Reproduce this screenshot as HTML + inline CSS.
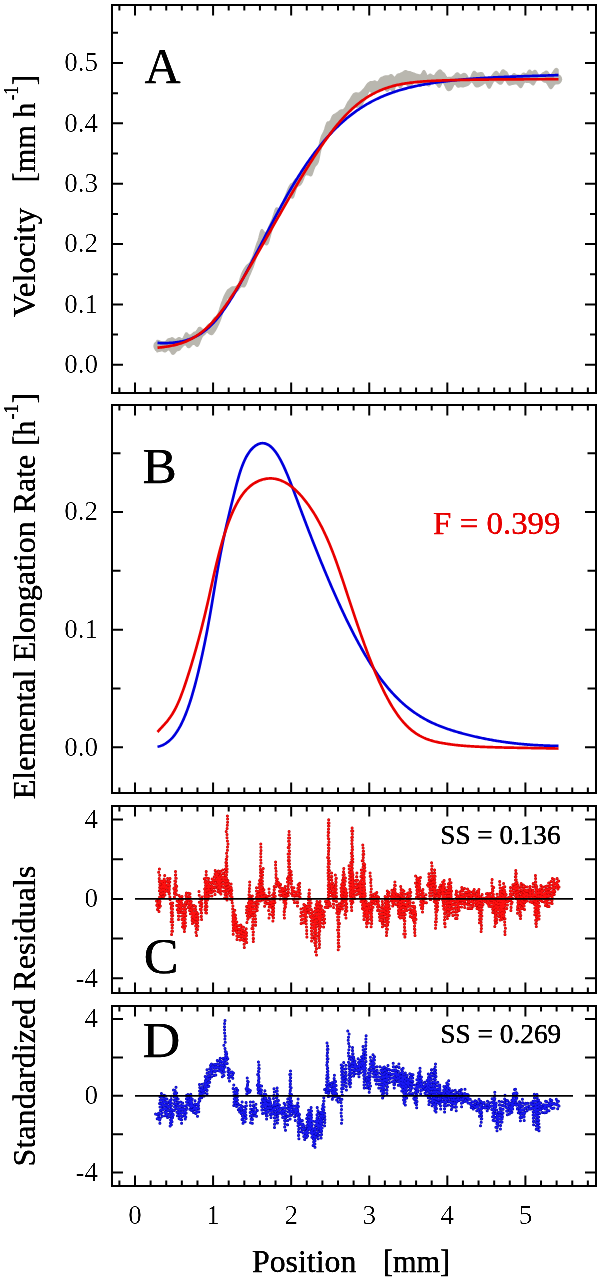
<!DOCTYPE html>
<html><head><meta charset="utf-8"><style>
html,body{margin:0;padding:0;background:#fff;width:600px;height:1280px;overflow:hidden}
svg{display:block}
text{font-family:"Liberation Serif",serif;white-space:pre}
</style></head><body>
<svg width="600" height="1280" viewBox="0 0 600 1280">
<path d="M157.0 340.4 157.5 340.4 158.0 340.5 158.5 340.7 159.0 340.9 159.5 341.2 160.0 341.6 160.5 341.9 161.0 342.1 161.5 342.2 162.0 342.2 162.5 342.1 163.0 342.1 163.5 342.0 164.0 342.1 164.5 342.1 165.0 342.0 165.5 341.8 166.0 341.4 166.5 340.8 167.0 340.2 167.5 339.6 168.0 339.2 168.5 338.9 169.0 338.8 169.5 338.7 170.0 338.6 170.5 338.4 171.0 338.2 171.5 337.9 172.0 337.8 172.5 337.9 173.0 338.2 173.5 338.6 174.0 339.0 174.5 339.3 175.0 339.5 175.5 339.5 176.0 339.4 176.5 339.2 177.0 338.8 177.5 338.5 178.0 338.1 178.5 337.8 179.0 337.7 179.5 337.7 180.0 337.9 180.5 338.3 181.0 338.6 181.5 338.9 182.0 339.0 182.5 338.8 183.0 338.3 183.5 337.6 184.0 336.7 184.5 335.6 185.0 334.5 185.5 333.6 186.0 333.0 186.5 332.9 187.0 333.1 187.5 333.6 188.0 334.2 188.5 334.7 189.0 335.1 189.5 335.3 190.0 335.3 190.5 335.2 191.0 334.9 191.5 334.6 192.0 334.2 192.5 333.7 193.0 333.3 193.5 332.8 194.0 332.5 194.5 332.3 195.0 332.1 195.5 331.9 196.0 331.6 196.5 331.1 197.0 330.5 197.5 329.6 198.0 328.8 198.5 328.1 199.0 327.6 199.5 327.4 200.0 327.4 200.5 327.6 201.0 328.0 201.5 328.5 202.0 328.9 202.5 329.3 203.0 329.6 203.5 329.7 204.0 329.7 204.5 329.5 205.0 329.0 205.5 328.4 206.0 327.6 206.5 326.9 207.0 326.1 207.5 325.5 208.0 324.9 208.5 324.5 209.0 324.2 209.5 324.0 210.0 323.8 210.5 323.5 211.0 323.1 211.5 322.4 212.0 321.6 212.5 320.7 213.0 319.8 213.5 319.0 214.0 318.3 214.5 317.7 215.0 317.2 215.5 316.9 216.0 316.5 216.5 316.1 217.0 315.5 217.5 314.8 218.0 314.0 218.5 312.9 219.0 311.4 219.5 309.9 220.0 308.2 220.5 306.6 221.0 305.1 221.5 303.6 222.0 302.2 222.5 300.9 223.0 299.5 223.5 298.2 224.0 296.9 224.5 295.8 225.0 294.8 225.5 293.8 226.0 292.9 226.5 292.0 227.0 291.1 227.5 290.4 228.0 289.9 228.5 289.5 229.0 289.2 229.5 288.9 230.0 288.5 230.5 288.2 231.0 287.7 231.5 287.4 232.0 287.1 232.5 287.0 233.0 287.0 233.5 287.0 234.0 287.0 234.5 287.0 235.0 286.9 235.5 286.6 236.0 286.4 236.5 286.1 237.0 285.7 237.5 285.3 238.0 284.7 238.5 283.8 239.0 282.7 239.5 281.2 240.0 279.5 240.5 277.8 241.0 276.2 241.5 274.7 242.0 273.3 242.5 272.2 243.0 271.1 243.5 270.3 244.0 269.5 244.5 268.7 245.0 267.9 245.5 267.1 246.0 266.4 246.5 265.7 247.0 265.2 247.5 264.7 248.0 264.4 248.5 264.1 249.0 263.7 249.5 263.1 250.0 262.4 250.5 261.5 251.0 260.4 251.5 259.3 252.0 258.3 252.5 257.2 253.0 256.0 253.5 254.6 254.0 253.1 254.5 251.4 255.0 249.8 255.5 248.1 256.0 246.4 256.5 244.9 257.0 243.5 257.5 242.2 258.0 240.9 258.5 239.4 259.0 237.7 259.5 235.8 260.0 233.8 260.5 232.0 261.0 230.6 261.5 229.8 262.0 229.6 262.5 229.9 263.0 230.6 263.5 231.3 264.0 232.0 264.5 232.5 265.0 232.8 265.5 232.8 266.0 232.4 266.5 231.8 267.0 231.0 267.5 230.1 268.0 229.1 268.5 227.9 269.0 226.7 269.5 225.5 270.0 224.4 270.5 223.3 271.0 222.1 271.5 220.9 272.0 219.7 272.5 218.5 273.0 217.1 273.5 215.6 274.0 213.9 274.5 212.2 275.0 210.6 275.5 209.3 276.0 208.4 276.5 208.0 277.0 208.0 277.5 208.2 278.0 208.6 278.5 208.9 279.0 209.1 279.5 208.9 280.0 208.3 280.5 207.4 281.0 206.4 281.5 205.3 282.0 204.3 282.5 203.4 283.0 202.4 283.5 201.3 284.0 200.0 284.5 198.6 285.0 197.3 285.5 195.9 286.0 194.5 286.5 193.2 287.0 191.9 287.5 190.6 288.0 189.3 288.5 188.1 289.0 187.0 289.5 186.1 290.0 185.3 290.5 184.7 291.0 184.1 291.5 183.7 292.0 183.4 292.5 183.0 293.0 182.5 293.5 181.9 294.0 181.2 294.5 180.4 295.0 179.8 295.5 179.3 296.0 179.0 296.5 178.8 297.0 178.6 297.5 178.3 298.0 177.7 298.5 177.1 299.0 176.4 299.5 175.6 300.0 174.9 300.5 174.2 301.0 173.4 301.5 172.5 302.0 171.4 302.5 170.3 303.0 169.3 303.5 168.5 304.0 167.9 304.5 167.7 305.0 167.8 305.5 168.1 306.0 168.2 306.5 168.2 307.0 167.9 307.5 167.4 308.0 166.6 308.5 165.6 309.0 164.7 309.5 163.8 310.0 163.0 310.5 162.2 311.0 161.4 311.5 160.6 312.0 159.7 312.5 158.8 313.0 158.1 313.5 157.4 314.0 156.9 314.5 156.4 315.0 155.9 315.5 155.4 316.0 154.9 316.5 154.3 317.0 153.4 317.5 152.1 318.0 150.6 318.5 148.7 319.0 146.4 319.5 144.0 320.0 141.7 320.5 139.7 321.0 137.9 321.5 136.4 322.0 135.3 322.5 134.3 323.0 133.4 323.5 132.4 324.0 131.3 324.5 130.0 325.0 128.5 325.5 126.8 326.0 125.2 326.5 123.9 327.0 122.8 327.5 122.2 328.0 122.0 328.5 122.0 329.0 122.0 329.5 121.8 330.0 121.3 330.5 120.5 331.0 119.5 331.5 118.3 332.0 117.2 332.5 116.2 333.0 115.5 333.5 115.0 334.0 114.7 334.5 114.5 335.0 114.2 335.5 113.9 336.0 113.6 336.5 113.2 337.0 112.9 337.5 112.6 338.0 112.2 338.5 111.8 339.0 111.3 339.5 110.9 340.0 110.5 340.5 110.3 341.0 110.1 341.5 110.1 342.0 110.1 342.5 109.9 343.0 109.7 343.5 109.4 344.0 109.0 344.5 108.5 345.0 107.9 345.5 107.1 346.0 106.2 346.5 105.1 347.0 104.0 347.5 103.1 348.0 102.2 348.5 101.5 349.0 100.9 349.5 100.3 350.0 99.5 350.5 98.7 351.0 97.8 351.5 97.0 352.0 96.1 352.5 95.4 353.0 94.7 353.5 94.1 354.0 93.7 354.5 93.4 355.0 93.2 355.5 93.1 356.0 93.1 356.5 93.0 357.0 93.1 357.5 93.2 358.0 93.3 358.5 93.3 359.0 93.2 359.5 92.9 360.0 92.6 360.5 92.2 361.0 91.8 361.5 91.3 362.0 90.9 362.5 90.4 363.0 89.9 363.5 89.4 364.0 88.9 364.5 88.2 365.0 87.5 365.5 86.8 366.0 86.0 366.5 85.2 367.0 84.5 367.5 83.9 368.0 83.4 368.5 83.0 369.0 82.6 369.5 82.3 370.0 82.0 370.5 81.8 371.0 81.7 371.5 81.7 372.0 81.7 372.5 81.7 373.0 81.6 373.5 81.4 374.0 81.2 374.5 81.0 375.0 81.1 375.5 81.3 376.0 81.6 376.5 81.9 377.0 82.1 377.5 82.1 378.0 81.8 378.5 81.2 379.0 80.4 379.5 79.6 380.0 78.8 380.5 78.2 381.0 77.8 381.5 77.5 382.0 77.4 382.5 77.2 383.0 77.0 383.5 76.7 384.0 76.5 384.5 76.3 385.0 76.2 385.5 76.1 386.0 76.0 386.5 75.9 387.0 75.9 387.5 76.0 388.0 76.0 388.5 75.9 389.0 75.7 389.5 75.4 390.0 75.1 390.5 74.8 391.0 74.7 391.5 74.8 392.0 75.1 392.5 75.6 393.0 76.2 393.5 76.8 394.0 77.3 394.5 77.5 395.0 77.3 395.5 76.9 396.0 76.2 396.5 75.5 397.0 74.9 397.5 74.4 398.0 74.2 398.5 74.1 399.0 74.1 399.5 74.0 400.0 73.8 400.5 73.5 401.0 73.2 401.5 72.9 402.0 72.7 402.5 72.4 403.0 72.1 403.5 71.8 404.0 71.4 404.5 71.1 405.0 70.8 405.5 70.7 406.0 70.8 406.5 70.9 407.0 71.2 407.5 71.4 408.0 71.6 408.5 71.7 409.0 71.7 409.5 71.8 410.0 71.8 410.5 71.9 411.0 72.1 411.5 72.4 412.0 72.6 412.5 72.8 413.0 73.0 413.5 73.2 414.0 73.3 414.5 73.5 415.0 73.8 415.5 74.0 416.0 74.2 416.5 74.3 417.0 74.4 417.5 74.5 418.0 74.6 418.5 74.8 419.0 74.9 419.5 75.0 420.0 75.0 420.5 74.9 421.0 74.5 421.5 73.9 422.0 73.1 422.5 72.2 423.0 71.4 423.5 70.8 424.0 70.6 424.5 70.9 425.0 71.6 425.5 72.6 426.0 73.7 426.5 74.7 427.0 75.5 427.5 75.8 428.0 75.8 428.5 75.4 429.0 74.9 429.5 74.5 430.0 74.3 430.5 74.3 431.0 74.5 431.5 74.9 432.0 75.2 432.5 75.5 433.0 75.8 433.5 75.9 434.0 75.8 434.5 75.5 435.0 75.0 435.5 74.3 436.0 73.5 436.5 72.8 437.0 72.2 437.5 71.7 438.0 71.2 438.5 70.8 439.0 70.4 439.5 70.2 440.0 70.1 440.5 70.2 441.0 70.6 441.5 71.1 442.0 71.7 442.5 72.2 443.0 72.6 443.5 72.9 444.0 73.3 444.5 73.9 445.0 74.7 445.5 75.6 446.0 76.5 446.5 77.2 447.0 77.6 447.5 77.8 448.0 77.7 448.5 77.6 449.0 77.5 449.5 77.5 450.0 77.5 450.5 77.5 451.0 77.5 451.5 77.4 452.0 77.2 452.5 77.0 453.0 76.6 453.5 76.2 454.0 75.7 454.5 75.2 455.0 74.7 455.5 74.1 456.0 73.7 456.5 73.3 457.0 73.0 457.5 73.0 458.0 73.2 458.5 73.6 459.0 74.1 459.5 74.6 460.0 75.0 460.5 75.1 461.0 75.1 461.5 74.8 462.0 74.5 462.5 74.1 463.0 73.8 463.5 73.6 464.0 73.6 464.5 73.6 465.0 73.8 465.5 74.0 466.0 74.4 466.5 75.0 467.0 75.7 467.5 76.6 468.0 77.6 468.5 78.3 469.0 78.9 469.5 79.0 470.0 78.6 470.5 77.9 471.0 76.8 471.5 75.6 472.0 74.4 472.5 73.3 473.0 72.4 473.5 71.7 474.0 71.4 474.5 71.4 475.0 71.7 475.5 72.2 476.0 72.7 476.5 73.1 477.0 73.3 477.5 73.4 478.0 73.3 478.5 73.2 479.0 73.1 479.5 73.0 480.0 72.9 480.5 72.8 481.0 72.7 481.5 72.7 482.0 72.8 482.5 73.1 483.0 73.7 483.5 74.5 484.0 75.4 484.5 76.4 485.0 77.2 485.5 77.8 486.0 78.1 486.5 78.2 487.0 78.2 487.5 78.2 488.0 78.2 488.5 78.2 489.0 78.3 489.5 78.3 490.0 78.1 490.5 77.7 491.0 77.1 491.5 76.4 492.0 75.6 492.5 74.9 493.0 74.3 493.5 73.7 494.0 73.1 494.5 72.6 495.0 72.1 495.5 71.7 496.0 71.5 496.5 71.5 497.0 71.8 497.5 72.3 498.0 73.0 498.5 73.7 499.0 74.2 499.5 74.3 500.0 73.9 500.5 73.2 501.0 72.2 501.5 71.3 502.0 70.5 502.5 70.1 503.0 69.9 503.5 70.0 504.0 70.3 504.5 70.7 505.0 71.0 505.5 71.4 506.0 71.7 506.5 72.1 507.0 72.7 507.5 73.5 508.0 74.5 508.5 75.7 509.0 76.7 509.5 77.5 510.0 77.9 510.5 77.8 511.0 77.3 511.5 76.6 512.0 75.8 512.5 75.0 513.0 74.4 513.5 73.9 514.0 73.8 514.5 73.8 515.0 74.1 515.5 74.5 516.0 74.8 516.5 75.1 517.0 75.2 517.5 75.2 518.0 75.2 518.5 75.2 519.0 75.3 519.5 75.4 520.0 75.4 520.5 75.4 521.0 75.1 521.5 74.8 522.0 74.3 522.5 73.8 523.0 73.5 523.5 73.3 524.0 73.3 524.5 73.5 525.0 73.8 525.5 74.0 526.0 73.9 526.5 73.7 527.0 73.2 527.5 72.5 528.0 71.7 528.5 71.0 529.0 70.5 529.5 70.2 530.0 70.3 530.5 70.7 531.0 71.3 531.5 71.8 532.0 72.1 532.5 72.1 533.0 71.9 533.5 71.4 534.0 70.9 534.5 70.5 535.0 70.4 535.5 70.6 536.0 71.1 536.5 71.8 537.0 72.6 537.5 73.5 538.0 74.4 538.5 75.1 539.0 75.6 539.5 75.8 540.0 75.8 540.5 75.5 541.0 74.9 541.5 74.3 542.0 73.8 542.5 73.3 543.0 72.9 543.5 72.6 544.0 72.4 544.5 72.1 545.0 71.8 545.5 71.5 546.0 71.3 546.5 71.2 547.0 71.4 547.5 71.8 548.0 72.4 548.5 73.1 549.0 73.8 549.5 74.4 550.0 74.8 550.5 75.0 551.0 74.8 551.5 74.4 552.0 73.7 552.5 73.0 553.0 72.1 553.5 71.4 554.0 70.6 554.5 69.9 555.0 69.3 555.5 68.9 556.0 68.6 556.5 68.6 557.0 68.8 557.5 69.2 558.0 69.8 L558.0 82.2 557.5 82.4 557.0 82.7 556.5 83.1 556.0 83.3 555.5 83.6 555.0 84.0 554.5 84.4 554.0 84.9 553.5 85.6 553.0 86.4 552.5 87.2 552.0 87.8 551.5 88.3 551.0 88.5 550.5 88.4 550.0 88.0 549.5 87.4 549.0 86.6 548.5 85.7 548.0 84.8 547.5 83.9 547.0 83.2 546.5 82.6 546.0 82.2 545.5 82.0 545.0 81.9 544.5 81.9 544.0 81.8 543.5 81.6 543.0 81.2 542.5 80.7 542.0 80.2 541.5 79.8 541.0 79.6 540.5 79.5 540.0 79.5 539.5 79.6 539.0 79.7 538.5 79.8 538.0 79.8 537.5 79.8 537.0 79.9 536.5 80.2 536.0 80.7 535.5 81.5 535.0 82.5 534.5 83.4 534.0 84.2 533.5 84.7 533.0 84.8 532.5 84.6 532.0 84.2 531.5 83.7 531.0 83.2 530.5 82.9 530.0 82.6 529.5 82.4 529.0 82.3 528.5 82.2 528.0 82.2 527.5 82.2 527.0 82.2 526.5 82.2 526.0 82.1 525.5 82.0 525.0 82.1 524.5 82.3 524.0 82.7 523.5 83.4 523.0 84.3 522.5 85.3 522.0 86.3 521.5 87.1 521.0 87.5 520.5 87.5 520.0 87.2 519.5 86.7 519.0 86.0 518.5 85.4 518.0 84.9 517.5 84.4 517.0 84.1 516.5 83.9 516.0 83.7 515.5 83.6 515.0 83.7 514.5 83.8 514.0 84.0 513.5 84.1 513.0 84.2 512.5 84.2 512.0 84.3 511.5 84.4 511.0 84.6 510.5 84.8 510.0 84.9 509.5 85.0 509.0 84.8 508.5 84.5 508.0 83.9 507.5 83.2 507.0 82.4 506.5 81.5 506.0 80.8 505.5 80.2 505.0 79.9 504.5 79.9 504.0 80.3 503.5 80.9 503.0 81.7 502.5 82.5 502.0 83.2 501.5 83.7 501.0 84.0 500.5 84.1 500.0 84.0 499.5 83.8 499.0 83.5 498.5 83.2 498.0 82.8 497.5 82.3 497.0 81.9 496.5 81.5 496.0 81.2 495.5 80.9 495.0 80.7 494.5 80.7 494.0 80.9 493.5 81.3 493.0 82.0 492.5 82.8 492.0 83.8 491.5 84.9 491.0 86.0 490.5 86.9 490.0 87.7 489.5 88.1 489.0 88.1 488.5 87.7 488.0 87.0 487.5 86.1 487.0 85.0 486.5 84.0 486.0 83.2 485.5 82.8 485.0 82.7 484.5 82.9 484.0 83.3 483.5 83.7 483.0 84.1 482.5 84.5 482.0 84.8 481.5 85.1 481.0 85.4 480.5 85.7 480.0 85.9 479.5 86.2 479.0 86.4 478.5 86.6 478.0 86.8 477.5 86.8 477.0 86.8 476.5 86.8 476.0 86.6 475.5 86.2 475.0 85.7 474.5 85.0 474.0 84.2 473.5 83.4 473.0 82.6 472.5 82.1 472.0 81.7 471.5 81.7 471.0 82.0 470.5 82.5 470.0 83.1 469.5 83.7 469.0 84.3 468.5 84.8 468.0 85.1 467.5 85.3 467.0 85.5 466.5 85.7 466.0 85.9 465.5 86.1 465.0 86.2 464.5 86.4 464.0 86.6 463.5 86.7 463.0 86.8 462.5 86.8 462.0 86.7 461.5 86.6 461.0 86.5 460.5 86.4 460.0 86.5 459.5 86.7 459.0 86.9 458.5 87.0 458.0 87.0 457.5 86.7 457.0 86.2 456.5 85.5 456.0 84.8 455.5 84.3 455.0 84.0 454.5 84.0 454.0 84.4 453.5 85.1 453.0 86.1 452.5 87.1 452.0 88.1 451.5 88.9 451.0 89.5 450.5 89.9 450.0 90.2 449.5 90.3 449.0 90.4 448.5 90.4 448.0 90.3 447.5 89.9 447.0 89.4 446.5 88.6 446.0 87.6 445.5 86.5 445.0 85.4 444.5 84.4 444.0 83.6 443.5 83.0 443.0 82.6 442.5 82.6 442.0 82.9 441.5 83.7 441.0 84.7 440.5 85.8 440.0 86.6 439.5 87.1 439.0 87.2 438.5 86.9 438.0 86.3 437.5 85.6 437.0 84.9 436.5 84.4 436.0 83.9 435.5 83.5 435.0 83.2 434.5 83.0 434.0 82.8 433.5 82.7 433.0 82.7 432.5 82.7 432.0 82.8 431.5 83.1 431.0 83.6 430.5 84.2 430.0 84.9 429.5 85.5 429.0 85.9 428.5 85.8 428.0 85.5 427.5 84.9 427.0 84.4 426.5 84.0 426.0 83.9 425.5 84.0 425.0 84.3 424.5 84.6 424.0 84.9 423.5 85.0 423.0 85.1 422.5 85.2 422.0 85.4 421.5 85.7 421.0 86.0 420.5 86.2 420.0 86.1 419.5 85.8 419.0 85.1 418.5 84.3 418.0 83.5 417.5 82.7 417.0 82.0 416.5 81.5 416.0 81.0 415.5 80.8 415.0 80.7 414.5 80.8 414.0 81.3 413.5 82.0 413.0 82.9 412.5 83.9 412.0 84.8 411.5 85.6 411.0 86.2 410.5 86.7 410.0 87.0 409.5 87.2 409.0 87.1 408.5 86.8 408.0 86.2 407.5 85.6 407.0 85.0 406.5 84.5 406.0 84.3 405.5 84.1 405.0 84.1 404.5 84.1 404.0 84.1 403.5 84.3 403.0 84.6 402.5 85.1 402.0 85.8 401.5 86.6 401.0 87.3 400.5 87.8 400.0 87.8 399.5 87.4 399.0 86.6 398.5 85.5 398.0 84.4 397.5 83.6 397.0 83.2 396.5 83.4 396.0 84.3 395.5 85.7 395.0 87.3 394.5 88.9 394.0 90.2 393.5 91.1 393.0 91.4 392.5 91.3 392.0 90.8 391.5 90.2 391.0 89.5 390.5 89.1 390.0 89.0 389.5 89.2 389.0 89.7 388.5 90.3 388.0 90.8 387.5 91.1 387.0 91.2 386.5 90.9 386.0 90.5 385.5 89.9 385.0 89.2 384.5 88.6 384.0 88.2 383.5 87.9 383.0 88.0 382.5 88.3 382.0 88.8 381.5 89.3 381.0 89.7 380.5 90.0 380.0 90.2 379.5 90.2 379.0 90.1 378.5 90.0 378.0 90.1 377.5 90.3 377.0 90.8 376.5 91.4 376.0 92.1 375.5 92.8 375.0 93.4 374.5 93.9 374.0 94.2 373.5 94.3 373.0 94.2 372.5 93.9 372.0 93.3 371.5 92.6 371.0 91.8 370.5 91.2 370.0 90.8 369.5 90.8 369.0 91.1 368.5 91.8 368.0 92.8 367.5 94.0 367.0 95.3 366.5 96.6 366.0 97.8 365.5 98.8 365.0 99.7 364.5 100.4 364.0 101.1 363.5 101.8 363.0 102.6 362.5 103.6 362.0 104.6 361.5 105.5 361.0 106.1 360.5 106.5 360.0 106.6 359.5 106.6 359.0 106.6 358.5 106.7 358.0 106.9 357.5 107.1 357.0 107.2 356.5 107.1 356.0 107.0 355.5 106.8 355.0 106.5 354.5 106.4 354.0 106.4 353.5 106.8 353.0 107.3 352.5 108.1 352.0 108.9 351.5 109.7 351.0 110.4 350.5 110.9 350.0 111.4 349.5 111.8 349.0 112.2 348.5 112.6 348.0 113.1 347.5 113.7 347.0 114.5 346.5 115.3 346.0 116.2 345.5 117.3 345.0 118.4 344.5 119.4 344.0 120.3 343.5 121.0 343.0 121.2 342.5 121.1 342.0 120.8 341.5 120.5 341.0 120.5 340.5 120.8 340.0 121.6 339.5 122.7 339.0 124.0 338.5 125.2 338.0 126.2 337.5 126.9 337.0 127.3 336.5 127.5 336.0 127.8 335.5 128.2 335.0 128.8 334.5 129.4 334.0 130.1 333.5 130.7 333.0 131.3 332.5 131.8 332.0 132.3 331.5 132.6 331.0 132.8 330.5 132.9 330.0 132.9 329.5 132.8 329.0 132.7 328.5 132.8 328.0 133.0 327.5 133.4 327.0 134.2 326.5 135.1 326.0 136.2 325.5 137.4 325.0 138.8 324.5 140.2 324.0 141.6 323.5 142.9 323.0 144.1 322.5 145.1 322.0 146.1 321.5 147.3 321.0 148.8 320.5 150.8 320.0 153.2 319.5 155.8 319.0 158.4 318.5 160.6 318.0 162.2 317.5 163.3 317.0 164.1 316.5 164.7 316.0 165.2 315.5 165.7 315.0 166.4 314.5 167.4 314.0 168.6 313.5 170.0 313.0 171.6 312.5 173.1 312.0 174.4 311.5 175.3 311.0 175.7 310.5 175.7 310.0 175.5 309.5 175.2 309.0 174.9 308.5 174.8 308.0 174.7 307.5 174.7 307.0 174.6 306.5 174.6 306.0 174.6 305.5 174.9 305.0 175.4 304.5 176.2 304.0 177.3 303.5 178.7 303.0 180.0 302.5 181.3 302.0 182.3 301.5 183.1 301.0 183.9 300.5 184.5 300.0 185.0 299.5 185.3 299.0 185.6 298.5 185.7 298.0 185.9 297.5 186.2 297.0 186.8 296.5 187.7 296.0 189.0 295.5 190.5 295.0 192.2 294.5 193.9 294.0 195.6 293.5 196.9 293.0 197.7 292.5 198.0 292.0 197.9 291.5 197.4 291.0 196.7 290.5 195.9 290.0 195.2 289.5 194.6 289.0 194.5 288.5 194.8 288.0 195.5 287.5 196.5 287.0 197.7 286.5 199.1 286.0 200.4 285.5 201.6 285.0 202.7 284.5 203.7 284.0 204.8 283.5 206.0 283.0 207.3 282.5 208.7 282.0 210.1 281.5 211.6 281.0 213.0 280.5 214.3 280.0 215.2 279.5 215.9 279.0 216.3 278.5 216.5 278.0 216.7 277.5 217.0 277.0 217.6 276.5 218.4 276.0 219.3 275.5 220.5 275.0 221.7 274.5 223.1 274.0 224.5 273.5 225.8 273.0 227.1 272.5 228.3 272.0 229.6 271.5 231.1 271.0 232.8 270.5 234.7 270.0 236.7 269.5 238.6 269.0 240.5 268.5 242.1 268.0 243.4 267.5 244.2 267.0 244.6 266.5 244.7 266.0 244.7 265.5 244.4 265.0 244.0 264.5 243.4 264.0 242.8 263.5 242.2 263.0 241.7 262.5 241.6 262.0 241.8 261.5 242.3 261.0 243.2 260.5 244.3 260.0 245.5 259.5 246.9 259.0 248.4 258.5 249.9 258.0 251.5 257.5 253.1 257.0 254.7 256.5 256.3 256.0 257.8 255.5 259.4 255.0 260.9 254.5 262.5 254.0 264.0 253.5 265.5 253.0 266.9 252.5 268.2 252.0 269.4 251.5 270.5 251.0 271.7 250.5 272.9 250.0 274.1 249.5 275.2 249.0 276.3 248.5 277.6 248.0 278.9 247.5 280.3 247.0 281.7 246.5 283.0 246.0 284.2 245.5 285.2 245.0 286.0 244.5 286.5 244.0 286.8 243.5 286.8 243.0 286.7 242.5 286.6 242.0 286.4 241.5 286.4 241.0 286.6 240.5 286.9 240.0 287.4 239.5 288.1 239.0 288.9 238.5 289.6 238.0 290.3 237.5 290.8 237.0 290.9 236.5 290.9 236.0 290.7 235.5 290.6 235.0 290.6 234.5 290.9 234.0 291.5 233.5 292.5 233.0 293.7 232.5 295.0 232.0 296.3 231.5 297.5 231.0 298.4 230.5 298.9 230.0 299.0 229.5 298.8 229.0 298.3 228.5 297.8 228.0 297.6 227.5 297.8 227.0 298.6 226.5 299.9 226.0 301.5 225.5 303.3 225.0 305.1 224.5 306.8 224.0 308.4 223.5 309.9 223.0 311.5 222.5 313.1 222.0 314.6 221.5 316.2 221.0 317.7 220.5 319.2 220.0 320.6 219.5 321.8 219.0 323.0 218.5 324.1 218.0 325.1 217.5 326.1 217.0 327.1 216.5 328.2 216.0 329.1 215.5 330.0 215.0 330.8 214.5 331.6 214.0 332.3 213.5 333.0 213.0 333.6 212.5 334.1 212.0 334.4 211.5 334.5 211.0 334.4 210.5 334.2 210.0 334.0 209.5 333.7 209.0 333.3 208.5 332.9 208.0 332.5 207.5 332.1 207.0 332.1 206.5 332.3 206.0 332.7 205.5 333.3 205.0 333.9 204.5 334.4 204.0 334.8 203.5 335.2 203.0 335.6 202.5 336.2 202.0 336.9 201.5 337.9 201.0 339.1 200.5 340.3 200.0 341.6 199.5 342.9 199.0 344.1 198.5 345.1 198.0 345.8 197.5 346.2 197.0 346.2 196.5 346.0 196.0 345.6 195.5 345.1 195.0 344.7 194.5 344.4 194.0 344.2 193.5 344.2 193.0 344.3 192.5 344.5 192.0 344.8 191.5 345.3 191.0 345.9 190.5 346.4 190.0 346.9 189.5 347.3 189.0 347.6 188.5 347.6 188.0 347.4 187.5 346.9 187.0 346.3 186.5 345.6 186.0 345.0 185.5 344.7 185.0 344.6 184.5 344.7 184.0 345.1 183.5 345.5 183.0 345.9 182.5 346.4 182.0 346.9 181.5 347.5 181.0 348.1 180.5 348.8 180.0 349.4 179.5 349.9 179.0 350.2 178.5 350.3 178.0 350.4 177.5 350.5 177.0 350.6 176.5 350.9 176.0 351.4 175.5 352.0 175.0 352.7 174.5 353.3 174.0 353.8 173.5 354.1 173.0 354.2 172.5 354.1 172.0 353.7 171.5 353.0 171.0 352.2 170.5 351.4 170.0 350.7 169.5 350.2 169.0 349.8 168.5 349.7 168.0 349.8 167.5 350.1 167.0 350.5 166.5 351.0 166.0 351.4 165.5 351.7 165.0 351.8 164.5 351.8 164.0 351.6 163.5 351.3 163.0 350.9 162.5 350.7 162.0 350.5 161.5 350.5 161.0 350.5 160.5 350.6 160.0 350.8 159.5 351.0 159.0 351.2 158.5 351.4 158.0 351.6 157.5 351.8 157.0 351.8Z" fill="#b9b7af" stroke="#b9b7af" stroke-width="1.5" stroke-linejoin="round"/><circle cx="159.0" cy="346.1" r="5.7" fill="#b9b7af"/><circle cx="557.0" cy="79.2" r="5.2" fill="#b9b7af"/><path d="M157.5 342.91 158.5 342.96 159.5 343.01 160.5 343.04 161.5 343.07 162.5 343.09 163.5 343.10 164.5 343.10 165.5 343.10 166.5 343.08 167.5 343.05 168.5 343.01 169.5 342.97 170.5 342.91 171.5 342.84 172.5 342.76 173.5 342.67 174.5 342.56 175.5 342.44 176.5 342.31 177.5 342.17 178.5 342.01 179.5 341.84 180.5 341.65 181.5 341.45 182.5 341.23 183.5 340.99 184.5 340.74 185.5 340.47 186.5 340.18 187.5 339.87 188.5 339.54 189.5 339.19 190.5 338.81 191.5 338.42 192.5 338.00 193.5 337.56 194.5 337.10 195.5 336.61 196.5 336.09 197.5 335.55 198.5 334.98 199.5 334.39 200.5 333.76 201.5 333.11 202.5 332.43 203.5 331.72 204.5 330.97 205.5 330.20 206.5 329.39 207.5 328.55 208.5 327.68 209.5 326.77 210.5 325.83 211.5 324.85 212.5 323.84 213.5 322.79 214.5 321.70 215.5 320.57 216.5 319.41 217.5 318.21 218.5 316.97 219.5 315.71 220.5 314.41 221.5 313.08 222.5 311.72 223.5 310.33 224.5 308.91 225.5 307.47 226.5 306.00 227.5 304.51 228.5 302.99 229.5 301.45 230.5 299.89 231.5 298.30 232.5 296.69 233.5 295.05 234.5 293.40 235.5 291.72 236.5 290.02 237.5 288.29 238.5 286.55 239.5 284.79 240.5 283.00 241.5 281.21 242.5 279.39 243.5 277.56 244.5 275.72 245.5 273.87 246.5 272.01 247.5 270.13 248.5 268.25 249.5 266.36 250.5 264.47 251.5 262.57 252.5 260.66 253.5 258.75 254.5 256.83 255.5 254.91 256.5 252.99 257.5 251.07 258.5 249.14 259.5 247.21 260.5 245.28 261.5 243.35 262.5 241.43 263.5 239.50 264.5 237.57 265.5 235.65 266.5 233.73 267.5 231.81 268.5 229.90 269.5 227.99 270.5 226.08 271.5 224.18 272.5 222.28 273.5 220.39 274.5 218.50 275.5 216.62 276.5 214.74 277.5 212.87 278.5 211.00 279.5 209.15 280.5 207.30 281.5 205.47 282.5 203.64 283.5 201.83 284.5 200.02 285.5 198.23 286.5 196.45 287.5 194.69 288.5 192.94 289.5 191.20 290.5 189.48 291.5 187.77 292.5 186.08 293.5 184.40 294.5 182.74 295.5 181.09 296.5 179.46 297.5 177.85 298.5 176.25 299.5 174.67 300.5 173.11 301.5 171.56 302.5 170.03 303.5 168.51 304.5 167.01 305.5 165.53 306.5 164.07 307.5 162.62 308.5 161.18 309.5 159.77 310.5 158.36 311.5 156.98 312.5 155.61 313.5 154.26 314.5 152.93 315.5 151.61 316.5 150.31 317.5 149.02 318.5 147.75 319.5 146.50 320.5 145.26 321.5 144.04 322.5 142.84 323.5 141.65 324.5 140.48 325.5 139.32 326.5 138.19 327.5 137.06 328.5 135.95 329.5 134.86 330.5 133.78 331.5 132.72 332.5 131.68 333.5 130.65 334.5 129.63 335.5 128.63 336.5 127.64 337.5 126.67 338.5 125.72 339.5 124.78 340.5 123.85 341.5 122.94 342.5 122.04 343.5 121.16 344.5 120.29 345.5 119.43 346.5 118.59 347.5 117.76 348.5 116.94 349.5 116.14 350.5 115.36 351.5 114.58 352.5 113.82 353.5 113.07 354.5 112.33 355.5 111.61 356.5 110.90 357.5 110.20 358.5 109.52 359.5 108.85 360.5 108.18 361.5 107.53 362.5 106.90 363.5 106.27 364.5 105.66 365.5 105.06 366.5 104.46 367.5 103.88 368.5 103.31 369.5 102.76 370.5 102.21 371.5 101.67 372.5 101.14 373.5 100.63 374.5 100.12 375.5 99.62 376.5 99.14 377.5 98.66 378.5 98.19 379.5 97.73 380.5 97.28 381.5 96.84 382.5 96.41 383.5 95.99 384.5 95.57 385.5 95.17 386.5 94.77 387.5 94.38 388.5 94.00 389.5 93.62 390.5 93.26 391.5 92.90 392.5 92.55 393.5 92.20 394.5 91.87 395.5 91.53 396.5 91.21 397.5 90.89 398.5 90.58 399.5 90.28 400.5 89.98 401.5 89.69 402.5 89.40 403.5 89.12 404.5 88.85 405.5 88.58 406.5 88.32 407.5 88.06 408.5 87.81 409.5 87.56 410.5 87.32 411.5 87.08 412.5 86.85 413.5 86.62 414.5 86.40 415.5 86.18 416.5 85.97 417.5 85.76 418.5 85.55 419.5 85.35 420.5 85.15 421.5 84.96 422.5 84.77 423.5 84.58 424.5 84.40 425.5 84.22 426.5 84.05 427.5 83.88 428.5 83.71 429.5 83.55 430.5 83.38 431.5 83.23 432.5 83.07 433.5 82.92 434.5 82.77 435.5 82.62 436.5 82.48 437.5 82.34 438.5 82.20 439.5 82.06 440.5 81.93 441.5 81.80 442.5 81.67 443.5 81.55 444.5 81.42 445.5 81.30 446.5 81.18 447.5 81.06 448.5 80.95 449.5 80.84 450.5 80.73 451.5 80.62 452.5 80.51 453.5 80.40 454.5 80.30 455.5 80.20 456.5 80.10 457.5 80.00 458.5 79.91 459.5 79.81 460.5 79.72 461.5 79.63 462.5 79.54 463.5 79.45 464.5 79.37 465.5 79.28 466.5 79.20 467.5 79.12 468.5 79.04 469.5 78.96 470.5 78.88 471.5 78.81 472.5 78.73 473.5 78.66 474.5 78.59 475.5 78.52 476.5 78.45 477.5 78.38 478.5 78.31 479.5 78.25 480.5 78.18 481.5 78.12 482.5 78.06 483.5 78.00 484.5 77.94 485.5 77.88 486.5 77.83 487.5 77.77 488.5 77.71 489.5 77.66 490.5 77.61 491.5 77.55 492.5 77.50 493.5 77.45 494.5 77.40 495.5 77.35 496.5 77.31 497.5 77.26 498.5 77.21 499.5 77.17 500.5 77.12 501.5 77.08 502.5 77.04 503.5 76.99 504.5 76.95 505.5 76.91 506.5 76.87 507.5 76.83 508.5 76.79 509.5 76.75 510.5 76.71 511.5 76.67 512.5 76.64 513.5 76.60 514.5 76.56 515.5 76.53 516.5 76.49 517.5 76.46 518.5 76.42 519.5 76.39 520.5 76.35 521.5 76.32 522.5 76.28 523.5 76.25 524.5 76.22 525.5 76.18 526.5 76.15 527.5 76.12 528.5 76.09 529.5 76.05 530.5 76.02 531.5 75.99 532.5 75.96 533.5 75.93 534.5 75.90 535.5 75.86 536.5 75.83 537.5 75.80 538.5 75.77 539.5 75.74 540.5 75.71 541.5 75.67 542.5 75.64 543.5 75.61 544.5 75.58 545.5 75.55 546.5 75.51 547.5 75.48 548.5 75.45 549.5 75.41 550.5 75.38 551.5 75.35 552.5 75.31 553.5 75.28 554.5 75.25 555.5 75.21 556.5 75.18 557.5 75.14 558.5 75.10" fill="none" stroke="#0000dc" stroke-width="2.7"/><path d="M157.5 347.71 158.5 347.62 159.5 347.52 160.5 347.42 161.5 347.30 162.5 347.18 163.5 347.06 164.5 346.92 165.5 346.78 166.5 346.63 167.5 346.47 168.5 346.31 169.5 346.13 170.5 345.95 171.5 345.75 172.5 345.55 173.5 345.33 174.5 345.11 175.5 344.87 176.5 344.62 177.5 344.35 178.5 344.07 179.5 343.78 180.5 343.47 181.5 343.14 182.5 342.79 183.5 342.43 184.5 342.05 185.5 341.64 186.5 341.22 187.5 340.78 188.5 340.32 189.5 339.84 190.5 339.33 191.5 338.81 192.5 338.26 193.5 337.69 194.5 337.09 195.5 336.48 196.5 335.84 197.5 335.18 198.5 334.49 199.5 333.78 200.5 333.04 201.5 332.28 202.5 331.49 203.5 330.68 204.5 329.84 205.5 328.97 206.5 328.08 207.5 327.15 208.5 326.20 209.5 325.22 210.5 324.21 211.5 323.16 212.5 322.09 213.5 320.99 214.5 319.86 215.5 318.70 216.5 317.51 217.5 316.30 218.5 315.06 219.5 313.79 220.5 312.49 221.5 311.18 222.5 309.84 223.5 308.47 224.5 307.09 225.5 305.68 226.5 304.25 227.5 302.80 228.5 301.34 229.5 299.86 230.5 298.36 231.5 296.84 232.5 295.31 233.5 293.76 234.5 292.20 235.5 290.62 236.5 289.03 237.5 287.43 238.5 285.82 239.5 284.19 240.5 282.56 241.5 280.91 242.5 279.26 243.5 277.60 244.5 275.92 245.5 274.24 246.5 272.56 247.5 270.86 248.5 269.16 249.5 267.45 250.5 265.74 251.5 264.02 252.5 262.30 253.5 260.57 254.5 258.83 255.5 257.10 256.5 255.36 257.5 253.61 258.5 251.86 259.5 250.11 260.5 248.36 261.5 246.60 262.5 244.85 263.5 243.09 264.5 241.32 265.5 239.56 266.5 237.79 267.5 236.03 268.5 234.26 269.5 232.50 270.5 230.73 271.5 228.96 272.5 227.19 273.5 225.43 274.5 223.66 275.5 221.89 276.5 220.13 277.5 218.37 278.5 216.61 279.5 214.85 280.5 213.09 281.5 211.34 282.5 209.58 283.5 207.83 284.5 206.09 285.5 204.34 286.5 202.61 287.5 200.87 288.5 199.14 289.5 197.41 290.5 195.69 291.5 193.97 292.5 192.26 293.5 190.55 294.5 188.85 295.5 187.15 296.5 185.46 297.5 183.78 298.5 182.10 299.5 180.43 300.5 178.76 301.5 177.10 302.5 175.45 303.5 173.81 304.5 172.18 305.5 170.55 306.5 168.93 307.5 167.33 308.5 165.73 309.5 164.13 310.5 162.55 311.5 160.98 312.5 159.42 313.5 157.87 314.5 156.32 315.5 154.79 316.5 153.27 317.5 151.76 318.5 150.27 319.5 148.78 320.5 147.31 321.5 145.85 322.5 144.40 323.5 142.96 324.5 141.54 325.5 140.13 326.5 138.74 327.5 137.36 328.5 136.00 329.5 134.65 330.5 133.32 331.5 132.00 332.5 130.70 333.5 129.42 334.5 128.15 335.5 126.90 336.5 125.67 337.5 124.46 338.5 123.26 339.5 122.09 340.5 120.93 341.5 119.79 342.5 118.68 343.5 117.58 344.5 116.50 345.5 115.44 346.5 114.40 347.5 113.38 348.5 112.39 349.5 111.41 350.5 110.45 351.5 109.51 352.5 108.59 353.5 107.69 354.5 106.81 355.5 105.95 356.5 105.11 357.5 104.29 358.5 103.48 359.5 102.70 360.5 101.93 361.5 101.19 362.5 100.46 363.5 99.75 364.5 99.06 365.5 98.38 366.5 97.73 367.5 97.09 368.5 96.47 369.5 95.87 370.5 95.28 371.5 94.71 372.5 94.16 373.5 93.62 374.5 93.10 375.5 92.60 376.5 92.11 377.5 91.63 378.5 91.18 379.5 90.73 380.5 90.30 381.5 89.89 382.5 89.49 383.5 89.10 384.5 88.72 385.5 88.36 386.5 88.01 387.5 87.68 388.5 87.35 389.5 87.04 390.5 86.74 391.5 86.45 392.5 86.17 393.5 85.91 394.5 85.65 395.5 85.40 396.5 85.17 397.5 84.94 398.5 84.72 399.5 84.51 400.5 84.31 401.5 84.12 402.5 83.93 403.5 83.76 404.5 83.59 405.5 83.43 406.5 83.27 407.5 83.12 408.5 82.98 409.5 82.84 410.5 82.71 411.5 82.59 412.5 82.47 413.5 82.35 414.5 82.25 415.5 82.14 416.5 82.04 417.5 81.94 418.5 81.85 419.5 81.76 420.5 81.68 421.5 81.60 422.5 81.52 423.5 81.45 424.5 81.38 425.5 81.31 426.5 81.24 427.5 81.18 428.5 81.12 429.5 81.06 430.5 81.00 431.5 80.95 432.5 80.89 433.5 80.84 434.5 80.80 435.5 80.75 436.5 80.70 437.5 80.66 438.5 80.62 439.5 80.57 440.5 80.53 441.5 80.50 442.5 80.46 443.5 80.42 444.5 80.39 445.5 80.35 446.5 80.32 447.5 80.29 448.5 80.26 449.5 80.23 450.5 80.20 451.5 80.17 452.5 80.14 453.5 80.11 454.5 80.09 455.5 80.06 456.5 80.04 457.5 80.01 458.5 79.99 459.5 79.97 460.5 79.95 461.5 79.93 462.5 79.91 463.5 79.89 464.5 79.87 465.5 79.85 466.5 79.83 467.5 79.81 468.5 79.79 469.5 79.78 470.5 79.76 471.5 79.74 472.5 79.73 473.5 79.71 474.5 79.70 475.5 79.69 476.5 79.67 477.5 79.66 478.5 79.64 479.5 79.63 480.5 79.62 481.5 79.61 482.5 79.59 483.5 79.58 484.5 79.57 485.5 79.56 486.5 79.55 487.5 79.54 488.5 79.53 489.5 79.52 490.5 79.51 491.5 79.50 492.5 79.49 493.5 79.48 494.5 79.47 495.5 79.46 496.5 79.45 497.5 79.44 498.5 79.43 499.5 79.42 500.5 79.42 501.5 79.41 502.5 79.40 503.5 79.39 504.5 79.39 505.5 79.38 506.5 79.37 507.5 79.36 508.5 79.36 509.5 79.35 510.5 79.35 511.5 79.34 512.5 79.33 513.5 79.33 514.5 79.32 515.5 79.32 516.5 79.31 517.5 79.31 518.5 79.30 519.5 79.30 520.5 79.29 521.5 79.29 522.5 79.28 523.5 79.28 524.5 79.27 525.5 79.27 526.5 79.27 527.5 79.26 528.5 79.26 529.5 79.26 530.5 79.25 531.5 79.25 532.5 79.25 533.5 79.24 534.5 79.24 535.5 79.24 536.5 79.24 537.5 79.24 538.5 79.23 539.5 79.23 540.5 79.23 541.5 79.23 542.5 79.23 543.5 79.23 544.5 79.23 545.5 79.22 546.5 79.22 547.5 79.22 548.5 79.22 549.5 79.22 550.5 79.22 551.5 79.22 552.5 79.22 553.5 79.22 554.5 79.23 555.5 79.23 556.5 79.23 557.5 79.23 558.5 79.23" fill="none" stroke="#e80000" stroke-width="2.7"/><path d="M157.5 746.74 158.5 746.51 159.5 746.24 160.5 745.92 161.5 745.55 162.5 745.14 163.5 744.67 164.5 744.15 165.5 743.56 166.5 742.92 167.5 742.21 168.5 741.43 169.5 740.57 170.5 739.65 171.5 738.64 172.5 737.55 173.5 736.38 174.5 735.12 175.5 733.77 176.5 732.33 177.5 730.79 178.5 729.15 179.5 727.41 180.5 725.56 181.5 723.60 182.5 721.53 183.5 719.34 184.5 717.03 185.5 714.61 186.5 712.05 187.5 709.37 188.5 706.56 189.5 703.62 190.5 700.54 191.5 697.32 192.5 693.96 193.5 690.47 194.5 686.85 195.5 683.10 196.5 679.23 197.5 675.23 198.5 671.10 199.5 666.86 200.5 662.50 201.5 658.03 202.5 653.44 203.5 648.74 204.5 643.93 205.5 638.99 206.5 633.93 207.5 628.72 208.5 623.35 209.5 617.82 210.5 612.11 211.5 606.25 212.5 600.27 213.5 594.24 214.5 588.20 215.5 582.19 216.5 576.28 217.5 570.50 218.5 564.87 219.5 559.40 220.5 554.08 221.5 548.92 222.5 543.92 223.5 539.07 224.5 534.37 225.5 529.79 226.5 525.32 227.5 520.96 228.5 516.69 229.5 512.50 230.5 508.37 231.5 504.30 232.5 500.26 233.5 496.26 234.5 492.28 235.5 488.36 236.5 484.53 237.5 480.82 238.5 477.27 239.5 473.91 240.5 470.77 241.5 467.87 242.5 465.18 243.5 462.71 244.5 460.44 245.5 458.36 246.5 456.46 247.5 454.73 248.5 453.16 249.5 451.73 250.5 450.44 251.5 449.28 252.5 448.23 253.5 447.29 254.5 446.44 255.5 445.69 256.5 445.04 257.5 444.48 258.5 444.03 259.5 443.67 260.5 443.41 261.5 443.25 262.5 443.19 263.5 443.23 264.5 443.38 265.5 443.62 266.5 443.97 267.5 444.42 268.5 444.98 269.5 445.63 270.5 446.40 271.5 447.27 272.5 448.24 273.5 449.32 274.5 450.51 275.5 451.80 276.5 453.21 277.5 454.72 278.5 456.34 279.5 458.07 280.5 459.90 281.5 461.82 282.5 463.84 283.5 465.94 284.5 468.13 285.5 470.38 286.5 472.71 287.5 475.09 288.5 477.54 289.5 480.03 290.5 482.57 291.5 485.14 292.5 487.75 293.5 490.39 294.5 493.04 295.5 495.72 296.5 498.40 297.5 501.09 298.5 503.77 299.5 506.45 300.5 509.12 301.5 511.78 302.5 514.43 303.5 517.08 304.5 519.71 305.5 522.34 306.5 524.95 307.5 527.56 308.5 530.16 309.5 532.74 310.5 535.32 311.5 537.88 312.5 540.44 313.5 542.98 314.5 545.51 315.5 548.04 316.5 550.55 317.5 553.04 318.5 555.53 319.5 558.01 320.5 560.47 321.5 562.92 322.5 565.36 323.5 567.78 324.5 570.19 325.5 572.59 326.5 574.98 327.5 577.35 328.5 579.71 329.5 582.05 330.5 584.38 331.5 586.69 332.5 588.99 333.5 591.28 334.5 593.55 335.5 595.81 336.5 598.05 337.5 600.27 338.5 602.48 339.5 604.67 340.5 606.85 341.5 609.01 342.5 611.15 343.5 613.28 344.5 615.39 345.5 617.49 346.5 619.56 347.5 621.62 348.5 623.66 349.5 625.68 350.5 627.69 351.5 629.68 352.5 631.64 353.5 633.59 354.5 635.52 355.5 637.44 356.5 639.33 357.5 641.20 358.5 643.05 359.5 644.89 360.5 646.70 361.5 648.49 362.5 650.27 363.5 652.02 364.5 653.75 365.5 655.46 366.5 657.15 367.5 658.82 368.5 660.46 369.5 662.09 370.5 663.69 371.5 665.27 372.5 666.82 373.5 668.36 374.5 669.87 375.5 671.36 376.5 672.83 377.5 674.27 378.5 675.69 379.5 677.08 380.5 678.46 381.5 679.80 382.5 681.13 383.5 682.43 384.5 683.70 385.5 684.96 386.5 686.19 387.5 687.40 388.5 688.59 389.5 689.75 390.5 690.90 391.5 692.02 392.5 693.12 393.5 694.20 394.5 695.26 395.5 696.30 396.5 697.32 397.5 698.32 398.5 699.30 399.5 700.27 400.5 701.21 401.5 702.13 402.5 703.04 403.5 703.92 404.5 704.79 405.5 705.65 406.5 706.48 407.5 707.30 408.5 708.10 409.5 708.88 410.5 709.65 411.5 710.40 412.5 711.13 413.5 711.85 414.5 712.56 415.5 713.25 416.5 713.92 417.5 714.58 418.5 715.23 419.5 715.86 420.5 716.48 421.5 717.08 422.5 717.67 423.5 718.25 424.5 718.81 425.5 719.37 426.5 719.91 427.5 720.44 428.5 720.95 429.5 721.46 430.5 721.95 431.5 722.44 432.5 722.91 433.5 723.37 434.5 723.83 435.5 724.27 436.5 724.70 437.5 725.13 438.5 725.54 439.5 725.95 440.5 726.34 441.5 726.73 442.5 727.11 443.5 727.49 444.5 727.85 445.5 728.21 446.5 728.56 447.5 728.91 448.5 729.24 449.5 729.58 450.5 729.90 451.5 730.22 452.5 730.54 453.5 730.85 454.5 731.15 455.5 731.45 456.5 731.75 457.5 732.04 458.5 732.33 459.5 732.61 460.5 732.89 461.5 733.17 462.5 733.44 463.5 733.71 464.5 733.98 465.5 734.24 466.5 734.50 467.5 734.76 468.5 735.01 469.5 735.26 470.5 735.51 471.5 735.75 472.5 735.99 473.5 736.23 474.5 736.47 475.5 736.70 476.5 736.92 477.5 737.15 478.5 737.37 479.5 737.59 480.5 737.80 481.5 738.01 482.5 738.22 483.5 738.42 484.5 738.63 485.5 738.83 486.5 739.02 487.5 739.21 488.5 739.40 489.5 739.59 490.5 739.77 491.5 739.95 492.5 740.13 493.5 740.31 494.5 740.48 495.5 740.65 496.5 740.81 497.5 740.97 498.5 741.13 499.5 741.29 500.5 741.44 501.5 741.60 502.5 741.74 503.5 741.89 504.5 742.03 505.5 742.17 506.5 742.31 507.5 742.44 508.5 742.57 509.5 742.70 510.5 742.83 511.5 742.95 512.5 743.07 513.5 743.19 514.5 743.30 515.5 743.41 516.5 743.52 517.5 743.63 518.5 743.73 519.5 743.83 520.5 743.93 521.5 744.03 522.5 744.12 523.5 744.21 524.5 744.30 525.5 744.39 526.5 744.47 527.5 744.55 528.5 744.63 529.5 744.70 530.5 744.78 531.5 744.85 532.5 744.92 533.5 744.98 534.5 745.04 535.5 745.11 536.5 745.16 537.5 745.22 538.5 745.27 539.5 745.32 540.5 745.37 541.5 745.42 542.5 745.46 543.5 745.51 544.5 745.55 545.5 745.58 546.5 745.62 547.5 745.65 548.5 745.68 549.5 745.71 550.5 745.74 551.5 745.76 552.5 745.78 553.5 745.80 554.5 745.82 555.5 745.83 556.5 745.85 557.5 745.86 558.5 745.87" fill="none" stroke="#0000dc" stroke-width="2.7"/><path d="M157.5 731.98 158.5 730.86 159.5 729.76 160.5 728.68 161.5 727.60 162.5 726.52 163.5 725.43 164.5 724.32 165.5 723.18 166.5 722.01 167.5 720.79 168.5 719.51 169.5 718.18 170.5 716.77 171.5 715.29 172.5 713.72 173.5 712.05 174.5 710.28 175.5 708.40 176.5 706.40 177.5 704.27 178.5 702.02 179.5 699.65 180.5 697.16 181.5 694.57 182.5 691.88 183.5 689.10 184.5 686.23 185.5 683.28 186.5 680.26 187.5 677.17 188.5 674.02 189.5 670.82 190.5 667.57 191.5 664.27 192.5 660.93 193.5 657.54 194.5 654.09 195.5 650.59 196.5 647.04 197.5 643.43 198.5 639.75 199.5 636.02 200.5 632.22 201.5 628.35 202.5 624.41 203.5 620.40 204.5 616.31 205.5 612.15 206.5 607.91 207.5 603.59 208.5 599.19 209.5 594.70 210.5 590.16 211.5 585.60 212.5 581.06 213.5 576.57 214.5 572.17 215.5 567.86 216.5 563.65 217.5 559.54 218.5 555.54 219.5 551.65 220.5 547.88 221.5 544.24 222.5 540.73 223.5 537.36 224.5 534.11 225.5 530.98 226.5 527.98 227.5 525.10 228.5 522.33 229.5 519.68 230.5 517.14 231.5 514.71 232.5 512.39 233.5 510.17 234.5 508.06 235.5 506.04 236.5 504.12 237.5 502.30 238.5 500.56 239.5 498.92 240.5 497.36 241.5 495.88 242.5 494.49 243.5 493.17 244.5 491.93 245.5 490.76 246.5 489.66 247.5 488.63 248.5 487.67 249.5 486.76 250.5 485.92 251.5 485.14 252.5 484.41 253.5 483.73 254.5 483.10 255.5 482.52 256.5 481.98 257.5 481.49 258.5 481.03 259.5 480.61 260.5 480.23 261.5 479.88 262.5 479.57 263.5 479.30 264.5 479.07 265.5 478.87 266.5 478.71 267.5 478.58 268.5 478.50 269.5 478.45 270.5 478.43 271.5 478.46 272.5 478.52 273.5 478.61 274.5 478.75 275.5 478.92 276.5 479.12 277.5 479.37 278.5 479.65 279.5 479.96 280.5 480.32 281.5 480.71 282.5 481.14 283.5 481.60 284.5 482.10 285.5 482.64 286.5 483.21 287.5 483.82 288.5 484.47 289.5 485.15 290.5 485.87 291.5 486.63 292.5 487.42 293.5 488.25 294.5 489.12 295.5 490.02 296.5 490.96 297.5 491.93 298.5 492.95 299.5 493.99 300.5 495.08 301.5 496.20 302.5 497.36 303.5 498.55 304.5 499.78 305.5 501.05 306.5 502.35 307.5 503.69 308.5 505.06 309.5 506.48 310.5 507.93 311.5 509.42 312.5 510.95 313.5 512.52 314.5 514.14 315.5 515.80 316.5 517.50 317.5 519.25 318.5 521.04 319.5 522.88 320.5 524.77 321.5 526.71 322.5 528.70 323.5 530.74 324.5 532.83 325.5 534.97 326.5 537.17 327.5 539.42 328.5 541.73 329.5 544.09 330.5 546.51 331.5 548.99 332.5 551.53 333.5 554.13 334.5 556.79 335.5 559.51 336.5 562.27 337.5 565.08 338.5 567.93 339.5 570.82 340.5 573.74 341.5 576.70 342.5 579.67 343.5 582.67 344.5 585.69 345.5 588.72 346.5 591.76 347.5 594.80 348.5 597.84 349.5 600.88 350.5 603.91 351.5 606.92 352.5 609.93 353.5 612.92 354.5 615.90 355.5 618.86 356.5 621.80 357.5 624.73 358.5 627.64 359.5 630.52 360.5 633.39 361.5 636.23 362.5 639.04 363.5 641.83 364.5 644.60 365.5 647.33 366.5 650.04 367.5 652.72 368.5 655.37 369.5 657.98 370.5 660.56 371.5 663.11 372.5 665.62 373.5 668.09 374.5 670.52 375.5 672.92 376.5 675.27 377.5 677.58 378.5 679.85 379.5 682.08 380.5 684.27 381.5 686.42 382.5 688.52 383.5 690.58 384.5 692.59 385.5 694.56 386.5 696.49 387.5 698.38 388.5 700.22 389.5 702.01 390.5 703.76 391.5 705.47 392.5 707.13 393.5 708.74 394.5 710.31 395.5 711.84 396.5 713.31 397.5 714.74 398.5 716.12 399.5 717.46 400.5 718.75 401.5 719.99 402.5 721.19 403.5 722.34 404.5 723.45 405.5 724.52 406.5 725.55 407.5 726.53 408.5 727.48 409.5 728.39 410.5 729.26 411.5 730.10 412.5 730.90 413.5 731.66 414.5 732.39 415.5 733.09 416.5 733.76 417.5 734.40 418.5 735.00 419.5 735.58 420.5 736.13 421.5 736.66 422.5 737.15 423.5 737.63 424.5 738.07 425.5 738.50 426.5 738.90 427.5 739.28 428.5 739.64 429.5 739.99 430.5 740.31 431.5 740.62 432.5 740.91 433.5 741.18 434.5 741.44 435.5 741.69 436.5 741.92 437.5 742.14 438.5 742.36 439.5 742.56 440.5 742.75 441.5 742.93 442.5 743.11 443.5 743.28 444.5 743.45 445.5 743.61 446.5 743.77 447.5 743.92 448.5 744.07 449.5 744.21 450.5 744.35 451.5 744.48 452.5 744.61 453.5 744.73 454.5 744.85 455.5 744.97 456.5 745.08 457.5 745.19 458.5 745.29 459.5 745.39 460.5 745.49 461.5 745.58 462.5 745.67 463.5 745.75 464.5 745.84 465.5 745.92 466.5 745.99 467.5 746.07 468.5 746.14 469.5 746.21 470.5 746.27 471.5 746.33 472.5 746.39 473.5 746.45 474.5 746.51 475.5 746.56 476.5 746.61 477.5 746.66 478.5 746.71 479.5 746.75 480.5 746.79 481.5 746.84 482.5 746.88 483.5 746.92 484.5 746.95 485.5 746.99 486.5 747.02 487.5 747.06 488.5 747.09 489.5 747.12 490.5 747.15 491.5 747.19 492.5 747.22 493.5 747.24 494.5 747.27 495.5 747.30 496.5 747.33 497.5 747.35 498.5 747.38 499.5 747.41 500.5 747.43 501.5 747.46 502.5 747.48 503.5 747.50 504.5 747.53 505.5 747.55 506.5 747.57 507.5 747.59 508.5 747.61 509.5 747.63 510.5 747.65 511.5 747.67 512.5 747.69 513.5 747.71 514.5 747.73 515.5 747.75 516.5 747.77 517.5 747.79 518.5 747.81 519.5 747.82 520.5 747.84 521.5 747.86 522.5 747.88 523.5 747.89 524.5 747.91 525.5 747.93 526.5 747.94 527.5 747.96 528.5 747.98 529.5 748.00 530.5 748.01 531.5 748.03 532.5 748.05 533.5 748.06 534.5 748.08 535.5 748.10 536.5 748.11 537.5 748.13 538.5 748.15 539.5 748.16 540.5 748.18 541.5 748.20 542.5 748.22 543.5 748.23 544.5 748.25 545.5 748.27 546.5 748.29 547.5 748.31 548.5 748.33 549.5 748.35 550.5 748.37 551.5 748.39 552.5 748.41 553.5 748.43 554.5 748.45 555.5 748.48 556.5 748.50 557.5 748.52 558.5 748.54" fill="none" stroke="#e80000" stroke-width="2.7"/><path d="M156.6 901.1h0M156.8 905.3h0M157.5 909.4h0M157.6 906.0h0M158.2 902.7h0M158.2 899.3h0M157.8 903.4h0M158.6 907.5h0M159.0 911.6h0M159.1 907.7h0M159.5 903.8h0M159.2 899.9h0M159.4 903.0h0M160.3 906.1h0M160.0 901.6h0M160.7 897.1h0M159.4 869.1h0M158.7 872.2h0M159.7 875.2h0M159.2 878.4h0M159.3 881.5h0M159.9 884.5h0M159.7 887.6h0M159.4 890.8h0M160.5 893.8h0M159.7 896.9h0M160.2 893.8h0M160.3 890.6h0M160.8 887.5h0M160.4 884.3h0M161.0 881.1h0M160.6 884.5h0M161.3 887.8h0M160.9 891.2h0M161.2 894.5h0M162.1 890.5h0M161.9 886.5h0M162.0 882.4h0M162.8 886.0h0M162.4 889.5h0M162.3 893.1h0M162.9 896.6h0M162.5 893.5h0M163.3 890.3h0M163.4 887.2h0M163.0 884.0h0M163.2 880.9h0M163.5 884.0h0M163.6 887.2h0M163.5 890.3h0M164.1 893.5h0M163.4 896.7h0M164.0 893.1h0M164.1 889.6h0M164.3 886.1h0M164.6 882.5h0M164.2 879.0h0M164.7 875.5h0M165.0 880.9h0M165.2 884.4h0M165.5 887.9h0M165.1 891.4h0M165.0 895.0h0M166.0 890.7h0M166.1 886.5h0M167.0 891.0h0M166.9 887.8h0M167.4 884.7h0M167.4 881.5h0M167.6 878.4h0M167.7 881.6h0M167.8 884.9h0M167.9 888.2h0M168.1 891.5h0M168.5 888.1h0M168.3 884.8h0M169.2 881.5h0M168.8 884.6h0M169.2 887.7h0M169.0 890.8h0M169.1 893.9h0M169.9 896.9h0M169.4 893.2h0M169.2 889.5h0M169.5 885.8h0M169.8 882.1h0M170.0 878.4h0M170.1 899.6h0M170.5 903.8h0M171.2 908.0h0M171.1 903.1h0M171.6 906.2h0M171.6 909.3h0M171.2 912.5h0M171.6 915.6h0M171.6 918.7h0M171.1 921.8h0M172.0 925.0h0M172.1 928.1h0M171.8 931.2h0M171.6 934.4h0M172.5 931.2h0M172.2 928.1h0M172.5 924.9h0M172.7 921.8h0M172.2 918.7h0M172.7 915.5h0M172.4 912.4h0M172.5 909.3h0M172.6 906.1h0M172.7 903.0h0M173.9 888.6h0M174.4 892.8h0M174.4 896.9h0M174.6 893.8h0M174.8 890.6h0M174.8 887.5h0M175.0 884.3h0M174.9 881.1h0M175.8 878.0h0M175.7 874.8h0M175.5 871.6h0M175.4 874.9h0M176.2 878.2h0M175.7 881.5h0M175.7 884.7h0M175.9 888.0h0M176.0 891.3h0M176.4 894.5h0M176.4 890.4h0M176.7 886.2h0M177.1 901.0h0M176.7 905.4h0M177.3 909.8h0M177.3 905.7h0M178.1 901.6h0M178.1 905.2h0M178.2 908.8h0M178.2 912.4h0M178.4 916.0h0M178.5 919.6h0M178.9 916.2h0M179.3 912.8h0M178.4 909.4h0M179.0 905.9h0M179.0 902.5h0M179.4 899.1h0M179.1 895.6h0M179.5 899.3h0M179.4 903.0h0M180.1 906.7h0M180.0 910.4h0M180.1 907.2h0M180.5 904.0h0M180.4 900.8h0M180.2 897.6h0M181.0 901.2h0M181.1 904.9h0M181.1 908.6h0M181.6 912.2h0M181.8 909.1h0M181.3 905.9h0M181.5 902.7h0M182.3 899.6h0M182.0 896.4h0M182.0 912.5h0M181.8 916.0h0M182.0 919.6h0M182.8 923.2h0M182.5 926.7h0M182.8 923.2h0M183.1 919.7h0M183.2 916.2h0M183.0 912.6h0M183.2 909.1h0M183.1 905.6h0M183.9 908.8h0M183.7 912.1h0M183.3 915.4h0M183.7 918.6h0M184.0 921.9h0M184.0 925.1h0M184.5 928.4h0M184.4 931.6h0M183.9 928.3h0M184.1 924.9h0M183.9 921.6h0M184.4 918.2h0M184.5 914.9h0M185.3 911.5h0M184.6 908.2h0M184.0 904.8h0M184.6 908.4h0M184.9 911.9h0M184.6 915.4h0M184.9 919.0h0M185.1 922.5h0M185.4 926.1h0M185.4 922.7h0M185.2 919.3h0M185.8 915.8h0M185.5 912.4h0M185.6 909.0h0M185.4 905.6h0M185.6 902.2h0M186.1 898.8h0M186.0 895.4h0M186.4 893.1h0M186.7 897.4h0M186.7 901.7h0M186.8 899.8h0M187.4 903.7h0M188.3 907.5h0M188.7 903.9h0M188.4 900.3h0M188.9 896.8h0M188.5 893.2h0M188.7 896.6h0M188.9 900.1h0M189.2 903.5h0M188.7 906.9h0M189.6 910.4h0M189.9 907.0h0M189.3 903.7h0M189.3 900.3h0M190.0 897.0h0M190.0 893.7h0M190.0 902.6h0M190.0 906.3h0M190.5 910.0h0M190.4 913.7h0M190.7 909.6h0M191.2 905.5h0M191.2 901.4h0M191.3 904.5h0M192.0 907.7h0M191.9 910.9h0M192.0 914.1h0M192.0 917.3h0M192.1 920.5h0M192.4 923.6h0M192.2 919.9h0M192.9 916.1h0M192.2 912.4h0M192.6 908.6h0M192.5 912.7h0M193.0 916.7h0M193.5 920.8h0M193.9 917.0h0M193.5 913.1h0M193.8 909.3h0M194.0 905.5h0M194.0 914.4h0M194.1 918.1h0M194.4 921.9h0M194.4 918.8h0M195.5 915.7h0M194.7 912.6h0M195.7 909.5h0M195.5 906.4h0M195.3 909.6h0M195.1 912.9h0M195.9 916.1h0M196.1 919.4h0M195.4 922.6h0M195.7 925.9h0M196.2 929.1h0M196.0 932.4h0M196.6 935.6h0M195.9 932.3h0M196.4 929.0h0M195.9 925.6h0M197.0 922.3h0M196.3 918.9h0M195.9 915.6h0M196.6 912.2h0M196.8 915.7h0M197.5 919.1h0M197.0 922.5h0M197.2 925.9h0M197.5 929.4h0M197.9 926.2h0M197.6 923.1h0M198.0 920.0h0M198.0 916.9h0M198.0 913.8h0M199.0 891.6h0M199.2 895.2h0M199.9 898.7h0M199.3 902.2h0M200.2 905.8h0M200.3 909.3h0M200.3 905.7h0M200.4 902.2h0M200.7 905.7h0M201.1 909.2h0M201.3 912.7h0M201.3 916.2h0M201.6 919.6h0M201.3 916.4h0M201.6 913.1h0M201.1 909.9h0M201.9 906.6h0M201.9 903.4h0M201.8 900.1h0M202.0 896.9h0M204.3 878.8h0M205.1 882.2h0M205.6 885.6h0M204.7 889.0h0M205.0 892.4h0M204.9 895.8h0M205.2 899.2h0M205.3 902.6h0M205.6 906.0h0M205.0 909.4h0M205.8 912.8h0M205.1 909.7h0M205.5 906.5h0M205.8 903.3h0M205.8 900.2h0M205.3 897.0h0M205.4 893.8h0M205.6 890.7h0M205.7 887.5h0M206.1 884.3h0M205.5 881.2h0M206.0 878.0h0M206.1 874.8h0M206.2 871.6h0M206.2 874.8h0M206.6 878.0h0M206.3 881.2h0M206.5 884.4h0M206.4 887.5h0M206.8 890.7h0M205.8 893.9h0M206.8 897.1h0M206.4 900.2h0M206.4 903.4h0M206.3 906.6h0M206.0 909.8h0M206.5 912.9h0M206.5 909.7h0M207.0 906.5h0M206.5 903.3h0M207.4 900.1h0M207.1 896.9h0M207.1 893.6h0M207.0 890.4h0M207.3 887.2h0M207.3 882.8h0M208.0 886.4h0M207.8 889.9h0M207.7 893.4h0M207.5 896.9h0M207.7 893.8h0M207.7 890.8h0M208.5 887.6h0M208.2 884.5h0M208.6 881.5h0M208.5 878.4h0M208.8 881.9h0M209.3 885.5h0M208.8 889.1h0M209.1 892.7h0M209.1 896.2h0M209.8 893.0h0M209.5 889.7h0M209.7 886.5h0M210.3 891.3h0M210.5 887.2h0M211.3 883.1h0M212.1 878.9h0M211.2 882.4h0M211.9 885.8h0M211.8 889.2h0M211.6 892.6h0M211.9 896.0h0M212.3 891.8h0M212.7 887.5h0M213.1 882.1h0M214.1 883.6h0M214.0 880.2h0M214.3 876.7h0M213.7 880.2h0M214.3 883.8h0M214.2 887.3h0M214.4 890.8h0M215.0 894.4h0M214.6 890.9h0M214.9 887.5h0M214.4 884.1h0M215.0 880.6h0M215.2 877.2h0M215.1 873.8h0M215.2 870.4h0M216.1 873.7h0M215.3 877.0h0M215.6 880.3h0M215.8 883.7h0M216.6 880.0h0M217.1 876.3h0M216.8 872.6h0M216.6 875.8h0M216.8 878.9h0M217.4 882.1h0M216.9 885.2h0M217.7 888.4h0M217.8 891.5h0M217.5 888.1h0M217.8 884.7h0M217.9 881.3h0M218.3 877.9h0M217.6 874.5h0M218.4 871.1h0M218.1 874.3h0M218.1 877.5h0M218.5 880.6h0M218.5 883.8h0M218.4 886.9h0M218.4 883.4h0M218.8 879.8h0M219.6 876.2h0M220.0 872.6h0M219.7 876.0h0M219.9 879.3h0M219.5 882.6h0M219.8 885.9h0M220.0 889.2h0M219.7 892.6h0M219.8 889.0h0M220.3 885.5h0M220.3 881.9h0M220.2 878.4h0M220.7 874.9h0M220.7 871.3h0M219.9 881.2h0M220.0 884.4h0M220.2 887.7h0M220.8 890.9h0M220.9 894.1h0M221.3 890.9h0M220.5 887.6h0M221.1 884.3h0M221.2 881.0h0M221.5 877.7h0M221.6 880.8h0M221.8 884.0h0M222.5 887.1h0M222.4 883.7h0M222.2 880.3h0M223.1 876.9h0M223.1 873.5h0M222.8 870.1h0M223.4 873.6h0M223.1 877.0h0M223.9 880.4h0M223.7 883.8h0M224.6 877.7h0M224.7 881.1h0M224.8 884.4h0M224.7 887.8h0M223.9 891.2h0M225.1 894.5h0M224.7 897.9h0M225.4 894.7h0M225.7 891.5h0M225.5 888.2h0M225.3 885.0h0M225.5 881.8h0M225.5 878.6h0M225.5 875.4h0M225.5 872.1h0M225.5 868.9h0M226.2 865.7h0M225.9 862.5h0M226.2 859.3h0M225.9 862.4h0M226.1 865.5h0M226.1 868.7h0M226.3 871.8h0M226.5 874.9h0M226.4 878.1h0M226.1 881.2h0M226.2 884.4h0M226.9 887.5h0M226.4 890.6h0M226.5 893.8h0M227.1 896.9h0M227.0 900.0h0M226.9 896.9h0M226.6 893.8h0M227.5 890.7h0M226.9 887.6h0M227.0 884.5h0M226.8 881.4h0M226.4 878.2h0M226.5 875.1h0M227.0 872.0h0M227.1 868.9h0M226.9 865.8h0M226.6 862.7h0M226.6 859.6h0M227.0 856.4h0M226.6 853.3h0M227.4 850.2h0M227.5 847.1h0M228.0 844.0h0M227.4 840.9h0M227.0 837.8h0M227.0 834.6h0M226.2 831.5h0M227.1 828.4h0M227.3 825.3h0M227.6 822.2h0M227.6 819.1h0M227.4 816.0h0M227.9 880.6h0M227.9 883.9h0M227.9 887.3h0M227.5 890.7h0M228.1 894.1h0M228.2 890.5h0M228.5 886.9h0M228.6 883.3h0M229.1 886.4h0M229.0 889.5h0M229.6 892.6h0M230.0 889.0h0M230.1 892.4h0M230.4 895.9h0M230.5 899.3h0M231.0 895.5h0M230.9 891.7h0M231.2 887.9h0M231.1 884.1h0M230.9 887.3h0M231.8 890.5h0M231.3 893.7h0M232.0 896.9h0M231.9 900.0h0M232.2 902.8h0M232.9 905.9h0M232.7 909.0h0M232.9 912.2h0M232.8 915.4h0M233.1 918.5h0M232.8 921.6h0M233.1 924.8h0M233.4 928.0h0M233.3 931.1h0M233.2 934.2h0M233.1 930.8h0M233.6 927.4h0M233.8 923.9h0M233.7 920.5h0M233.6 917.1h0M234.1 913.6h0M234.8 910.2h0M234.1 913.4h0M234.4 916.6h0M234.6 919.9h0M233.8 923.1h0M234.7 926.3h0M234.6 929.5h0M235.4 926.0h0M235.1 922.4h0M235.1 918.9h0M235.5 915.3h0M235.8 918.5h0M235.7 921.7h0M236.0 924.8h0M235.7 928.0h0M236.3 931.2h0M236.8 922.1h0M236.8 925.5h0M236.5 929.0h0M236.8 932.5h0M236.9 936.0h0M237.0 939.4h0M237.2 935.8h0M237.1 932.1h0M237.0 928.4h0M237.7 932.5h0M237.6 936.6h0M238.5 933.0h0M238.7 929.4h0M238.4 925.8h0M239.2 929.4h0M239.5 933.0h0M239.4 936.6h0M240.0 940.1h0M240.2 936.4h0M239.5 932.7h0M240.3 929.0h0M240.3 925.3h0M240.5 928.7h0M240.9 932.1h0M240.8 935.5h0M240.8 925.1h0M240.9 928.7h0M241.2 932.3h0M240.7 936.0h0M241.2 939.6h0M241.5 936.5h0M241.8 933.3h0M241.8 930.1h0M242.4 926.9h0M242.3 930.2h0M242.4 933.5h0M242.6 936.7h0M243.0 940.0h0M242.8 936.8h0M243.4 933.7h0M243.4 930.5h0M243.5 927.3h0M243.5 930.7h0M243.8 934.1h0M244.1 937.4h0M244.1 940.8h0M244.1 944.2h0M244.3 947.5h0M244.2 944.3h0M244.7 941.0h0M244.5 937.8h0M244.0 934.5h0M245.1 931.2h0M245.0 934.4h0M244.8 937.6h0M245.3 940.8h0M245.3 936.8h0M246.5 932.8h0M246.2 928.8h0M245.7 932.2h0M246.5 935.6h0M246.4 939.0h0M246.7 942.4h0M246.6 906.5h0M246.7 909.7h0M246.4 912.8h0M247.3 916.0h0M247.8 919.2h0M246.9 922.4h0M247.9 919.1h0M247.5 915.9h0M248.5 912.7h0M248.1 909.5h0M248.0 906.3h0M248.5 903.1h0M248.5 906.6h0M248.4 910.2h0M249.0 913.7h0M248.8 917.2h0M248.5 914.0h0M249.7 910.8h0M249.0 907.6h0M249.0 904.4h0M249.4 901.2h0M248.9 898.0h0M249.0 894.8h0M249.3 891.6h0M249.4 888.4h0M249.7 885.2h0M249.7 882.1h0M249.7 895.4h0M249.4 899.0h0M250.0 902.6h0M249.8 906.2h0M250.3 909.8h0M250.2 913.4h0M250.1 917.0h0M250.7 913.9h0M250.8 910.8h0M250.5 907.6h0M251.1 904.5h0M250.8 901.4h0M250.9 898.3h0M251.2 901.8h0M251.1 905.3h0M251.4 908.7h0M251.6 912.2h0M252.3 909.0h0M252.4 905.8h0M252.0 902.6h0M252.7 899.3h0M252.3 896.1h0M252.5 899.4h0M252.7 902.6h0M252.6 905.9h0M253.2 909.1h0M252.6 912.4h0M252.2 915.6h0M253.0 918.9h0M252.6 922.1h0M252.7 925.4h0M251.9 928.6h0M253.1 931.9h0M253.1 935.1h0M253.2 938.4h0M253.3 941.6h0M253.5 938.4h0M253.1 935.1h0M253.4 931.9h0M253.0 928.6h0M253.2 925.3h0M253.7 922.1h0M253.5 918.8h0M253.1 915.5h0M253.6 912.3h0M253.5 909.0h0M253.4 905.7h0M254.0 909.1h0M253.9 912.4h0M253.8 915.8h0M254.1 912.4h0M255.1 909.1h0M254.3 905.7h0M255.0 902.4h0M255.2 905.7h0M255.3 908.9h0M254.9 912.2h0M255.2 915.4h0M255.5 918.7h0M255.7 921.9h0M255.6 925.2h0M256.5 887.8h0M256.5 891.1h0M256.9 894.3h0M256.3 897.5h0M256.9 900.8h0M256.9 904.0h0M256.7 907.2h0M257.2 910.4h0M257.3 907.3h0M257.3 904.2h0M257.6 901.1h0M257.2 898.0h0M257.7 894.9h0M258.0 891.8h0M258.2 895.9h0M258.7 899.9h0M258.2 904.0h0M258.3 900.7h0M258.9 897.3h0M259.1 894.0h0M259.7 890.7h0M259.3 887.3h0M259.0 884.0h0M259.6 880.6h0M259.2 884.0h0M259.1 887.4h0M260.5 890.8h0M259.9 894.1h0M260.2 897.5h0M260.2 900.9h0M260.7 897.7h0M260.2 894.6h0M260.6 891.4h0M259.9 888.3h0M259.9 885.1h0M260.7 882.0h0M260.8 878.8h0M260.5 875.7h0M260.5 872.5h0M260.5 869.4h0M260.3 866.2h0M261.0 863.1h0M260.8 859.9h0M260.8 856.8h0M260.8 853.6h0M261.0 850.5h0M260.9 847.3h0M260.8 844.1h0M260.8 888.5h0M261.4 892.7h0M261.8 896.9h0M261.8 893.8h0M261.2 890.6h0M261.9 887.5h0M261.5 884.4h0M261.7 881.2h0M262.2 878.1h0M262.0 874.9h0M262.4 871.8h0M263.2 868.6h0M262.6 871.8h0M262.6 874.9h0M262.2 878.1h0M262.4 881.2h0M262.3 884.3h0M262.6 887.5h0M262.5 890.6h0M262.7 893.8h0M262.9 896.9h0M262.7 900.0h0M262.8 896.6h0M263.1 893.1h0M263.9 889.7h0M264.1 893.1h0M264.5 896.6h0M264.4 895.8h0M264.4 899.3h0M265.0 902.8h0M264.6 906.3h0M265.1 902.6h0M265.8 899.0h0M265.8 895.4h0M266.0 899.6h0M266.7 903.8h0M266.4 900.2h0M267.2 896.6h0M267.2 900.0h0M267.5 903.5h0M268.5 899.8h0M268.2 903.4h0M269.2 907.0h0M268.6 910.6h0M269.5 914.2h0M269.0 917.9h0M269.0 889.1h0M269.2 892.5h0M269.4 895.8h0M268.9 899.2h0M270.0 902.5h0M269.8 905.9h0M269.9 902.6h0M270.0 899.3h0M270.1 903.1h0M270.6 906.9h0M271.5 902.9h0M271.5 898.8h0M271.4 902.0h0M271.7 905.2h0M272.5 908.5h0M272.0 911.7h0M272.1 914.9h0M272.8 911.6h0M272.6 908.2h0M272.6 904.9h0M272.5 901.6h0M272.4 898.3h0M272.6 894.9h0M272.9 898.2h0M273.0 901.4h0M273.3 904.7h0M273.4 907.9h0M273.4 911.1h0M273.5 914.4h0M273.2 917.6h0M272.9 920.9h0M273.5 917.7h0M273.4 914.6h0M273.6 911.5h0M273.7 908.3h0M273.5 905.2h0M273.6 902.1h0M274.0 899.0h0M274.1 895.8h0M273.9 892.7h0M274.3 889.6h0M274.2 886.5h0M274.1 889.7h0M274.5 892.9h0M275.2 896.2h0M274.6 899.4h0M274.9 902.6h0M275.6 862.0h0M275.6 865.1h0M275.7 868.2h0M276.1 871.2h0M276.0 874.4h0M276.0 877.5h0M276.5 880.5h0M276.0 883.6h0M276.0 886.8h0M276.9 882.9h0M277.3 879.1h0M278.1 885.1h0M278.2 882.3h0M279.3 886.7h0M279.1 883.6h0M279.8 887.4h0M279.5 891.2h0M279.6 895.1h0M280.2 898.9h0M280.4 895.3h0M280.6 891.7h0M280.2 888.0h0M280.6 884.4h0M281.1 888.1h0M280.8 891.8h0M281.0 895.5h0M282.1 890.0h0M283.0 894.2h0M282.8 888.6h0M282.6 892.4h0M283.2 896.2h0M283.8 900.0h0M283.6 889.9h0M283.9 893.0h0M283.7 896.1h0M284.0 899.2h0M283.9 902.3h0M285.0 905.4h0M284.5 908.5h0M284.1 911.6h0M284.2 914.7h0M284.4 917.9h0M284.1 914.7h0M284.5 911.6h0M284.6 908.4h0M285.1 905.2h0M284.8 902.1h0M284.8 899.0h0M284.7 895.8h0M284.8 892.6h0M285.2 889.5h0M285.2 886.4h0M285.8 889.8h0M285.4 893.2h0M286.0 896.7h0M285.9 900.1h0M285.9 903.6h0M285.4 907.0h0M285.9 902.9h0M286.8 898.8h0M286.8 894.7h0M287.4 878.5h0M287.5 881.9h0M288.1 885.4h0M288.1 888.8h0M288.0 892.2h0M288.2 895.6h0M288.5 892.4h0M288.4 889.2h0M288.1 886.0h0M288.9 882.8h0M288.5 879.6h0M288.5 876.4h0M289.0 873.2h0M288.9 870.0h0M288.6 866.8h0M288.8 863.6h0M288.3 860.4h0M288.5 857.2h0M288.1 854.0h0M289.1 850.8h0M288.2 847.6h0M289.1 844.4h0M288.6 841.2h0M288.6 838.0h0M288.9 834.8h0M289.1 831.6h0M289.2 834.8h0M289.6 838.0h0M289.2 841.2h0M289.5 844.4h0M289.1 847.6h0M289.5 850.9h0M289.4 854.1h0M289.2 857.3h0M289.4 860.5h0M289.5 863.7h0M289.6 867.0h0M289.7 870.2h0M289.5 873.4h0M289.4 876.6h0M289.9 879.8h0M289.2 883.1h0M290.5 879.2h0M291.1 871.6h0M291.4 874.8h0M291.1 877.9h0M291.7 881.0h0M291.3 884.1h0M291.6 887.2h0M292.1 890.3h0M291.5 893.5h0M292.4 888.4h0M292.8 892.1h0M292.6 895.8h0M293.6 899.5h0M293.6 895.6h0M293.2 891.6h0M293.9 887.7h0M293.8 891.4h0M294.0 895.0h0M294.4 898.7h0M294.4 902.4h0M295.1 898.9h0M294.8 895.4h0M295.6 892.0h0M295.9 893.7h0M296.9 892.0h0M296.6 895.5h0M296.8 899.0h0M296.8 902.5h0M297.5 906.0h0M297.7 902.5h0M298.2 899.0h0M298.0 895.4h0M297.8 891.9h0M297.8 888.3h0M298.1 884.8h0M298.2 888.1h0M298.9 891.5h0M298.9 894.9h0M298.6 891.0h0M298.9 887.2h0M299.7 883.3h0M299.6 886.8h0M299.6 890.2h0M300.2 893.7h0M300.0 897.2h0M300.9 909.0h0M301.1 912.6h0M300.7 916.3h0M301.4 920.0h0M301.1 923.6h0M302.0 919.5h0M302.3 915.3h0M302.6 919.0h0M303.5 922.7h0M303.2 919.0h0M303.3 915.3h0M303.3 911.7h0M303.4 908.0h0M303.9 904.4h0M304.0 908.0h0M303.4 911.6h0M304.3 915.2h0M304.3 918.9h0M304.5 922.5h0M304.5 919.0h0M304.1 915.6h0M304.3 912.1h0M305.3 908.6h0M305.0 905.2h0M304.6 908.7h0M305.3 912.2h0M305.2 915.7h0M304.9 919.2h0M304.9 922.7h0M305.2 919.6h0M305.9 916.4h0M306.0 913.3h0M306.0 910.2h0M306.3 907.1h0M306.5 910.5h0M305.8 913.8h0M306.4 917.1h0M306.3 920.5h0M306.2 923.8h0M306.5 927.1h0M306.7 930.5h0M306.7 933.8h0M306.9 937.1h0M307.7 906.1h0M308.1 909.3h0M308.5 912.6h0M308.1 909.4h0M308.9 906.2h0M308.4 903.0h0M308.4 899.8h0M308.7 896.6h0M308.9 893.4h0M309.3 890.1h0M309.4 893.4h0M309.3 896.7h0M309.6 900.0h0M309.5 903.3h0M309.8 906.6h0M309.2 909.9h0M309.3 913.2h0M310.1 916.4h0M309.6 913.1h0M310.0 909.7h0M310.2 906.3h0M310.3 902.9h0M310.4 899.5h0M311.1 902.9h0M310.1 906.3h0M311.3 909.6h0M311.8 913.0h0M311.3 916.4h0M311.5 917.7h0M311.3 921.0h0M311.5 924.3h0M311.4 927.7h0M311.5 931.0h0M311.7 934.3h0M311.8 937.7h0M311.6 941.0h0M312.5 937.8h0M312.1 934.5h0M311.8 931.3h0M312.6 928.1h0M312.1 924.8h0M312.6 921.6h0M312.5 918.3h0M312.6 915.1h0M312.7 911.9h0M312.6 915.1h0M312.9 918.3h0M313.6 921.5h0M312.5 924.7h0M313.3 927.9h0M313.6 924.7h0M313.3 921.5h0M313.4 918.3h0M314.6 915.1h0M313.9 918.5h0M314.8 922.0h0M314.4 925.5h0M314.3 928.9h0M314.5 932.4h0M314.7 935.9h0M314.9 939.3h0M314.8 942.8h0M314.7 939.6h0M314.8 936.5h0M315.2 933.3h0M315.1 930.2h0M314.6 927.0h0M314.8 923.9h0M315.2 920.7h0M314.9 917.5h0M315.1 914.4h0M315.0 911.2h0M315.2 908.1h0M315.5 911.2h0M315.7 914.3h0M315.4 917.4h0M316.1 920.6h0M315.5 923.7h0M316.5 926.8h0M315.9 929.9h0M315.8 933.1h0M315.6 936.2h0M314.9 939.3h0M315.7 942.4h0M315.9 945.6h0M316.5 948.7h0M315.5 951.8h0M316.5 954.9h0M315.9 951.8h0M316.3 948.6h0M315.3 945.5h0M316.2 942.3h0M316.1 939.2h0M316.4 936.0h0M316.3 932.9h0M315.9 929.7h0M316.6 926.6h0M316.6 923.4h0M316.6 920.3h0M316.7 917.1h0M316.8 914.0h0M316.5 910.8h0M316.1 907.7h0M316.2 904.5h0M317.0 901.4h0M316.9 904.5h0M316.9 907.7h0M316.8 910.8h0M317.0 914.0h0M317.1 917.2h0M317.1 920.3h0M317.3 923.5h0M317.3 902.9h0M317.4 906.6h0M317.3 910.3h0M318.2 914.1h0M318.1 917.8h0M318.9 914.3h0M318.1 910.8h0M318.4 907.3h0M318.9 903.8h0M318.6 906.9h0M318.3 910.0h0M318.5 913.1h0M318.9 916.3h0M319.0 919.4h0M318.9 922.5h0M319.3 925.7h0M319.3 928.8h0M319.2 931.9h0M319.1 935.0h0M319.1 938.2h0M319.4 941.3h0M319.5 944.4h0M319.3 947.5h0M319.5 944.2h0M319.3 940.9h0M319.0 937.6h0M319.2 934.4h0M319.8 931.0h0M319.7 927.8h0M320.1 924.5h0M319.7 921.1h0M320.0 917.9h0M320.2 914.5h0M320.1 911.2h0M319.7 908.0h0M319.9 904.6h0M320.0 901.4h0M319.8 904.5h0M320.3 907.6h0M320.6 910.8h0M320.2 913.9h0M321.0 917.1h0M320.4 920.2h0M320.5 923.3h0M320.6 926.5h0M320.6 923.1h0M321.0 919.7h0M321.0 916.3h0M321.6 913.0h0M321.4 909.6h0M321.5 906.2h0M321.5 909.5h0M321.4 912.8h0M322.0 916.1h0M322.4 910.0h0M323.1 913.4h0M322.9 916.8h0M323.6 920.2h0M323.4 923.6h0M323.6 926.9h0M323.6 923.1h0M323.8 919.3h0M324.1 915.5h0M324.3 911.7h0M324.0 915.4h0M324.6 919.0h0M324.7 922.7h0M325.5 901.4h0M325.1 907.2h0M326.3 901.1h0M326.5 904.3h0M326.8 907.4h0M327.5 903.5h0M328.0 907.5h0M328.5 904.4h0M328.2 901.3h0M328.2 898.1h0M328.4 895.0h0M328.4 891.9h0M328.3 888.7h0M328.2 885.6h0M328.7 882.5h0M328.3 879.3h0M328.2 876.2h0M328.0 873.1h0M328.2 869.9h0M328.0 866.8h0M328.3 863.6h0M328.4 860.5h0M327.7 857.4h0M328.4 854.2h0M328.6 851.1h0M328.5 848.0h0M328.2 844.8h0M328.9 841.7h0M328.3 838.6h0M328.1 835.4h0M328.2 832.3h0M328.6 829.2h0M328.9 826.0h0M329.0 822.9h0M328.7 819.8h0M328.3 822.9h0M328.5 826.1h0M328.4 829.3h0M328.7 832.4h0M328.2 835.6h0M328.8 838.8h0M329.0 841.9h0M328.8 845.1h0M329.0 848.3h0M328.6 851.5h0M328.5 854.6h0M328.7 857.8h0M329.3 861.0h0M329.3 864.1h0M328.9 867.3h0M329.4 870.5h0M328.9 873.7h0M329.5 876.8h0M329.2 880.0h0M329.0 883.2h0M329.4 886.3h0M328.9 889.5h0M328.9 892.7h0M328.8 895.8h0M329.3 899.0h0M329.2 902.2h0M329.3 905.4h0M329.8 903.2h0M330.6 906.1h0M330.6 884.2h0M331.3 888.1h0M330.6 892.0h0M331.5 895.9h0M331.2 892.6h0M331.8 889.4h0M331.5 886.1h0M331.9 882.9h0M331.5 879.6h0M331.4 876.4h0M331.6 873.1h0M331.8 876.5h0M331.8 879.9h0M332.6 883.3h0M332.7 886.6h0M332.5 890.0h0M332.3 893.4h0M332.9 889.7h0M333.0 886.0h0M333.8 889.6h0M333.5 893.2h0M333.7 896.8h0M333.5 900.4h0M333.2 904.0h0M333.6 907.5h0M333.7 904.2h0M334.2 900.8h0M334.2 897.4h0M334.1 894.0h0M334.3 890.6h0M335.0 887.3h0M334.6 890.6h0M334.9 893.9h0M335.2 890.8h0M335.2 887.6h0M335.4 884.5h0M335.8 881.4h0M336.3 878.2h0M335.3 875.1h0M335.9 878.7h0M336.1 882.2h0M336.1 885.8h0M336.2 889.3h0M336.3 892.9h0M336.5 896.4h0M336.5 901.4h0M336.8 905.2h0M336.9 909.1h0M336.8 913.0h0M337.5 907.1h0M337.5 910.4h0M337.9 913.7h0M337.7 917.0h0M337.7 920.2h0M338.1 923.5h0M338.2 926.8h0M337.6 930.1h0M338.7 933.4h0M338.2 936.6h0M338.2 939.9h0M338.6 943.2h0M338.4 946.5h0M338.2 949.8h0M339.1 946.5h0M338.2 943.2h0M338.5 939.9h0M338.9 936.6h0M338.3 933.3h0M338.7 930.1h0M338.9 926.8h0M339.5 923.5h0M338.6 920.2h0M338.9 916.9h0M339.1 913.6h0M339.0 910.4h0M338.7 907.1h0M339.2 903.8h0M339.4 907.5h0M339.8 911.2h0M340.4 907.9h0M340.7 904.7h0M341.0 908.5h0M341.6 884.5h0M341.0 888.0h0M341.3 891.6h0M341.3 895.1h0M341.8 898.7h0M341.7 902.2h0M341.7 905.7h0M341.7 902.6h0M341.9 899.4h0M341.6 896.2h0M342.2 893.0h0M341.9 889.8h0M342.3 886.6h0M342.3 883.5h0M342.6 880.3h0M342.4 883.5h0M342.8 886.7h0M342.3 889.9h0M342.8 893.1h0M342.6 896.2h0M342.8 899.4h0M342.8 902.6h0M343.2 905.8h0M342.4 909.0h0M343.1 905.9h0M342.6 902.8h0M343.5 899.7h0M342.6 896.6h0M342.9 893.5h0M342.8 890.4h0M343.8 887.3h0M343.0 884.2h0M343.5 881.1h0M343.3 878.0h0M343.0 874.9h0M343.5 871.8h0M343.8 868.6h0M343.6 871.8h0M344.0 875.0h0M343.7 878.2h0M343.9 881.4h0M343.8 884.6h0M344.1 887.8h0M344.7 891.0h0M344.3 894.2h0M344.3 897.4h0M344.1 900.5h0M344.1 897.3h0M344.9 894.1h0M344.2 890.8h0M344.3 887.6h0M344.7 884.4h0M344.6 881.1h0M345.4 877.9h0M344.2 874.6h0M345.1 878.0h0M345.2 881.3h0M344.7 884.6h0M344.9 887.9h0M345.3 891.3h0M345.7 894.6h0M345.0 897.9h0M344.9 901.2h0M345.7 904.6h0M345.9 907.9h0M345.4 911.2h0M344.9 914.5h0M346.0 917.9h0M345.6 914.7h0M346.1 911.5h0M345.8 908.4h0M345.8 905.2h0M345.8 902.1h0M346.5 898.9h0M346.5 895.7h0M345.5 892.6h0M346.0 889.4h0M346.9 893.0h0M346.4 896.6h0M346.2 900.1h0M346.7 903.7h0M346.8 907.3h0M346.9 910.8h0M349.0 865.8h0M349.2 869.1h0M349.3 872.4h0M349.8 875.7h0M349.6 879.1h0M349.6 882.4h0M349.9 885.7h0M349.9 889.0h0M350.2 892.3h0M350.1 895.7h0M350.6 892.4h0M350.5 889.0h0M350.1 885.7h0M350.1 882.4h0M350.6 879.1h0M350.5 875.8h0M350.4 872.5h0M350.1 869.2h0M350.1 865.8h0M350.8 862.5h0M351.0 865.7h0M351.0 868.9h0M350.4 872.1h0M351.2 875.3h0M350.8 878.5h0M351.1 881.7h0M351.2 884.9h0M350.8 888.1h0M350.9 891.3h0M350.6 894.5h0M350.9 897.7h0M350.7 900.9h0M351.5 904.1h0M351.4 907.3h0M351.7 910.4h0M351.6 907.3h0M351.3 904.1h0M351.6 900.9h0M351.4 897.7h0M351.7 894.6h0M351.7 891.4h0M351.3 888.2h0M351.6 885.0h0M351.7 881.9h0M351.6 878.7h0M352.0 875.5h0M352.3 872.3h0M351.7 869.1h0M351.7 866.0h0M351.2 862.8h0M351.8 859.6h0M351.8 856.4h0M351.3 853.3h0M352.0 850.1h0M352.2 846.9h0M351.8 843.7h0M351.9 840.6h0M351.8 837.4h0M352.3 834.2h0M351.7 831.0h0M352.1 827.9h0M352.8 831.0h0M352.2 834.1h0M352.4 837.2h0M352.2 840.3h0M352.0 843.4h0M352.3 846.5h0M352.5 849.6h0M352.1 852.7h0M352.5 855.8h0M352.8 858.9h0M352.8 862.0h0M352.1 865.1h0M352.3 868.2h0M352.1 871.3h0M352.9 874.4h0M352.8 877.5h0M352.9 880.6h0M352.5 883.7h0M352.4 886.8h0M352.8 889.9h0M352.8 893.0h0M352.6 896.1h0M352.9 899.2h0M352.9 902.3h0M352.9 874.9h0M352.7 878.5h0M352.9 882.0h0M353.3 885.5h0M353.0 889.1h0M353.1 892.6h0M353.5 896.1h0M354.2 892.1h0M354.1 888.0h0M354.7 884.0h0M354.4 887.6h0M354.5 891.3h0M354.3 895.0h0M354.7 898.6h0M355.5 895.0h0M355.3 891.4h0M355.5 887.7h0M355.7 884.1h0M355.6 880.4h0M355.8 883.9h0M356.1 887.3h0M356.5 890.8h0M356.5 887.3h0M356.7 883.7h0M356.7 880.2h0M356.6 876.7h0M356.9 873.1h0M356.8 876.7h0M357.5 880.2h0M356.6 883.7h0M357.3 887.3h0M358.2 890.8h0M357.5 894.3h0M357.6 890.0h0M358.3 885.6h0M359.0 889.5h0M358.9 893.3h0M359.4 889.9h0M359.4 886.5h0M359.5 883.2h0M360.7 886.7h0M360.0 890.2h0M360.0 893.7h0M360.3 897.1h0M360.5 881.4h0M360.3 884.7h0M360.5 888.1h0M360.2 891.4h0M360.6 894.8h0M360.7 898.1h0M361.0 901.5h0M360.7 898.3h0M361.2 895.2h0M361.3 892.1h0M361.0 888.9h0M361.2 885.8h0M361.2 882.6h0M361.8 879.5h0M360.9 876.4h0M361.6 873.2h0M361.3 870.1h0M361.7 873.3h0M362.1 876.5h0M361.8 879.7h0M362.1 882.9h0M361.8 886.0h0M362.7 889.2h0M362.5 892.4h0M362.6 895.6h0M361.9 898.8h0M362.0 902.0h0M362.8 905.2h0M362.4 908.4h0M362.5 905.2h0M362.7 902.0h0M362.2 898.9h0M362.9 895.7h0M362.7 892.5h0M362.9 889.4h0M362.6 886.2h0M362.9 883.0h0M362.6 879.8h0M363.2 876.7h0M363.2 873.5h0M363.2 870.3h0M363.1 867.2h0M363.2 864.0h0M362.2 860.8h0M363.3 857.6h0M363.0 854.5h0M363.2 851.3h0M363.1 848.1h0M362.8 845.0h0M363.1 848.1h0M363.5 851.2h0M363.8 854.2h0M363.2 857.4h0M363.1 860.5h0M363.9 863.6h0M363.2 866.7h0M364.1 869.8h0M363.5 872.9h0M363.3 876.0h0M363.9 879.1h0M364.1 882.2h0M363.2 885.2h0M364.1 888.4h0M363.6 891.5h0M364.2 894.6h0M363.6 897.7h0M363.3 900.8h0M364.0 903.9h0M364.1 907.0h0M364.5 910.1h0M364.4 913.1h0M364.1 916.2h0M363.9 919.4h0M363.9 916.1h0M364.0 912.9h0M363.8 909.7h0M364.1 906.4h0M363.4 903.2h0M364.3 900.0h0M364.3 896.7h0M365.1 893.5h0M364.6 890.3h0M364.3 887.0h0M364.6 883.8h0M364.1 880.6h0M364.3 877.3h0M364.0 874.1h0M365.0 870.9h0M364.8 867.6h0M364.7 864.4h0M364.5 889.5h0M364.4 892.7h0M365.2 895.9h0M364.7 899.2h0M365.4 902.4h0M365.2 905.7h0M365.5 908.9h0M365.8 912.2h0M365.6 915.4h0M365.8 911.9h0M365.4 908.4h0M365.7 905.0h0M366.2 901.5h0M366.6 904.6h0M366.6 907.8h0M367.0 911.0h0M366.5 914.1h0M366.5 917.3h0M366.8 920.4h0M366.6 923.6h0M366.7 926.8h0M366.5 923.1h0M367.2 919.5h0M366.7 915.9h0M367.3 912.3h0M366.8 908.7h0M367.7 905.1h0M367.2 908.7h0M367.9 912.2h0M367.3 915.8h0M367.8 919.4h0M368.4 922.9h0M367.9 919.7h0M368.3 916.5h0M368.2 913.3h0M367.8 910.0h0M368.7 906.8h0M368.8 903.6h0M368.7 908.1h0M369.5 912.7h0M369.5 908.7h0M369.7 904.7h0M370.2 908.3h0M370.2 911.8h0M371.2 915.4h0M370.7 918.9h0M370.1 873.1h0M370.2 876.3h0M371.0 879.5h0M370.7 882.6h0M371.0 885.8h0M371.3 888.9h0M370.9 892.1h0M370.7 895.2h0M370.2 898.4h0M371.2 901.5h0M370.9 904.7h0M371.3 907.8h0M371.3 911.0h0M370.9 914.1h0M371.8 917.3h0M371.7 920.4h0M371.7 923.6h0M371.1 926.8h0M371.4 923.5h0M371.5 920.2h0M371.6 916.9h0M371.5 913.6h0M372.0 910.3h0M372.0 907.1h0M372.2 903.8h0M372.0 900.5h0M372.6 897.2h0M372.5 900.6h0M371.9 904.0h0M373.0 907.3h0M372.8 894.7h0M373.5 898.4h0M373.5 902.1h0M373.5 898.0h0M374.5 894.0h0M374.3 897.3h0M374.9 900.6h0M375.1 903.9h0M375.5 900.5h0M375.7 897.2h0M375.4 893.8h0M375.8 897.0h0M375.7 900.1h0M376.8 903.2h0M376.6 899.6h0M377.1 896.0h0M376.8 892.4h0M376.4 896.0h0M377.7 899.6h0M377.4 903.2h0M377.5 906.8h0M377.6 910.4h0M377.9 907.2h0M378.1 903.9h0M377.6 900.6h0M378.6 897.3h0M378.4 901.3h0M378.9 905.4h0M378.7 907.0h0M378.7 910.3h0M379.3 913.7h0M379.6 917.0h0M379.9 920.4h0M379.6 917.3h0M380.1 914.2h0M380.4 911.1h0M380.3 914.3h0M380.6 917.6h0M381.5 920.9h0M381.1 917.5h0M381.5 914.2h0M381.2 910.9h0M381.5 907.5h0M381.1 910.7h0M381.7 913.9h0M382.2 917.1h0M382.6 920.3h0M382.4 923.5h0M382.4 926.8h0M382.3 923.6h0M382.2 920.4h0M382.4 917.2h0M382.7 914.0h0M382.4 910.9h0M382.9 907.7h0M382.5 904.5h0M382.3 901.4h0M382.7 904.5h0M382.6 907.7h0M382.8 910.8h0M383.7 914.0h0M383.4 917.1h0M383.8 913.9h0M384.3 910.8h0M384.5 907.6h0M384.1 911.1h0M384.8 914.6h0M384.7 918.2h0M384.7 921.7h0M384.8 925.2h0M385.1 896.6h0M385.4 899.7h0M385.3 902.8h0M385.6 905.9h0M385.2 909.0h0M385.4 912.2h0M385.8 908.8h0M385.8 905.5h0M385.9 902.1h0M386.6 905.5h0M386.2 908.8h0M386.0 912.2h0M386.5 915.5h0M387.0 918.9h0M386.5 922.2h0M386.9 925.6h0M386.5 928.9h0M386.5 932.3h0M386.5 935.6h0M386.7 932.5h0M387.4 929.3h0M386.5 926.1h0M387.4 922.9h0M386.7 919.7h0M386.9 916.5h0M387.3 913.3h0M387.3 910.1h0M387.2 906.9h0M386.7 903.7h0M387.3 900.5h0M387.0 897.3h0M388.1 894.1h0M387.3 891.0h0M387.5 894.1h0M387.1 897.2h0M387.4 900.3h0M387.2 903.4h0M388.0 906.5h0M387.6 909.6h0M387.9 912.7h0M387.6 915.8h0M387.7 918.9h0M388.3 922.0h0M387.7 925.1h0M387.5 921.9h0M388.3 918.6h0M387.9 915.3h0M388.1 912.1h0M388.6 908.8h0M388.2 905.5h0M388.7 902.2h0M388.3 899.0h0M389.0 895.7h0M389.1 892.4h0M388.6 895.7h0M388.8 899.0h0M388.7 902.3h0M389.1 905.5h0M389.5 908.8h0M388.8 912.1h0M389.3 915.4h0M391.5 896.5h0M391.4 900.7h0M391.7 897.2h0M392.1 893.7h0M391.9 890.2h0M392.3 893.4h0M392.7 896.6h0M392.6 899.7h0M392.8 902.9h0M392.7 906.0h0M393.1 902.3h0M393.2 898.6h0M393.8 894.9h0M393.7 891.1h0M393.6 894.4h0M393.1 897.6h0M394.2 900.9h0M394.4 904.1h0M394.0 901.0h0M393.8 897.8h0M394.1 894.7h0M394.8 891.5h0M394.3 888.4h0M394.6 885.2h0M394.9 882.1h0M395.3 885.6h0M395.1 889.2h0M395.2 892.8h0M395.2 896.3h0M396.0 899.9h0M396.5 894.0h0M396.4 897.5h0M396.2 901.1h0M396.6 904.7h0M397.3 901.2h0M397.1 897.8h0M397.8 894.4h0M397.9 897.6h0M398.1 900.8h0M398.2 904.0h0M398.1 900.7h0M398.7 903.9h0M398.4 907.1h0M398.4 910.4h0M398.4 913.6h0M399.1 916.8h0M399.4 913.3h0M399.6 909.7h0M399.3 906.1h0M399.7 902.6h0M399.2 899.0h0M399.7 895.4h0M399.6 898.6h0M399.9 901.8h0M400.2 905.0h0M400.4 908.2h0M399.9 911.4h0M400.7 914.6h0M400.3 917.9h0M400.2 914.7h0M400.5 911.6h0M400.2 908.4h0M400.7 905.3h0M400.9 902.2h0M400.8 899.0h0M401.1 895.9h0M400.9 892.7h0M401.1 889.6h0M400.7 886.5h0M401.2 889.6h0M401.0 892.7h0M401.2 895.8h0M401.4 898.9h0M401.6 902.0h0M401.1 905.1h0M401.2 908.2h0M401.6 911.4h0M401.9 914.5h0M402.0 917.6h0M402.2 914.2h0M402.4 910.7h0M402.3 907.3h0M402.2 903.9h0M402.0 900.4h0M402.1 897.0h0M402.4 893.6h0M402.6 890.1h0M402.7 900.6h0M402.8 904.1h0M402.7 907.6h0M402.7 911.0h0M403.3 914.5h0M403.4 918.0h0M403.2 914.6h0M403.3 911.2h0M404.2 907.8h0M403.3 904.5h0M403.6 901.1h0M403.8 897.7h0M403.4 894.3h0M403.9 891.0h0M404.5 894.2h0M404.2 897.6h0M404.2 900.9h0M404.2 904.1h0M404.1 907.5h0M404.4 910.8h0M404.1 914.0h0M404.1 917.4h0M404.3 920.6h0M404.6 924.0h0M404.5 927.2h0M404.6 930.5h0M403.8 933.9h0M404.9 937.1h0M405.3 933.9h0M405.0 930.7h0M404.6 927.5h0M404.5 924.2h0M404.9 921.0h0M404.6 917.8h0M405.2 914.6h0M404.8 911.3h0M405.4 908.1h0M405.5 904.9h0M405.2 909.8h0M406.2 905.3h0M406.4 900.8h0M406.7 893.9h0M407.2 897.2h0M406.9 900.6h0M407.0 903.9h0M407.0 907.3h0M406.8 910.6h0M407.4 907.1h0M407.5 903.6h0M407.8 900.0h0M408.5 896.5h0M408.1 892.9h0M408.2 896.1h0M408.7 899.3h0M408.0 902.5h0M408.3 905.7h0M408.6 902.4h0M408.7 899.2h0M409.2 895.9h0M409.1 892.7h0M409.9 889.5h0M409.9 892.8h0M409.7 896.2h0M409.5 899.6h0M409.9 903.0h0M410.0 906.3h0M409.6 909.7h0M410.1 913.1h0M410.3 916.4h0M410.2 913.0h0M410.7 909.5h0M410.7 906.1h0M410.2 902.6h0M410.6 899.1h0M410.4 895.7h0M410.8 892.2h0M412.0 911.6h0M412.1 917.6h0M412.7 913.9h0M412.6 910.2h0M412.8 906.5h0M413.3 902.8h0M413.0 906.2h0M413.5 909.7h0M412.7 913.2h0M413.6 916.7h0M413.4 920.2h0M413.5 916.7h0M413.8 913.3h0M414.0 909.8h0M414.6 906.4h0M413.6 909.6h0M414.2 912.9h0M414.1 916.1h0M414.7 919.4h0M414.3 922.6h0M414.6 925.9h0M414.5 929.1h0M414.8 932.4h0M415.0 935.6h0M414.7 932.5h0M414.9 929.4h0M414.5 926.2h0M415.1 923.1h0M415.3 920.0h0M415.0 916.8h0M415.6 913.7h0M414.7 910.6h0M414.8 907.4h0M415.2 911.4h0M415.6 915.3h0M416.0 919.2h0M415.6 876.1h0M416.8 879.6h0M415.5 883.1h0M416.3 886.7h0M416.9 890.2h0M416.8 893.8h0M416.5 897.3h0M416.9 894.1h0M417.2 890.9h0M417.5 887.7h0M417.0 884.5h0M417.6 881.3h0M417.5 878.1h0M417.9 881.5h0M418.1 885.0h0M417.7 888.4h0M417.5 891.8h0M418.2 895.2h0M418.7 898.6h0M418.5 895.4h0M418.5 892.1h0M419.3 888.8h0M418.4 885.6h0M419.1 882.3h0M418.8 879.0h0M419.2 882.9h0M419.4 886.9h0M420.1 890.8h0M419.6 887.4h0M419.9 884.1h0M419.7 880.7h0M420.4 877.4h0M420.3 894.5h0M420.1 898.0h0M421.0 901.4h0M421.0 904.8h0M421.4 908.3h0M420.6 904.9h0M420.8 901.5h0M420.8 898.1h0M421.3 894.8h0M422.0 891.4h0M422.0 894.8h0M421.9 898.2h0M422.1 901.7h0M422.4 905.1h0M422.2 908.5h0M422.5 911.9h0M422.5 908.7h0M421.9 905.5h0M422.6 902.3h0M423.2 899.1h0M422.8 895.9h0M422.9 892.7h0M422.9 889.5h0M423.1 892.9h0M423.7 896.3h0M423.4 899.8h0M423.3 903.2h0M422.8 906.6h0M423.9 902.7h0M423.8 898.9h0M424.5 902.5h0M425.6 898.6h0M425.9 894.7h0M425.5 898.7h0M426.4 902.8h0M427.6 884.9h0M428.6 886.3h0M428.6 883.2h0M429.2 880.0h0M428.9 876.9h0M428.9 873.8h0M429.2 877.0h0M429.4 880.2h0M429.2 883.4h0M429.7 886.6h0M430.2 889.8h0M429.6 893.0h0M429.8 896.2h0M430.3 899.4h0M429.9 896.0h0M429.9 892.7h0M430.0 889.3h0M430.6 885.9h0M430.7 882.6h0M430.7 885.9h0M430.9 889.3h0M431.4 892.7h0M431.4 896.1h0M430.8 899.4h0M431.3 896.1h0M431.4 892.8h0M431.7 889.4h0M431.4 886.1h0M431.4 882.8h0M431.5 879.4h0M431.2 876.1h0M431.7 872.8h0M431.6 869.4h0M432.0 866.1h0M431.6 862.8h0M431.9 866.0h0M431.8 869.3h0M431.9 872.5h0M432.5 875.8h0M432.2 879.0h0M432.6 882.3h0M432.2 885.5h0M432.6 888.8h0M432.3 885.1h0M432.9 881.5h0M433.1 877.8h0M433.5 881.2h0M433.5 884.6h0M433.5 888.0h0M433.9 891.4h0M433.8 894.8h0M434.0 898.2h0M434.2 901.5h0M434.0 898.4h0M434.0 895.2h0M434.2 892.1h0M434.1 888.9h0M434.4 885.7h0M434.7 882.6h0M434.7 879.4h0M434.4 876.2h0M434.2 873.1h0M434.6 869.9h0M434.7 873.1h0M435.1 876.3h0M434.8 879.4h0M434.9 882.6h0M435.3 885.8h0M435.0 889.0h0M435.3 892.1h0M435.4 886.5h0M435.1 889.7h0M435.6 892.9h0M435.5 896.1h0M435.6 899.3h0M435.4 902.5h0M435.6 905.7h0M435.6 909.0h0M435.8 912.2h0M436.2 915.4h0M436.0 918.6h0M435.4 921.8h0M435.7 925.0h0M435.5 928.2h0M435.8 925.0h0M436.3 921.7h0M436.3 918.5h0M436.1 915.2h0M436.5 911.9h0M436.2 908.7h0M436.1 905.4h0M436.2 902.2h0M436.4 898.9h0M437.2 895.6h0M436.5 899.3h0M437.5 902.9h0M437.7 906.5h0M437.4 910.1h0M437.6 906.7h0M437.6 903.2h0M437.9 899.8h0M438.2 896.3h0M438.2 892.9h0M437.9 890.2h0M438.5 893.4h0M438.7 896.5h0M438.6 899.7h0M439.6 896.6h0M438.9 893.5h0M439.0 890.4h0M439.6 887.3h0M439.2 890.9h0M439.9 894.6h0M439.9 891.4h0M440.3 888.2h0M440.7 885.0h0M441.2 889.2h0M441.7 893.5h0M442.0 890.4h0M442.4 887.3h0M442.4 890.5h0M442.2 893.7h0M442.9 896.9h0M442.7 900.0h0M442.7 882.1h0M443.0 885.5h0M443.1 888.9h0M442.6 892.2h0M443.0 895.6h0M442.8 898.9h0M443.3 902.3h0M443.1 905.7h0M443.8 909.0h0M443.7 905.9h0M443.4 902.7h0M443.7 899.5h0M443.4 896.4h0M443.9 893.2h0M444.1 890.0h0M444.1 886.9h0M443.5 883.7h0M444.1 880.6h0M444.4 883.9h0M444.4 887.2h0M444.7 890.5h0M444.0 893.8h0M444.6 897.1h0M444.3 900.4h0M444.6 903.7h0M444.7 907.0h0M444.9 910.2h0M444.5 913.6h0M444.8 916.9h0M444.5 920.1h0M444.5 923.5h0M445.1 926.8h0M445.0 923.4h0M444.6 920.1h0M444.9 916.8h0M445.2 913.5h0M445.8 910.2h0M445.7 906.9h0M445.7 903.5h0M445.0 900.2h0M445.6 896.9h0M445.7 893.6h0M445.4 889.8h0M446.4 893.2h0M445.8 896.7h0M446.4 900.2h0M446.8 903.6h0M446.1 907.1h0M446.6 903.5h0M446.6 899.9h0M447.0 896.2h0M447.1 892.6h0M447.7 895.9h0M447.4 899.1h0M447.3 902.4h0M447.7 905.6h0M447.3 908.9h0M447.4 912.1h0M448.3 915.4h0M447.4 918.6h0M447.6 915.5h0M447.8 912.3h0M447.5 909.2h0M447.3 906.0h0M448.3 902.8h0M447.8 899.7h0M447.9 896.5h0M448.0 893.3h0M447.9 890.2h0M447.9 887.0h0M448.4 883.8h0M449.1 887.0h0M448.7 890.2h0M448.8 893.3h0M448.1 896.5h0M448.7 899.7h0M448.4 902.8h0M449.0 906.0h0M448.8 909.2h0M448.9 912.3h0M449.0 915.5h0M448.9 912.2h0M448.7 908.9h0M449.3 905.6h0M448.8 902.3h0M448.9 899.1h0M449.3 895.8h0M449.2 892.5h0M449.6 889.2h0M449.8 885.9h0M449.7 882.6h0M449.7 879.4h0M449.7 882.7h0M450.0 886.1h0M449.3 889.4h0M450.0 892.8h0M449.7 896.2h0M449.7 899.5h0M450.1 902.9h0M450.1 906.3h0M450.4 909.6h0M450.7 913.0h0M449.7 909.7h0M450.4 906.3h0M451.1 902.9h0M450.9 899.6h0M451.1 896.2h0M450.8 892.9h0M450.4 889.5h0M450.6 886.1h0M451.0 882.8h0M450.9 887.4h0M451.6 890.9h0M451.0 894.5h0M451.1 898.0h0M450.8 901.6h0M451.8 905.1h0M451.5 908.7h0M452.7 904.6h0M452.4 900.6h0M452.5 904.3h0M452.1 908.1h0M453.3 911.8h0M452.9 915.5h0M453.1 911.9h0M452.7 908.4h0M453.8 904.8h0M453.9 901.2h0M454.1 904.3h0M455.0 901.8h0M455.2 905.1h0M455.5 908.4h0M455.4 911.7h0M456.0 915.0h0M455.6 918.4h0M455.6 914.9h0M455.7 911.5h0M455.1 908.1h0M455.7 904.7h0M456.4 901.3h0M456.2 897.9h0M456.0 894.5h0M456.4 891.1h0M455.8 894.6h0M456.4 898.0h0M456.7 901.4h0M456.9 904.9h0M456.5 908.3h0M457.1 911.8h0M457.5 915.2h0M457.0 918.6h0M456.5 892.5h0M457.5 895.7h0M457.4 899.0h0M457.6 902.3h0M457.6 905.6h0M458.3 908.9h0M457.9 905.1h0M458.2 901.3h0M457.8 897.5h0M458.3 900.8h0M458.4 904.1h0M458.8 907.4h0M459.1 910.6h0M458.9 906.9h0M459.8 903.2h0M459.1 899.5h0M459.4 895.8h0M459.7 892.1h0M459.6 896.3h0M460.5 900.5h0M460.7 897.1h0M460.7 893.8h0M461.6 890.5h0M461.1 893.8h0M461.3 897.0h0M461.1 900.3h0M461.0 903.6h0M461.5 906.9h0M461.7 903.6h0M461.7 900.4h0M462.2 897.1h0M461.4 893.9h0M461.9 890.6h0M461.8 887.4h0M462.9 890.6h0M462.4 893.9h0M462.6 897.2h0M462.5 900.5h0M463.3 903.7h0M463.1 900.5h0M463.5 897.2h0M463.0 894.0h0M464.2 897.4h0M464.1 900.8h0M464.3 904.2h0M464.7 907.6h0M464.4 904.4h0M464.6 901.3h0M465.0 898.2h0M465.0 895.0h0M464.5 888.4h0M465.6 892.2h0M465.5 896.1h0M465.1 899.9h0M465.9 903.8h0M465.7 899.3h0M465.9 894.7h0M466.9 899.2h0M467.1 895.8h0M467.1 892.4h0M467.5 889.0h0M467.5 892.2h0M467.9 895.4h0M468.0 898.7h0M468.3 901.9h0M468.1 905.1h0M467.9 908.4h0M468.1 904.9h0M468.5 901.4h0M469.2 897.9h0M469.1 894.4h0M468.8 890.9h0M469.4 894.5h0M468.9 898.0h0M469.7 901.6h0M469.4 905.1h0M469.9 908.6h0M470.0 905.3h0M469.8 902.0h0M470.2 898.6h0M469.9 895.3h0M470.3 892.0h0M471.0 896.5h0M472.2 900.9h0M471.9 894.9h0M471.8 898.3h0M471.7 901.7h0M472.5 905.1h0M471.8 908.5h0M472.2 905.3h0M472.7 902.1h0M472.4 898.9h0M473.3 895.6h0M473.0 892.4h0M473.1 891.6h0M473.2 895.2h0M473.2 898.9h0M473.6 902.6h0M473.2 906.2h0M473.8 902.8h0M474.4 899.5h0M474.5 896.1h0M474.0 892.7h0M474.2 889.4h0M474.9 892.8h0M475.2 896.2h0M474.4 899.6h0M474.9 903.0h0M475.4 899.6h0M476.0 896.2h0M475.6 899.3h0M476.2 902.4h0M476.1 905.5h0M477.0 908.6h0M476.6 905.2h0M476.5 901.8h0M476.6 898.4h0M477.2 894.9h0M477.2 891.5h0M476.8 894.8h0M477.3 898.1h0M477.0 901.4h0M477.3 904.8h0M477.3 908.1h0M477.4 904.6h0M477.7 901.2h0M477.8 897.8h0M478.3 894.4h0M478.6 890.9h0M478.4 894.1h0M478.2 897.2h0M479.0 900.4h0M478.2 903.5h0M479.0 906.6h0M478.9 889.4h0M478.7 892.7h0M479.0 896.0h0M479.4 899.4h0M479.1 902.7h0M479.2 906.1h0M479.0 909.4h0M479.2 912.7h0M479.8 916.1h0M479.8 919.4h0M479.4 922.8h0M479.5 919.5h0M479.8 916.3h0M480.2 913.0h0M479.8 909.8h0M480.2 906.6h0M479.7 903.3h0M480.0 900.1h0M480.6 896.9h0M480.8 900.0h0M480.3 903.2h0M480.5 906.3h0M481.0 909.5h0M480.7 912.7h0M480.7 915.8h0M481.1 919.0h0M481.1 922.2h0M481.4 925.3h0M481.4 928.5h0M481.1 931.6h0M481.3 928.5h0M481.4 925.4h0M481.1 922.3h0M481.3 919.2h0M481.9 916.1h0M481.3 913.0h0M482.1 909.9h0M482.0 906.7h0M482.0 903.6h0M482.1 894.5h0M482.9 897.9h0M481.9 901.2h0M483.0 904.6h0M483.5 899.6h0M483.9 901.0h0M484.7 898.5h0M485.3 901.8h0M485.8 897.8h0M486.4 893.7h0M486.0 898.3h0M487.2 902.9h0M487.0 899.7h0M487.7 896.5h0M487.7 893.4h0M488.1 897.1h0M488.2 900.9h0M488.5 904.6h0M488.5 901.5h0M488.4 898.4h0M489.1 895.2h0M489.4 898.9h0M490.0 902.6h0M489.0 906.3h0M489.7 903.1h0M490.3 899.8h0M489.7 896.6h0M490.2 893.4h0M491.1 896.7h0M491.1 900.0h0M490.6 903.3h0M491.0 906.6h0M492.1 879.4h0M491.8 882.7h0M492.0 886.0h0M492.4 889.3h0M492.3 892.6h0M492.9 896.0h0M492.3 899.3h0M491.7 902.6h0M492.4 905.9h0M492.7 909.3h0M492.8 912.6h0M492.8 909.5h0M492.6 906.3h0M493.4 903.2h0M492.8 900.1h0M493.3 897.0h0M493.1 893.9h0M492.9 890.7h0M493.7 887.6h0M492.7 891.0h0M493.3 894.4h0M493.8 897.8h0M493.7 901.2h0M494.1 904.6h0M494.0 908.0h0M494.1 904.8h0M495.1 901.5h0M494.6 898.3h0M494.7 901.5h0M494.5 904.6h0M494.7 907.8h0M495.2 910.9h0M495.2 914.1h0M495.1 917.2h0M495.0 920.4h0M495.5 923.5h0M494.8 926.6h0M495.3 923.3h0M495.4 919.9h0M495.4 916.5h0M495.8 913.2h0M495.6 909.8h0M495.7 906.4h0M496.0 903.1h0M496.4 899.5h0M496.8 902.8h0M496.1 906.1h0M496.4 909.4h0M496.4 912.7h0M495.4 916.0h0M496.1 919.3h0M496.7 922.6h0M496.9 919.5h0M496.6 916.3h0M497.2 913.2h0M497.3 910.0h0M496.9 906.9h0M497.5 903.7h0M497.7 900.5h0M497.4 897.4h0M497.0 894.2h0M497.9 897.7h0M497.6 901.1h0M497.7 904.6h0M498.0 908.0h0M498.1 904.3h0M498.8 900.6h0M498.9 896.9h0M499.1 900.2h0M499.0 903.5h0M498.7 906.7h0M499.0 910.0h0M499.4 913.3h0M499.1 916.6h0M500.2 919.9h0M499.3 916.5h0M499.3 913.2h0M499.9 909.9h0M499.9 906.6h0M499.7 903.3h0M499.8 900.0h0M500.0 896.7h0M500.0 893.4h0M499.7 881.4h0M499.8 884.7h0M500.1 888.0h0M500.2 891.3h0M500.5 894.6h0M500.5 897.9h0M500.4 901.3h0M500.5 904.6h0M501.0 907.9h0M500.4 911.2h0M500.7 914.5h0M501.2 917.9h0M500.9 914.6h0M500.3 911.3h0M501.1 908.0h0M500.9 904.7h0M501.1 901.4h0M501.5 898.2h0M501.4 894.9h0M501.3 891.6h0M501.7 888.3h0M501.6 891.4h0M501.6 894.5h0M501.7 897.6h0M501.8 900.7h0M501.7 903.8h0M501.7 906.9h0M501.9 910.0h0M501.7 913.1h0M501.7 916.2h0M502.5 919.3h0M502.2 915.9h0M502.3 912.5h0M502.3 909.2h0M502.5 905.8h0M502.5 902.4h0M502.6 899.0h0M502.5 895.6h0M503.1 892.2h0M502.6 888.9h0M503.2 892.0h0M502.4 895.1h0M502.8 898.2h0M503.5 901.3h0M503.2 904.4h0M503.1 907.5h0M503.5 910.6h0M503.2 913.7h0M503.6 916.8h0M503.0 913.5h0M503.6 910.2h0M503.6 906.9h0M504.0 903.5h0M504.2 900.2h0M503.7 896.9h0M504.6 893.6h0M504.0 890.3h0M503.6 886.9h0M503.6 883.6h0M504.8 886.8h0M504.3 890.0h0M504.2 893.2h0M504.2 896.4h0M504.2 899.6h0M505.0 902.7h0M504.6 905.9h0M505.2 909.1h0M504.6 912.3h0M504.0 915.5h0M505.0 918.7h0M504.7 921.9h0M504.8 925.1h0M505.4 928.3h0M504.9 931.5h0M505.0 934.6h0M504.9 891.7h0M505.4 895.1h0M505.3 898.5h0M505.7 901.9h0M505.4 905.3h0M505.9 901.7h0M506.2 898.2h0M506.1 894.6h0M506.4 898.1h0M506.5 901.6h0M507.1 905.1h0M506.8 908.6h0M507.4 905.1h0M507.9 901.6h0M507.8 898.1h0M507.9 900.9h0M509.0 897.4h0M510.0 900.4h0M509.7 897.1h0M510.3 893.9h0M510.4 890.7h0M510.5 887.5h0M510.4 890.8h0M510.4 894.1h0M510.5 897.4h0M510.7 900.7h0M511.0 904.0h0M511.0 907.3h0M510.9 910.6h0M511.1 907.4h0M511.3 904.1h0M510.8 900.8h0M511.2 897.5h0M511.3 894.2h0M511.6 890.9h0M511.8 894.7h0M512.0 898.5h0M512.1 902.3h0M512.7 898.6h0M512.8 894.8h0M512.3 891.1h0M513.0 887.4h0M512.9 884.8h0M513.3 888.6h0M514.1 892.4h0M514.1 888.3h0M514.6 884.3h0M514.9 888.3h0M514.5 892.2h0M515.5 896.2h0M515.3 892.9h0M515.5 889.7h0M515.0 886.5h0M515.6 883.3h0M515.5 880.0h0M515.3 876.8h0M516.3 873.6h0M515.8 870.4h0M515.7 873.5h0M515.9 876.6h0M516.2 879.8h0M516.3 882.9h0M516.2 886.1h0M516.5 889.2h0M516.6 892.4h0M515.9 895.5h0M516.2 898.6h0M516.2 895.4h0M516.6 892.2h0M517.2 889.0h0M517.1 885.7h0M517.0 882.5h0M516.8 888.4h0M517.2 892.0h0M517.2 895.5h0M517.3 899.0h0M517.9 902.6h0M517.9 906.1h0M517.4 909.6h0M517.5 913.2h0M518.3 910.0h0M517.7 906.9h0M518.3 903.7h0M518.4 900.6h0M517.9 897.4h0M518.0 894.3h0M518.2 891.2h0M518.0 888.0h0M518.0 884.9h0M518.4 888.1h0M518.9 891.4h0M518.6 894.6h0M518.8 897.8h0M518.9 901.1h0M519.3 899.8h0M520.2 902.9h0M519.2 906.1h0M519.8 909.2h0M520.3 912.4h0M519.8 915.5h0M520.5 918.6h0M520.8 915.4h0M520.2 912.2h0M520.6 909.0h0M520.2 905.8h0M520.8 902.6h0M520.7 899.4h0M520.8 896.2h0M521.2 893.0h0M521.0 889.8h0M521.3 886.6h0M521.2 883.4h0M520.7 886.8h0M521.3 890.2h0M521.4 893.6h0M521.0 897.0h0M521.9 900.4h0M521.6 903.8h0M521.8 907.2h0M521.6 904.0h0M522.1 900.7h0M522.4 897.4h0M522.5 901.1h0M522.8 904.8h0M522.4 908.5h0M523.5 905.2h0M522.9 901.8h0M522.6 898.4h0M523.1 895.1h0M523.2 891.7h0M523.7 888.3h0M523.4 885.0h0M523.9 888.5h0M523.6 892.0h0M524.6 895.4h0M524.2 898.9h0M524.7 902.4h0M523.9 905.9h0M524.5 909.4h0M524.1 906.1h0M524.7 902.8h0M524.8 899.5h0M524.2 896.2h0M524.5 892.9h0M524.6 889.7h0M525.0 886.4h0M525.3 890.3h0M525.4 894.0h0M525.4 897.6h0M526.3 901.3h0M526.4 897.9h0M526.0 894.6h0M526.3 891.2h0M526.9 894.4h0M526.5 897.6h0M527.1 900.7h0M527.2 897.3h0M527.1 893.8h0M527.4 890.4h0M527.2 886.9h0M527.8 891.1h0M527.7 895.2h0M529.7 889.3h0M529.6 892.4h0M529.7 895.5h0M529.6 898.6h0M530.0 901.7h0M530.2 897.8h0M530.3 894.0h0M530.4 890.2h0M530.1 886.4h0M530.6 889.5h0M530.4 892.6h0M530.4 895.7h0M530.5 898.8h0M531.1 901.9h0M531.5 898.7h0M531.0 895.4h0M532.2 892.1h0M532.3 895.6h0M532.0 899.1h0M532.2 902.6h0M532.5 898.8h0M533.1 895.0h0M533.0 891.2h0M533.2 883.4h0M533.2 886.8h0M533.0 890.3h0M533.3 893.7h0M533.4 897.2h0M533.9 900.6h0M534.2 904.0h0M534.1 899.5h0M534.1 894.9h0M534.2 898.2h0M534.5 901.5h0M535.1 904.8h0M534.9 908.1h0M534.9 911.4h0M534.8 914.7h0M535.3 911.4h0M535.2 908.1h0M535.2 904.8h0M535.3 901.6h0M535.8 898.3h0M535.3 895.0h0M535.9 891.7h0M535.8 888.5h0M535.5 885.2h0M535.8 881.9h0M535.6 878.6h0M535.4 875.4h0M535.6 878.6h0M535.5 881.8h0M535.9 885.0h0M535.8 888.2h0M536.0 891.4h0M536.2 894.6h0M535.0 897.8h0M536.1 901.0h0M535.5 904.2h0M536.1 907.4h0M535.9 910.6h0M536.2 913.8h0M536.6 917.0h0M535.7 920.2h0M536.3 923.4h0M536.3 926.6h0M535.8 923.6h0M536.6 920.5h0M536.5 917.4h0M536.4 914.3h0M536.4 911.2h0M537.6 908.1h0M536.6 905.0h0M536.2 901.9h0M536.5 898.8h0M536.7 895.7h0M536.8 892.6h0M536.9 889.5h0M536.7 886.4h0M537.2 889.6h0M537.0 892.9h0M536.8 896.2h0M537.0 899.5h0M537.2 902.8h0M537.7 906.0h0M537.6 909.3h0M537.4 912.6h0M537.6 915.9h0M537.7 919.2h0M538.4 916.0h0M537.6 912.8h0M538.0 909.6h0M538.2 906.4h0M537.8 903.2h0M538.2 900.0h0M538.2 896.8h0M538.1 893.6h0M538.5 890.4h0M538.7 893.6h0M538.8 896.7h0M538.5 899.9h0M538.7 903.1h0M539.4 906.2h0M538.4 909.4h0M538.9 912.6h0M539.2 915.8h0M539.0 918.9h0M538.7 892.5h0M540.1 896.1h0M539.7 892.5h0M540.1 888.9h0M540.9 885.4h0M540.2 889.2h0M540.9 893.0h0M540.9 896.8h0M541.0 900.6h0M540.9 897.4h0M541.5 894.3h0M541.4 891.1h0M542.0 887.9h0M542.2 891.3h0M541.6 894.7h0M542.0 898.1h0M542.2 901.5h0M542.1 897.9h0M542.3 894.2h0M542.9 890.6h0M542.9 887.0h0M542.7 890.5h0M543.3 893.9h0M543.8 897.4h0M544.0 895.5h0M544.3 898.8h0M545.3 902.1h0M545.4 905.4h0M544.6 902.2h0M544.8 899.0h0M545.4 895.9h0M545.1 892.7h0M545.5 889.6h0M545.5 886.4h0M546.0 890.1h0M545.2 893.8h0M545.4 897.4h0M545.8 901.1h0M546.6 904.8h0M546.4 901.7h0M546.0 898.6h0M546.8 895.4h0M547.0 892.3h0M546.8 889.2h0M546.9 886.1h0M547.2 889.5h0M547.6 892.9h0M547.4 896.4h0M547.6 899.8h0M547.5 903.2h0M547.6 906.6h0M547.5 903.1h0M548.0 899.6h0M548.0 896.0h0M548.1 892.5h0M548.6 889.0h0M548.6 892.5h0M548.9 896.0h0M548.3 899.5h0M549.0 903.1h0M549.0 906.6h0M548.7 883.1h0M549.1 886.3h0M549.1 889.5h0M549.9 892.7h0M549.1 895.9h0M549.1 899.1h0M549.7 895.6h0M549.9 892.0h0M550.1 888.5h0M550.4 884.9h0M551.0 881.4h0M550.3 885.0h0M550.4 888.6h0M550.1 892.2h0M550.9 895.8h0M551.1 899.4h0M550.9 903.0h0M551.6 899.3h0M551.5 895.6h0M552.1 891.8h0M552.0 895.8h0M551.8 899.7h0M552.1 903.6h0M552.0 900.4h0M552.1 897.2h0M552.8 894.0h0M553.1 890.8h0M553.0 887.5h0M552.4 878.4h0M553.4 881.6h0M553.3 884.9h0M553.3 888.1h0M553.4 891.4h0M554.2 894.6h0M554.3 890.8h0M554.5 887.0h0M553.8 883.2h0M554.1 879.4h0M554.8 883.5h0M554.4 887.6h0M554.8 891.8h0M554.8 888.0h0M556.2 884.3h0M556.7 887.1h0M556.8 882.9h0M557.1 878.6h0M557.1 882.1h0M557.3 885.6h0M557.9 889.1h0M557.8 885.1h0M558.7 881.1h0M559.0 886.9h0" stroke="#b80000" stroke-width="3.0" stroke-linecap="round" fill="none"/><path d="M156.6 901.1h0M156.8 905.3h0M157.5 909.4h0M157.6 906.0h0M158.2 902.7h0M158.2 899.3h0M157.8 903.4h0M158.6 907.5h0M159.0 911.6h0M159.1 907.7h0M159.5 903.8h0M159.2 899.9h0M159.4 903.0h0M160.3 906.1h0M160.0 901.6h0M160.7 897.1h0M159.4 869.1h0M158.7 872.2h0M159.7 875.2h0M159.2 878.4h0M159.3 881.5h0M159.9 884.5h0M159.7 887.6h0M159.4 890.8h0M160.5 893.8h0M159.7 896.9h0M160.2 893.8h0M160.3 890.6h0M160.8 887.5h0M160.4 884.3h0M161.0 881.1h0M160.6 884.5h0M161.3 887.8h0M160.9 891.2h0M161.2 894.5h0M162.1 890.5h0M161.9 886.5h0M162.0 882.4h0M162.8 886.0h0M162.4 889.5h0M162.3 893.1h0M162.9 896.6h0M162.5 893.5h0M163.3 890.3h0M163.4 887.2h0M163.0 884.0h0M163.2 880.9h0M163.5 884.0h0M163.6 887.2h0M163.5 890.3h0M164.1 893.5h0M163.4 896.7h0M164.0 893.1h0M164.1 889.6h0M164.3 886.1h0M164.6 882.5h0M164.2 879.0h0M164.7 875.5h0M165.0 880.9h0M165.2 884.4h0M165.5 887.9h0M165.1 891.4h0M165.0 895.0h0M166.0 890.7h0M166.1 886.5h0M167.0 891.0h0M166.9 887.8h0M167.4 884.7h0M167.4 881.5h0M167.6 878.4h0M167.7 881.6h0M167.8 884.9h0M167.9 888.2h0M168.1 891.5h0M168.5 888.1h0M168.3 884.8h0M169.2 881.5h0M168.8 884.6h0M169.2 887.7h0M169.0 890.8h0M169.1 893.9h0M169.9 896.9h0M169.4 893.2h0M169.2 889.5h0M169.5 885.8h0M169.8 882.1h0M170.0 878.4h0M170.1 899.6h0M170.5 903.8h0M171.2 908.0h0M171.1 903.1h0M171.6 906.2h0M171.6 909.3h0M171.2 912.5h0M171.6 915.6h0M171.6 918.7h0M171.1 921.8h0M172.0 925.0h0M172.1 928.1h0M171.8 931.2h0M171.6 934.4h0M172.5 931.2h0M172.2 928.1h0M172.5 924.9h0M172.7 921.8h0M172.2 918.7h0M172.7 915.5h0M172.4 912.4h0M172.5 909.3h0M172.6 906.1h0M172.7 903.0h0M173.9 888.6h0M174.4 892.8h0M174.4 896.9h0M174.6 893.8h0M174.8 890.6h0M174.8 887.5h0M175.0 884.3h0M174.9 881.1h0M175.8 878.0h0M175.7 874.8h0M175.5 871.6h0M175.4 874.9h0M176.2 878.2h0M175.7 881.5h0M175.7 884.7h0M175.9 888.0h0M176.0 891.3h0M176.4 894.5h0M176.4 890.4h0M176.7 886.2h0M177.1 901.0h0M176.7 905.4h0M177.3 909.8h0M177.3 905.7h0M178.1 901.6h0M178.1 905.2h0M178.2 908.8h0M178.2 912.4h0M178.4 916.0h0M178.5 919.6h0M178.9 916.2h0M179.3 912.8h0M178.4 909.4h0M179.0 905.9h0M179.0 902.5h0M179.4 899.1h0M179.1 895.6h0M179.5 899.3h0M179.4 903.0h0M180.1 906.7h0M180.0 910.4h0M180.1 907.2h0M180.5 904.0h0M180.4 900.8h0M180.2 897.6h0M181.0 901.2h0M181.1 904.9h0M181.1 908.6h0M181.6 912.2h0M181.8 909.1h0M181.3 905.9h0M181.5 902.7h0M182.3 899.6h0M182.0 896.4h0M182.0 912.5h0M181.8 916.0h0M182.0 919.6h0M182.8 923.2h0M182.5 926.7h0M182.8 923.2h0M183.1 919.7h0M183.2 916.2h0M183.0 912.6h0M183.2 909.1h0M183.1 905.6h0M183.9 908.8h0M183.7 912.1h0M183.3 915.4h0M183.7 918.6h0M184.0 921.9h0M184.0 925.1h0M184.5 928.4h0M184.4 931.6h0M183.9 928.3h0M184.1 924.9h0M183.9 921.6h0M184.4 918.2h0M184.5 914.9h0M185.3 911.5h0M184.6 908.2h0M184.0 904.8h0M184.6 908.4h0M184.9 911.9h0M184.6 915.4h0M184.9 919.0h0M185.1 922.5h0M185.4 926.1h0M185.4 922.7h0M185.2 919.3h0M185.8 915.8h0M185.5 912.4h0M185.6 909.0h0M185.4 905.6h0M185.6 902.2h0M186.1 898.8h0M186.0 895.4h0M186.4 893.1h0M186.7 897.4h0M186.7 901.7h0M186.8 899.8h0M187.4 903.7h0M188.3 907.5h0M188.7 903.9h0M188.4 900.3h0M188.9 896.8h0M188.5 893.2h0M188.7 896.6h0M188.9 900.1h0M189.2 903.5h0M188.7 906.9h0M189.6 910.4h0M189.9 907.0h0M189.3 903.7h0M189.3 900.3h0M190.0 897.0h0M190.0 893.7h0M190.0 902.6h0M190.0 906.3h0M190.5 910.0h0M190.4 913.7h0M190.7 909.6h0M191.2 905.5h0M191.2 901.4h0M191.3 904.5h0M192.0 907.7h0M191.9 910.9h0M192.0 914.1h0M192.0 917.3h0M192.1 920.5h0M192.4 923.6h0M192.2 919.9h0M192.9 916.1h0M192.2 912.4h0M192.6 908.6h0M192.5 912.7h0M193.0 916.7h0M193.5 920.8h0M193.9 917.0h0M193.5 913.1h0M193.8 909.3h0M194.0 905.5h0M194.0 914.4h0M194.1 918.1h0M194.4 921.9h0M194.4 918.8h0M195.5 915.7h0M194.7 912.6h0M195.7 909.5h0M195.5 906.4h0M195.3 909.6h0M195.1 912.9h0M195.9 916.1h0M196.1 919.4h0M195.4 922.6h0M195.7 925.9h0M196.2 929.1h0M196.0 932.4h0M196.6 935.6h0M195.9 932.3h0M196.4 929.0h0M195.9 925.6h0M197.0 922.3h0M196.3 918.9h0M195.9 915.6h0M196.6 912.2h0M196.8 915.7h0M197.5 919.1h0M197.0 922.5h0M197.2 925.9h0M197.5 929.4h0M197.9 926.2h0M197.6 923.1h0M198.0 920.0h0M198.0 916.9h0M198.0 913.8h0M199.0 891.6h0M199.2 895.2h0M199.9 898.7h0M199.3 902.2h0M200.2 905.8h0M200.3 909.3h0M200.3 905.7h0M200.4 902.2h0M200.7 905.7h0M201.1 909.2h0M201.3 912.7h0M201.3 916.2h0M201.6 919.6h0M201.3 916.4h0M201.6 913.1h0M201.1 909.9h0M201.9 906.6h0M201.9 903.4h0M201.8 900.1h0M202.0 896.9h0M204.3 878.8h0M205.1 882.2h0M205.6 885.6h0M204.7 889.0h0M205.0 892.4h0M204.9 895.8h0M205.2 899.2h0M205.3 902.6h0M205.6 906.0h0M205.0 909.4h0M205.8 912.8h0M205.1 909.7h0M205.5 906.5h0M205.8 903.3h0M205.8 900.2h0M205.3 897.0h0M205.4 893.8h0M205.6 890.7h0M205.7 887.5h0M206.1 884.3h0M205.5 881.2h0M206.0 878.0h0M206.1 874.8h0M206.2 871.6h0M206.2 874.8h0M206.6 878.0h0M206.3 881.2h0M206.5 884.4h0M206.4 887.5h0M206.8 890.7h0M205.8 893.9h0M206.8 897.1h0M206.4 900.2h0M206.4 903.4h0M206.3 906.6h0M206.0 909.8h0M206.5 912.9h0M206.5 909.7h0M207.0 906.5h0M206.5 903.3h0M207.4 900.1h0M207.1 896.9h0M207.1 893.6h0M207.0 890.4h0M207.3 887.2h0M207.3 882.8h0M208.0 886.4h0M207.8 889.9h0M207.7 893.4h0M207.5 896.9h0M207.7 893.8h0M207.7 890.8h0M208.5 887.6h0M208.2 884.5h0M208.6 881.5h0M208.5 878.4h0M208.8 881.9h0M209.3 885.5h0M208.8 889.1h0M209.1 892.7h0M209.1 896.2h0M209.8 893.0h0M209.5 889.7h0M209.7 886.5h0M210.3 891.3h0M210.5 887.2h0M211.3 883.1h0M212.1 878.9h0M211.2 882.4h0M211.9 885.8h0M211.8 889.2h0M211.6 892.6h0M211.9 896.0h0M212.3 891.8h0M212.7 887.5h0M213.1 882.1h0M214.1 883.6h0M214.0 880.2h0M214.3 876.7h0M213.7 880.2h0M214.3 883.8h0M214.2 887.3h0M214.4 890.8h0M215.0 894.4h0M214.6 890.9h0M214.9 887.5h0M214.4 884.1h0M215.0 880.6h0M215.2 877.2h0M215.1 873.8h0M215.2 870.4h0M216.1 873.7h0M215.3 877.0h0M215.6 880.3h0M215.8 883.7h0M216.6 880.0h0M217.1 876.3h0M216.8 872.6h0M216.6 875.8h0M216.8 878.9h0M217.4 882.1h0M216.9 885.2h0M217.7 888.4h0M217.8 891.5h0M217.5 888.1h0M217.8 884.7h0M217.9 881.3h0M218.3 877.9h0M217.6 874.5h0M218.4 871.1h0M218.1 874.3h0M218.1 877.5h0M218.5 880.6h0M218.5 883.8h0M218.4 886.9h0M218.4 883.4h0M218.8 879.8h0M219.6 876.2h0M220.0 872.6h0M219.7 876.0h0M219.9 879.3h0M219.5 882.6h0M219.8 885.9h0M220.0 889.2h0M219.7 892.6h0M219.8 889.0h0M220.3 885.5h0M220.3 881.9h0M220.2 878.4h0M220.7 874.9h0M220.7 871.3h0M219.9 881.2h0M220.0 884.4h0M220.2 887.7h0M220.8 890.9h0M220.9 894.1h0M221.3 890.9h0M220.5 887.6h0M221.1 884.3h0M221.2 881.0h0M221.5 877.7h0M221.6 880.8h0M221.8 884.0h0M222.5 887.1h0M222.4 883.7h0M222.2 880.3h0M223.1 876.9h0M223.1 873.5h0M222.8 870.1h0M223.4 873.6h0M223.1 877.0h0M223.9 880.4h0M223.7 883.8h0M224.6 877.7h0M224.7 881.1h0M224.8 884.4h0M224.7 887.8h0M223.9 891.2h0M225.1 894.5h0M224.7 897.9h0M225.4 894.7h0M225.7 891.5h0M225.5 888.2h0M225.3 885.0h0M225.5 881.8h0M225.5 878.6h0M225.5 875.4h0M225.5 872.1h0M225.5 868.9h0M226.2 865.7h0M225.9 862.5h0M226.2 859.3h0M225.9 862.4h0M226.1 865.5h0M226.1 868.7h0M226.3 871.8h0M226.5 874.9h0M226.4 878.1h0M226.1 881.2h0M226.2 884.4h0M226.9 887.5h0M226.4 890.6h0M226.5 893.8h0M227.1 896.9h0M227.0 900.0h0M226.9 896.9h0M226.6 893.8h0M227.5 890.7h0M226.9 887.6h0M227.0 884.5h0M226.8 881.4h0M226.4 878.2h0M226.5 875.1h0M227.0 872.0h0M227.1 868.9h0M226.9 865.8h0M226.6 862.7h0M226.6 859.6h0M227.0 856.4h0M226.6 853.3h0M227.4 850.2h0M227.5 847.1h0M228.0 844.0h0M227.4 840.9h0M227.0 837.8h0M227.0 834.6h0M226.2 831.5h0M227.1 828.4h0M227.3 825.3h0M227.6 822.2h0M227.6 819.1h0M227.4 816.0h0M227.9 880.6h0M227.9 883.9h0M227.9 887.3h0M227.5 890.7h0M228.1 894.1h0M228.2 890.5h0M228.5 886.9h0M228.6 883.3h0M229.1 886.4h0M229.0 889.5h0M229.6 892.6h0M230.0 889.0h0M230.1 892.4h0M230.4 895.9h0M230.5 899.3h0M231.0 895.5h0M230.9 891.7h0M231.2 887.9h0M231.1 884.1h0M230.9 887.3h0M231.8 890.5h0M231.3 893.7h0M232.0 896.9h0M231.9 900.0h0M232.2 902.8h0M232.9 905.9h0M232.7 909.0h0M232.9 912.2h0M232.8 915.4h0M233.1 918.5h0M232.8 921.6h0M233.1 924.8h0M233.4 928.0h0M233.3 931.1h0M233.2 934.2h0M233.1 930.8h0M233.6 927.4h0M233.8 923.9h0M233.7 920.5h0M233.6 917.1h0M234.1 913.6h0M234.8 910.2h0M234.1 913.4h0M234.4 916.6h0M234.6 919.9h0M233.8 923.1h0M234.7 926.3h0M234.6 929.5h0M235.4 926.0h0M235.1 922.4h0M235.1 918.9h0M235.5 915.3h0M235.8 918.5h0M235.7 921.7h0M236.0 924.8h0M235.7 928.0h0M236.3 931.2h0M236.8 922.1h0M236.8 925.5h0M236.5 929.0h0M236.8 932.5h0M236.9 936.0h0M237.0 939.4h0M237.2 935.8h0M237.1 932.1h0M237.0 928.4h0M237.7 932.5h0M237.6 936.6h0M238.5 933.0h0M238.7 929.4h0M238.4 925.8h0M239.2 929.4h0M239.5 933.0h0M239.4 936.6h0M240.0 940.1h0M240.2 936.4h0M239.5 932.7h0M240.3 929.0h0M240.3 925.3h0M240.5 928.7h0M240.9 932.1h0M240.8 935.5h0M240.8 925.1h0M240.9 928.7h0M241.2 932.3h0M240.7 936.0h0M241.2 939.6h0M241.5 936.5h0M241.8 933.3h0M241.8 930.1h0M242.4 926.9h0M242.3 930.2h0M242.4 933.5h0M242.6 936.7h0M243.0 940.0h0M242.8 936.8h0M243.4 933.7h0M243.4 930.5h0M243.5 927.3h0M243.5 930.7h0M243.8 934.1h0M244.1 937.4h0M244.1 940.8h0M244.1 944.2h0M244.3 947.5h0M244.2 944.3h0M244.7 941.0h0M244.5 937.8h0M244.0 934.5h0M245.1 931.2h0M245.0 934.4h0M244.8 937.6h0M245.3 940.8h0M245.3 936.8h0M246.5 932.8h0M246.2 928.8h0M245.7 932.2h0M246.5 935.6h0M246.4 939.0h0M246.7 942.4h0M246.6 906.5h0M246.7 909.7h0M246.4 912.8h0M247.3 916.0h0M247.8 919.2h0M246.9 922.4h0M247.9 919.1h0M247.5 915.9h0M248.5 912.7h0M248.1 909.5h0M248.0 906.3h0M248.5 903.1h0M248.5 906.6h0M248.4 910.2h0M249.0 913.7h0M248.8 917.2h0M248.5 914.0h0M249.7 910.8h0M249.0 907.6h0M249.0 904.4h0M249.4 901.2h0M248.9 898.0h0M249.0 894.8h0M249.3 891.6h0M249.4 888.4h0M249.7 885.2h0M249.7 882.1h0M249.7 895.4h0M249.4 899.0h0M250.0 902.6h0M249.8 906.2h0M250.3 909.8h0M250.2 913.4h0M250.1 917.0h0M250.7 913.9h0M250.8 910.8h0M250.5 907.6h0M251.1 904.5h0M250.8 901.4h0M250.9 898.3h0M251.2 901.8h0M251.1 905.3h0M251.4 908.7h0M251.6 912.2h0M252.3 909.0h0M252.4 905.8h0M252.0 902.6h0M252.7 899.3h0M252.3 896.1h0M252.5 899.4h0M252.7 902.6h0M252.6 905.9h0M253.2 909.1h0M252.6 912.4h0M252.2 915.6h0M253.0 918.9h0M252.6 922.1h0M252.7 925.4h0M251.9 928.6h0M253.1 931.9h0M253.1 935.1h0M253.2 938.4h0M253.3 941.6h0M253.5 938.4h0M253.1 935.1h0M253.4 931.9h0M253.0 928.6h0M253.2 925.3h0M253.7 922.1h0M253.5 918.8h0M253.1 915.5h0M253.6 912.3h0M253.5 909.0h0M253.4 905.7h0M254.0 909.1h0M253.9 912.4h0M253.8 915.8h0M254.1 912.4h0M255.1 909.1h0M254.3 905.7h0M255.0 902.4h0M255.2 905.7h0M255.3 908.9h0M254.9 912.2h0M255.2 915.4h0M255.5 918.7h0M255.7 921.9h0M255.6 925.2h0M256.5 887.8h0M256.5 891.1h0M256.9 894.3h0M256.3 897.5h0M256.9 900.8h0M256.9 904.0h0M256.7 907.2h0M257.2 910.4h0M257.3 907.3h0M257.3 904.2h0M257.6 901.1h0M257.2 898.0h0M257.7 894.9h0M258.0 891.8h0M258.2 895.9h0M258.7 899.9h0M258.2 904.0h0M258.3 900.7h0M258.9 897.3h0M259.1 894.0h0M259.7 890.7h0M259.3 887.3h0M259.0 884.0h0M259.6 880.6h0M259.2 884.0h0M259.1 887.4h0M260.5 890.8h0M259.9 894.1h0M260.2 897.5h0M260.2 900.9h0M260.7 897.7h0M260.2 894.6h0M260.6 891.4h0M259.9 888.3h0M259.9 885.1h0M260.7 882.0h0M260.8 878.8h0M260.5 875.7h0M260.5 872.5h0M260.5 869.4h0M260.3 866.2h0M261.0 863.1h0M260.8 859.9h0M260.8 856.8h0M260.8 853.6h0M261.0 850.5h0M260.9 847.3h0M260.8 844.1h0M260.8 888.5h0M261.4 892.7h0M261.8 896.9h0M261.8 893.8h0M261.2 890.6h0M261.9 887.5h0M261.5 884.4h0M261.7 881.2h0M262.2 878.1h0M262.0 874.9h0M262.4 871.8h0M263.2 868.6h0M262.6 871.8h0M262.6 874.9h0M262.2 878.1h0M262.4 881.2h0M262.3 884.3h0M262.6 887.5h0M262.5 890.6h0M262.7 893.8h0M262.9 896.9h0M262.7 900.0h0M262.8 896.6h0M263.1 893.1h0M263.9 889.7h0M264.1 893.1h0M264.5 896.6h0M264.4 895.8h0M264.4 899.3h0M265.0 902.8h0M264.6 906.3h0M265.1 902.6h0M265.8 899.0h0M265.8 895.4h0M266.0 899.6h0M266.7 903.8h0M266.4 900.2h0M267.2 896.6h0M267.2 900.0h0M267.5 903.5h0M268.5 899.8h0M268.2 903.4h0M269.2 907.0h0M268.6 910.6h0M269.5 914.2h0M269.0 917.9h0M269.0 889.1h0M269.2 892.5h0M269.4 895.8h0M268.9 899.2h0M270.0 902.5h0M269.8 905.9h0M269.9 902.6h0M270.0 899.3h0M270.1 903.1h0M270.6 906.9h0M271.5 902.9h0M271.5 898.8h0M271.4 902.0h0M271.7 905.2h0M272.5 908.5h0M272.0 911.7h0M272.1 914.9h0M272.8 911.6h0M272.6 908.2h0M272.6 904.9h0M272.5 901.6h0M272.4 898.3h0M272.6 894.9h0M272.9 898.2h0M273.0 901.4h0M273.3 904.7h0M273.4 907.9h0M273.4 911.1h0M273.5 914.4h0M273.2 917.6h0M272.9 920.9h0M273.5 917.7h0M273.4 914.6h0M273.6 911.5h0M273.7 908.3h0M273.5 905.2h0M273.6 902.1h0M274.0 899.0h0M274.1 895.8h0M273.9 892.7h0M274.3 889.6h0M274.2 886.5h0M274.1 889.7h0M274.5 892.9h0M275.2 896.2h0M274.6 899.4h0M274.9 902.6h0M275.6 862.0h0M275.6 865.1h0M275.7 868.2h0M276.1 871.2h0M276.0 874.4h0M276.0 877.5h0M276.5 880.5h0M276.0 883.6h0M276.0 886.8h0M276.9 882.9h0M277.3 879.1h0M278.1 885.1h0M278.2 882.3h0M279.3 886.7h0M279.1 883.6h0M279.8 887.4h0M279.5 891.2h0M279.6 895.1h0M280.2 898.9h0M280.4 895.3h0M280.6 891.7h0M280.2 888.0h0M280.6 884.4h0M281.1 888.1h0M280.8 891.8h0M281.0 895.5h0M282.1 890.0h0M283.0 894.2h0M282.8 888.6h0M282.6 892.4h0M283.2 896.2h0M283.8 900.0h0M283.6 889.9h0M283.9 893.0h0M283.7 896.1h0M284.0 899.2h0M283.9 902.3h0M285.0 905.4h0M284.5 908.5h0M284.1 911.6h0M284.2 914.7h0M284.4 917.9h0M284.1 914.7h0M284.5 911.6h0M284.6 908.4h0M285.1 905.2h0M284.8 902.1h0M284.8 899.0h0M284.7 895.8h0M284.8 892.6h0M285.2 889.5h0M285.2 886.4h0M285.8 889.8h0M285.4 893.2h0M286.0 896.7h0M285.9 900.1h0M285.9 903.6h0M285.4 907.0h0M285.9 902.9h0M286.8 898.8h0M286.8 894.7h0M287.4 878.5h0M287.5 881.9h0M288.1 885.4h0M288.1 888.8h0M288.0 892.2h0M288.2 895.6h0M288.5 892.4h0M288.4 889.2h0M288.1 886.0h0M288.9 882.8h0M288.5 879.6h0M288.5 876.4h0M289.0 873.2h0M288.9 870.0h0M288.6 866.8h0M288.8 863.6h0M288.3 860.4h0M288.5 857.2h0M288.1 854.0h0M289.1 850.8h0M288.2 847.6h0M289.1 844.4h0M288.6 841.2h0M288.6 838.0h0M288.9 834.8h0M289.1 831.6h0M289.2 834.8h0M289.6 838.0h0M289.2 841.2h0M289.5 844.4h0M289.1 847.6h0M289.5 850.9h0M289.4 854.1h0M289.2 857.3h0M289.4 860.5h0M289.5 863.7h0M289.6 867.0h0M289.7 870.2h0M289.5 873.4h0M289.4 876.6h0M289.9 879.8h0M289.2 883.1h0M290.5 879.2h0M291.1 871.6h0M291.4 874.8h0M291.1 877.9h0M291.7 881.0h0M291.3 884.1h0M291.6 887.2h0M292.1 890.3h0M291.5 893.5h0M292.4 888.4h0M292.8 892.1h0M292.6 895.8h0M293.6 899.5h0M293.6 895.6h0M293.2 891.6h0M293.9 887.7h0M293.8 891.4h0M294.0 895.0h0M294.4 898.7h0M294.4 902.4h0M295.1 898.9h0M294.8 895.4h0M295.6 892.0h0M295.9 893.7h0M296.9 892.0h0M296.6 895.5h0M296.8 899.0h0M296.8 902.5h0M297.5 906.0h0M297.7 902.5h0M298.2 899.0h0M298.0 895.4h0M297.8 891.9h0M297.8 888.3h0M298.1 884.8h0M298.2 888.1h0M298.9 891.5h0M298.9 894.9h0M298.6 891.0h0M298.9 887.2h0M299.7 883.3h0M299.6 886.8h0M299.6 890.2h0M300.2 893.7h0M300.0 897.2h0M300.9 909.0h0M301.1 912.6h0M300.7 916.3h0M301.4 920.0h0M301.1 923.6h0M302.0 919.5h0M302.3 915.3h0M302.6 919.0h0M303.5 922.7h0M303.2 919.0h0M303.3 915.3h0M303.3 911.7h0M303.4 908.0h0M303.9 904.4h0M304.0 908.0h0M303.4 911.6h0M304.3 915.2h0M304.3 918.9h0M304.5 922.5h0M304.5 919.0h0M304.1 915.6h0M304.3 912.1h0M305.3 908.6h0M305.0 905.2h0M304.6 908.7h0M305.3 912.2h0M305.2 915.7h0M304.9 919.2h0M304.9 922.7h0M305.2 919.6h0M305.9 916.4h0M306.0 913.3h0M306.0 910.2h0M306.3 907.1h0M306.5 910.5h0M305.8 913.8h0M306.4 917.1h0M306.3 920.5h0M306.2 923.8h0M306.5 927.1h0M306.7 930.5h0M306.7 933.8h0M306.9 937.1h0M307.7 906.1h0M308.1 909.3h0M308.5 912.6h0M308.1 909.4h0M308.9 906.2h0M308.4 903.0h0M308.4 899.8h0M308.7 896.6h0M308.9 893.4h0M309.3 890.1h0M309.4 893.4h0M309.3 896.7h0M309.6 900.0h0M309.5 903.3h0M309.8 906.6h0M309.2 909.9h0M309.3 913.2h0M310.1 916.4h0M309.6 913.1h0M310.0 909.7h0M310.2 906.3h0M310.3 902.9h0M310.4 899.5h0M311.1 902.9h0M310.1 906.3h0M311.3 909.6h0M311.8 913.0h0M311.3 916.4h0M311.5 917.7h0M311.3 921.0h0M311.5 924.3h0M311.4 927.7h0M311.5 931.0h0M311.7 934.3h0M311.8 937.7h0M311.6 941.0h0M312.5 937.8h0M312.1 934.5h0M311.8 931.3h0M312.6 928.1h0M312.1 924.8h0M312.6 921.6h0M312.5 918.3h0M312.6 915.1h0M312.7 911.9h0M312.6 915.1h0M312.9 918.3h0M313.6 921.5h0M312.5 924.7h0M313.3 927.9h0M313.6 924.7h0M313.3 921.5h0M313.4 918.3h0M314.6 915.1h0M313.9 918.5h0M314.8 922.0h0M314.4 925.5h0M314.3 928.9h0M314.5 932.4h0M314.7 935.9h0M314.9 939.3h0M314.8 942.8h0M314.7 939.6h0M314.8 936.5h0M315.2 933.3h0M315.1 930.2h0M314.6 927.0h0M314.8 923.9h0M315.2 920.7h0M314.9 917.5h0M315.1 914.4h0M315.0 911.2h0M315.2 908.1h0M315.5 911.2h0M315.7 914.3h0M315.4 917.4h0M316.1 920.6h0M315.5 923.7h0M316.5 926.8h0M315.9 929.9h0M315.8 933.1h0M315.6 936.2h0M314.9 939.3h0M315.7 942.4h0M315.9 945.6h0M316.5 948.7h0M315.5 951.8h0M316.5 954.9h0M315.9 951.8h0M316.3 948.6h0M315.3 945.5h0M316.2 942.3h0M316.1 939.2h0M316.4 936.0h0M316.3 932.9h0M315.9 929.7h0M316.6 926.6h0M316.6 923.4h0M316.6 920.3h0M316.7 917.1h0M316.8 914.0h0M316.5 910.8h0M316.1 907.7h0M316.2 904.5h0M317.0 901.4h0M316.9 904.5h0M316.9 907.7h0M316.8 910.8h0M317.0 914.0h0M317.1 917.2h0M317.1 920.3h0M317.3 923.5h0M317.3 902.9h0M317.4 906.6h0M317.3 910.3h0M318.2 914.1h0M318.1 917.8h0M318.9 914.3h0M318.1 910.8h0M318.4 907.3h0M318.9 903.8h0M318.6 906.9h0M318.3 910.0h0M318.5 913.1h0M318.9 916.3h0M319.0 919.4h0M318.9 922.5h0M319.3 925.7h0M319.3 928.8h0M319.2 931.9h0M319.1 935.0h0M319.1 938.2h0M319.4 941.3h0M319.5 944.4h0M319.3 947.5h0M319.5 944.2h0M319.3 940.9h0M319.0 937.6h0M319.2 934.4h0M319.8 931.0h0M319.7 927.8h0M320.1 924.5h0M319.7 921.1h0M320.0 917.9h0M320.2 914.5h0M320.1 911.2h0M319.7 908.0h0M319.9 904.6h0M320.0 901.4h0M319.8 904.5h0M320.3 907.6h0M320.6 910.8h0M320.2 913.9h0M321.0 917.1h0M320.4 920.2h0M320.5 923.3h0M320.6 926.5h0M320.6 923.1h0M321.0 919.7h0M321.0 916.3h0M321.6 913.0h0M321.4 909.6h0M321.5 906.2h0M321.5 909.5h0M321.4 912.8h0M322.0 916.1h0M322.4 910.0h0M323.1 913.4h0M322.9 916.8h0M323.6 920.2h0M323.4 923.6h0M323.6 926.9h0M323.6 923.1h0M323.8 919.3h0M324.1 915.5h0M324.3 911.7h0M324.0 915.4h0M324.6 919.0h0M324.7 922.7h0M325.5 901.4h0M325.1 907.2h0M326.3 901.1h0M326.5 904.3h0M326.8 907.4h0M327.5 903.5h0M328.0 907.5h0M328.5 904.4h0M328.2 901.3h0M328.2 898.1h0M328.4 895.0h0M328.4 891.9h0M328.3 888.7h0M328.2 885.6h0M328.7 882.5h0M328.3 879.3h0M328.2 876.2h0M328.0 873.1h0M328.2 869.9h0M328.0 866.8h0M328.3 863.6h0M328.4 860.5h0M327.7 857.4h0M328.4 854.2h0M328.6 851.1h0M328.5 848.0h0M328.2 844.8h0M328.9 841.7h0M328.3 838.6h0M328.1 835.4h0M328.2 832.3h0M328.6 829.2h0M328.9 826.0h0M329.0 822.9h0M328.7 819.8h0M328.3 822.9h0M328.5 826.1h0M328.4 829.3h0M328.7 832.4h0M328.2 835.6h0M328.8 838.8h0M329.0 841.9h0M328.8 845.1h0M329.0 848.3h0M328.6 851.5h0M328.5 854.6h0M328.7 857.8h0M329.3 861.0h0M329.3 864.1h0M328.9 867.3h0M329.4 870.5h0M328.9 873.7h0M329.5 876.8h0M329.2 880.0h0M329.0 883.2h0M329.4 886.3h0M328.9 889.5h0M328.9 892.7h0M328.8 895.8h0M329.3 899.0h0M329.2 902.2h0M329.3 905.4h0M329.8 903.2h0M330.6 906.1h0M330.6 884.2h0M331.3 888.1h0M330.6 892.0h0M331.5 895.9h0M331.2 892.6h0M331.8 889.4h0M331.5 886.1h0M331.9 882.9h0M331.5 879.6h0M331.4 876.4h0M331.6 873.1h0M331.8 876.5h0M331.8 879.9h0M332.6 883.3h0M332.7 886.6h0M332.5 890.0h0M332.3 893.4h0M332.9 889.7h0M333.0 886.0h0M333.8 889.6h0M333.5 893.2h0M333.7 896.8h0M333.5 900.4h0M333.2 904.0h0M333.6 907.5h0M333.7 904.2h0M334.2 900.8h0M334.2 897.4h0M334.1 894.0h0M334.3 890.6h0M335.0 887.3h0M334.6 890.6h0M334.9 893.9h0M335.2 890.8h0M335.2 887.6h0M335.4 884.5h0M335.8 881.4h0M336.3 878.2h0M335.3 875.1h0M335.9 878.7h0M336.1 882.2h0M336.1 885.8h0M336.2 889.3h0M336.3 892.9h0M336.5 896.4h0M336.5 901.4h0M336.8 905.2h0M336.9 909.1h0M336.8 913.0h0M337.5 907.1h0M337.5 910.4h0M337.9 913.7h0M337.7 917.0h0M337.7 920.2h0M338.1 923.5h0M338.2 926.8h0M337.6 930.1h0M338.7 933.4h0M338.2 936.6h0M338.2 939.9h0M338.6 943.2h0M338.4 946.5h0M338.2 949.8h0M339.1 946.5h0M338.2 943.2h0M338.5 939.9h0M338.9 936.6h0M338.3 933.3h0M338.7 930.1h0M338.9 926.8h0M339.5 923.5h0M338.6 920.2h0M338.9 916.9h0M339.1 913.6h0M339.0 910.4h0M338.7 907.1h0M339.2 903.8h0M339.4 907.5h0M339.8 911.2h0M340.4 907.9h0M340.7 904.7h0M341.0 908.5h0M341.6 884.5h0M341.0 888.0h0M341.3 891.6h0M341.3 895.1h0M341.8 898.7h0M341.7 902.2h0M341.7 905.7h0M341.7 902.6h0M341.9 899.4h0M341.6 896.2h0M342.2 893.0h0M341.9 889.8h0M342.3 886.6h0M342.3 883.5h0M342.6 880.3h0M342.4 883.5h0M342.8 886.7h0M342.3 889.9h0M342.8 893.1h0M342.6 896.2h0M342.8 899.4h0M342.8 902.6h0M343.2 905.8h0M342.4 909.0h0M343.1 905.9h0M342.6 902.8h0M343.5 899.7h0M342.6 896.6h0M342.9 893.5h0M342.8 890.4h0M343.8 887.3h0M343.0 884.2h0M343.5 881.1h0M343.3 878.0h0M343.0 874.9h0M343.5 871.8h0M343.8 868.6h0M343.6 871.8h0M344.0 875.0h0M343.7 878.2h0M343.9 881.4h0M343.8 884.6h0M344.1 887.8h0M344.7 891.0h0M344.3 894.2h0M344.3 897.4h0M344.1 900.5h0M344.1 897.3h0M344.9 894.1h0M344.2 890.8h0M344.3 887.6h0M344.7 884.4h0M344.6 881.1h0M345.4 877.9h0M344.2 874.6h0M345.1 878.0h0M345.2 881.3h0M344.7 884.6h0M344.9 887.9h0M345.3 891.3h0M345.7 894.6h0M345.0 897.9h0M344.9 901.2h0M345.7 904.6h0M345.9 907.9h0M345.4 911.2h0M344.9 914.5h0M346.0 917.9h0M345.6 914.7h0M346.1 911.5h0M345.8 908.4h0M345.8 905.2h0M345.8 902.1h0M346.5 898.9h0M346.5 895.7h0M345.5 892.6h0M346.0 889.4h0M346.9 893.0h0M346.4 896.6h0M346.2 900.1h0M346.7 903.7h0M346.8 907.3h0M346.9 910.8h0M349.0 865.8h0M349.2 869.1h0M349.3 872.4h0M349.8 875.7h0M349.6 879.1h0M349.6 882.4h0M349.9 885.7h0M349.9 889.0h0M350.2 892.3h0M350.1 895.7h0M350.6 892.4h0M350.5 889.0h0M350.1 885.7h0M350.1 882.4h0M350.6 879.1h0M350.5 875.8h0M350.4 872.5h0M350.1 869.2h0M350.1 865.8h0M350.8 862.5h0M351.0 865.7h0M351.0 868.9h0M350.4 872.1h0M351.2 875.3h0M350.8 878.5h0M351.1 881.7h0M351.2 884.9h0M350.8 888.1h0M350.9 891.3h0M350.6 894.5h0M350.9 897.7h0M350.7 900.9h0M351.5 904.1h0M351.4 907.3h0M351.7 910.4h0M351.6 907.3h0M351.3 904.1h0M351.6 900.9h0M351.4 897.7h0M351.7 894.6h0M351.7 891.4h0M351.3 888.2h0M351.6 885.0h0M351.7 881.9h0M351.6 878.7h0M352.0 875.5h0M352.3 872.3h0M351.7 869.1h0M351.7 866.0h0M351.2 862.8h0M351.8 859.6h0M351.8 856.4h0M351.3 853.3h0M352.0 850.1h0M352.2 846.9h0M351.8 843.7h0M351.9 840.6h0M351.8 837.4h0M352.3 834.2h0M351.7 831.0h0M352.1 827.9h0M352.8 831.0h0M352.2 834.1h0M352.4 837.2h0M352.2 840.3h0M352.0 843.4h0M352.3 846.5h0M352.5 849.6h0M352.1 852.7h0M352.5 855.8h0M352.8 858.9h0M352.8 862.0h0M352.1 865.1h0M352.3 868.2h0M352.1 871.3h0M352.9 874.4h0M352.8 877.5h0M352.9 880.6h0M352.5 883.7h0M352.4 886.8h0M352.8 889.9h0M352.8 893.0h0M352.6 896.1h0M352.9 899.2h0M352.9 902.3h0M352.9 874.9h0M352.7 878.5h0M352.9 882.0h0M353.3 885.5h0M353.0 889.1h0M353.1 892.6h0M353.5 896.1h0M354.2 892.1h0M354.1 888.0h0M354.7 884.0h0M354.4 887.6h0M354.5 891.3h0M354.3 895.0h0M354.7 898.6h0M355.5 895.0h0M355.3 891.4h0M355.5 887.7h0M355.7 884.1h0M355.6 880.4h0M355.8 883.9h0M356.1 887.3h0M356.5 890.8h0M356.5 887.3h0M356.7 883.7h0M356.7 880.2h0M356.6 876.7h0M356.9 873.1h0M356.8 876.7h0M357.5 880.2h0M356.6 883.7h0M357.3 887.3h0M358.2 890.8h0M357.5 894.3h0M357.6 890.0h0M358.3 885.6h0M359.0 889.5h0M358.9 893.3h0M359.4 889.9h0M359.4 886.5h0M359.5 883.2h0M360.7 886.7h0M360.0 890.2h0M360.0 893.7h0M360.3 897.1h0M360.5 881.4h0M360.3 884.7h0M360.5 888.1h0M360.2 891.4h0M360.6 894.8h0M360.7 898.1h0M361.0 901.5h0M360.7 898.3h0M361.2 895.2h0M361.3 892.1h0M361.0 888.9h0M361.2 885.8h0M361.2 882.6h0M361.8 879.5h0M360.9 876.4h0M361.6 873.2h0M361.3 870.1h0M361.7 873.3h0M362.1 876.5h0M361.8 879.7h0M362.1 882.9h0M361.8 886.0h0M362.7 889.2h0M362.5 892.4h0M362.6 895.6h0M361.9 898.8h0M362.0 902.0h0M362.8 905.2h0M362.4 908.4h0M362.5 905.2h0M362.7 902.0h0M362.2 898.9h0M362.9 895.7h0M362.7 892.5h0M362.9 889.4h0M362.6 886.2h0M362.9 883.0h0M362.6 879.8h0M363.2 876.7h0M363.2 873.5h0M363.2 870.3h0M363.1 867.2h0M363.2 864.0h0M362.2 860.8h0M363.3 857.6h0M363.0 854.5h0M363.2 851.3h0M363.1 848.1h0M362.8 845.0h0M363.1 848.1h0M363.5 851.2h0M363.8 854.2h0M363.2 857.4h0M363.1 860.5h0M363.9 863.6h0M363.2 866.7h0M364.1 869.8h0M363.5 872.9h0M363.3 876.0h0M363.9 879.1h0M364.1 882.2h0M363.2 885.2h0M364.1 888.4h0M363.6 891.5h0M364.2 894.6h0M363.6 897.7h0M363.3 900.8h0M364.0 903.9h0M364.1 907.0h0M364.5 910.1h0M364.4 913.1h0M364.1 916.2h0M363.9 919.4h0M363.9 916.1h0M364.0 912.9h0M363.8 909.7h0M364.1 906.4h0M363.4 903.2h0M364.3 900.0h0M364.3 896.7h0M365.1 893.5h0M364.6 890.3h0M364.3 887.0h0M364.6 883.8h0M364.1 880.6h0M364.3 877.3h0M364.0 874.1h0M365.0 870.9h0M364.8 867.6h0M364.7 864.4h0M364.5 889.5h0M364.4 892.7h0M365.2 895.9h0M364.7 899.2h0M365.4 902.4h0M365.2 905.7h0M365.5 908.9h0M365.8 912.2h0M365.6 915.4h0M365.8 911.9h0M365.4 908.4h0M365.7 905.0h0M366.2 901.5h0M366.6 904.6h0M366.6 907.8h0M367.0 911.0h0M366.5 914.1h0M366.5 917.3h0M366.8 920.4h0M366.6 923.6h0M366.7 926.8h0M366.5 923.1h0M367.2 919.5h0M366.7 915.9h0M367.3 912.3h0M366.8 908.7h0M367.7 905.1h0M367.2 908.7h0M367.9 912.2h0M367.3 915.8h0M367.8 919.4h0M368.4 922.9h0M367.9 919.7h0M368.3 916.5h0M368.2 913.3h0M367.8 910.0h0M368.7 906.8h0M368.8 903.6h0M368.7 908.1h0M369.5 912.7h0M369.5 908.7h0M369.7 904.7h0M370.2 908.3h0M370.2 911.8h0M371.2 915.4h0M370.7 918.9h0M370.1 873.1h0M370.2 876.3h0M371.0 879.5h0M370.7 882.6h0M371.0 885.8h0M371.3 888.9h0M370.9 892.1h0M370.7 895.2h0M370.2 898.4h0M371.2 901.5h0M370.9 904.7h0M371.3 907.8h0M371.3 911.0h0M370.9 914.1h0M371.8 917.3h0M371.7 920.4h0M371.7 923.6h0M371.1 926.8h0M371.4 923.5h0M371.5 920.2h0M371.6 916.9h0M371.5 913.6h0M372.0 910.3h0M372.0 907.1h0M372.2 903.8h0M372.0 900.5h0M372.6 897.2h0M372.5 900.6h0M371.9 904.0h0M373.0 907.3h0M372.8 894.7h0M373.5 898.4h0M373.5 902.1h0M373.5 898.0h0M374.5 894.0h0M374.3 897.3h0M374.9 900.6h0M375.1 903.9h0M375.5 900.5h0M375.7 897.2h0M375.4 893.8h0M375.8 897.0h0M375.7 900.1h0M376.8 903.2h0M376.6 899.6h0M377.1 896.0h0M376.8 892.4h0M376.4 896.0h0M377.7 899.6h0M377.4 903.2h0M377.5 906.8h0M377.6 910.4h0M377.9 907.2h0M378.1 903.9h0M377.6 900.6h0M378.6 897.3h0M378.4 901.3h0M378.9 905.4h0M378.7 907.0h0M378.7 910.3h0M379.3 913.7h0M379.6 917.0h0M379.9 920.4h0M379.6 917.3h0M380.1 914.2h0M380.4 911.1h0M380.3 914.3h0M380.6 917.6h0M381.5 920.9h0M381.1 917.5h0M381.5 914.2h0M381.2 910.9h0M381.5 907.5h0M381.1 910.7h0M381.7 913.9h0M382.2 917.1h0M382.6 920.3h0M382.4 923.5h0M382.4 926.8h0M382.3 923.6h0M382.2 920.4h0M382.4 917.2h0M382.7 914.0h0M382.4 910.9h0M382.9 907.7h0M382.5 904.5h0M382.3 901.4h0M382.7 904.5h0M382.6 907.7h0M382.8 910.8h0M383.7 914.0h0M383.4 917.1h0M383.8 913.9h0M384.3 910.8h0M384.5 907.6h0M384.1 911.1h0M384.8 914.6h0M384.7 918.2h0M384.7 921.7h0M384.8 925.2h0M385.1 896.6h0M385.4 899.7h0M385.3 902.8h0M385.6 905.9h0M385.2 909.0h0M385.4 912.2h0M385.8 908.8h0M385.8 905.5h0M385.9 902.1h0M386.6 905.5h0M386.2 908.8h0M386.0 912.2h0M386.5 915.5h0M387.0 918.9h0M386.5 922.2h0M386.9 925.6h0M386.5 928.9h0M386.5 932.3h0M386.5 935.6h0M386.7 932.5h0M387.4 929.3h0M386.5 926.1h0M387.4 922.9h0M386.7 919.7h0M386.9 916.5h0M387.3 913.3h0M387.3 910.1h0M387.2 906.9h0M386.7 903.7h0M387.3 900.5h0M387.0 897.3h0M388.1 894.1h0M387.3 891.0h0M387.5 894.1h0M387.1 897.2h0M387.4 900.3h0M387.2 903.4h0M388.0 906.5h0M387.6 909.6h0M387.9 912.7h0M387.6 915.8h0M387.7 918.9h0M388.3 922.0h0M387.7 925.1h0M387.5 921.9h0M388.3 918.6h0M387.9 915.3h0M388.1 912.1h0M388.6 908.8h0M388.2 905.5h0M388.7 902.2h0M388.3 899.0h0M389.0 895.7h0M389.1 892.4h0M388.6 895.7h0M388.8 899.0h0M388.7 902.3h0M389.1 905.5h0M389.5 908.8h0M388.8 912.1h0M389.3 915.4h0M391.5 896.5h0M391.4 900.7h0M391.7 897.2h0M392.1 893.7h0M391.9 890.2h0M392.3 893.4h0M392.7 896.6h0M392.6 899.7h0M392.8 902.9h0M392.7 906.0h0M393.1 902.3h0M393.2 898.6h0M393.8 894.9h0M393.7 891.1h0M393.6 894.4h0M393.1 897.6h0M394.2 900.9h0M394.4 904.1h0M394.0 901.0h0M393.8 897.8h0M394.1 894.7h0M394.8 891.5h0M394.3 888.4h0M394.6 885.2h0M394.9 882.1h0M395.3 885.6h0M395.1 889.2h0M395.2 892.8h0M395.2 896.3h0M396.0 899.9h0M396.5 894.0h0M396.4 897.5h0M396.2 901.1h0M396.6 904.7h0M397.3 901.2h0M397.1 897.8h0M397.8 894.4h0M397.9 897.6h0M398.1 900.8h0M398.2 904.0h0M398.1 900.7h0M398.7 903.9h0M398.4 907.1h0M398.4 910.4h0M398.4 913.6h0M399.1 916.8h0M399.4 913.3h0M399.6 909.7h0M399.3 906.1h0M399.7 902.6h0M399.2 899.0h0M399.7 895.4h0M399.6 898.6h0M399.9 901.8h0M400.2 905.0h0M400.4 908.2h0M399.9 911.4h0M400.7 914.6h0M400.3 917.9h0M400.2 914.7h0M400.5 911.6h0M400.2 908.4h0M400.7 905.3h0M400.9 902.2h0M400.8 899.0h0M401.1 895.9h0M400.9 892.7h0M401.1 889.6h0M400.7 886.5h0M401.2 889.6h0M401.0 892.7h0M401.2 895.8h0M401.4 898.9h0M401.6 902.0h0M401.1 905.1h0M401.2 908.2h0M401.6 911.4h0M401.9 914.5h0M402.0 917.6h0M402.2 914.2h0M402.4 910.7h0M402.3 907.3h0M402.2 903.9h0M402.0 900.4h0M402.1 897.0h0M402.4 893.6h0M402.6 890.1h0M402.7 900.6h0M402.8 904.1h0M402.7 907.6h0M402.7 911.0h0M403.3 914.5h0M403.4 918.0h0M403.2 914.6h0M403.3 911.2h0M404.2 907.8h0M403.3 904.5h0M403.6 901.1h0M403.8 897.7h0M403.4 894.3h0M403.9 891.0h0M404.5 894.2h0M404.2 897.6h0M404.2 900.9h0M404.2 904.1h0M404.1 907.5h0M404.4 910.8h0M404.1 914.0h0M404.1 917.4h0M404.3 920.6h0M404.6 924.0h0M404.5 927.2h0M404.6 930.5h0M403.8 933.9h0M404.9 937.1h0M405.3 933.9h0M405.0 930.7h0M404.6 927.5h0M404.5 924.2h0M404.9 921.0h0M404.6 917.8h0M405.2 914.6h0M404.8 911.3h0M405.4 908.1h0M405.5 904.9h0M405.2 909.8h0M406.2 905.3h0M406.4 900.8h0M406.7 893.9h0M407.2 897.2h0M406.9 900.6h0M407.0 903.9h0M407.0 907.3h0M406.8 910.6h0M407.4 907.1h0M407.5 903.6h0M407.8 900.0h0M408.5 896.5h0M408.1 892.9h0M408.2 896.1h0M408.7 899.3h0M408.0 902.5h0M408.3 905.7h0M408.6 902.4h0M408.7 899.2h0M409.2 895.9h0M409.1 892.7h0M409.9 889.5h0M409.9 892.8h0M409.7 896.2h0M409.5 899.6h0M409.9 903.0h0M410.0 906.3h0M409.6 909.7h0M410.1 913.1h0M410.3 916.4h0M410.2 913.0h0M410.7 909.5h0M410.7 906.1h0M410.2 902.6h0M410.6 899.1h0M410.4 895.7h0M410.8 892.2h0M412.0 911.6h0M412.1 917.6h0M412.7 913.9h0M412.6 910.2h0M412.8 906.5h0M413.3 902.8h0M413.0 906.2h0M413.5 909.7h0M412.7 913.2h0M413.6 916.7h0M413.4 920.2h0M413.5 916.7h0M413.8 913.3h0M414.0 909.8h0M414.6 906.4h0M413.6 909.6h0M414.2 912.9h0M414.1 916.1h0M414.7 919.4h0M414.3 922.6h0M414.6 925.9h0M414.5 929.1h0M414.8 932.4h0M415.0 935.6h0M414.7 932.5h0M414.9 929.4h0M414.5 926.2h0M415.1 923.1h0M415.3 920.0h0M415.0 916.8h0M415.6 913.7h0M414.7 910.6h0M414.8 907.4h0M415.2 911.4h0M415.6 915.3h0M416.0 919.2h0M415.6 876.1h0M416.8 879.6h0M415.5 883.1h0M416.3 886.7h0M416.9 890.2h0M416.8 893.8h0M416.5 897.3h0M416.9 894.1h0M417.2 890.9h0M417.5 887.7h0M417.0 884.5h0M417.6 881.3h0M417.5 878.1h0M417.9 881.5h0M418.1 885.0h0M417.7 888.4h0M417.5 891.8h0M418.2 895.2h0M418.7 898.6h0M418.5 895.4h0M418.5 892.1h0M419.3 888.8h0M418.4 885.6h0M419.1 882.3h0M418.8 879.0h0M419.2 882.9h0M419.4 886.9h0M420.1 890.8h0M419.6 887.4h0M419.9 884.1h0M419.7 880.7h0M420.4 877.4h0M420.3 894.5h0M420.1 898.0h0M421.0 901.4h0M421.0 904.8h0M421.4 908.3h0M420.6 904.9h0M420.8 901.5h0M420.8 898.1h0M421.3 894.8h0M422.0 891.4h0M422.0 894.8h0M421.9 898.2h0M422.1 901.7h0M422.4 905.1h0M422.2 908.5h0M422.5 911.9h0M422.5 908.7h0M421.9 905.5h0M422.6 902.3h0M423.2 899.1h0M422.8 895.9h0M422.9 892.7h0M422.9 889.5h0M423.1 892.9h0M423.7 896.3h0M423.4 899.8h0M423.3 903.2h0M422.8 906.6h0M423.9 902.7h0M423.8 898.9h0M424.5 902.5h0M425.6 898.6h0M425.9 894.7h0M425.5 898.7h0M426.4 902.8h0M427.6 884.9h0M428.6 886.3h0M428.6 883.2h0M429.2 880.0h0M428.9 876.9h0M428.9 873.8h0M429.2 877.0h0M429.4 880.2h0M429.2 883.4h0M429.7 886.6h0M430.2 889.8h0M429.6 893.0h0M429.8 896.2h0M430.3 899.4h0M429.9 896.0h0M429.9 892.7h0M430.0 889.3h0M430.6 885.9h0M430.7 882.6h0M430.7 885.9h0M430.9 889.3h0M431.4 892.7h0M431.4 896.1h0M430.8 899.4h0M431.3 896.1h0M431.4 892.8h0M431.7 889.4h0M431.4 886.1h0M431.4 882.8h0M431.5 879.4h0M431.2 876.1h0M431.7 872.8h0M431.6 869.4h0M432.0 866.1h0M431.6 862.8h0M431.9 866.0h0M431.8 869.3h0M431.9 872.5h0M432.5 875.8h0M432.2 879.0h0M432.6 882.3h0M432.2 885.5h0M432.6 888.8h0M432.3 885.1h0M432.9 881.5h0M433.1 877.8h0M433.5 881.2h0M433.5 884.6h0M433.5 888.0h0M433.9 891.4h0M433.8 894.8h0M434.0 898.2h0M434.2 901.5h0M434.0 898.4h0M434.0 895.2h0M434.2 892.1h0M434.1 888.9h0M434.4 885.7h0M434.7 882.6h0M434.7 879.4h0M434.4 876.2h0M434.2 873.1h0M434.6 869.9h0M434.7 873.1h0M435.1 876.3h0M434.8 879.4h0M434.9 882.6h0M435.3 885.8h0M435.0 889.0h0M435.3 892.1h0M435.4 886.5h0M435.1 889.7h0M435.6 892.9h0M435.5 896.1h0M435.6 899.3h0M435.4 902.5h0M435.6 905.7h0M435.6 909.0h0M435.8 912.2h0M436.2 915.4h0M436.0 918.6h0M435.4 921.8h0M435.7 925.0h0M435.5 928.2h0M435.8 925.0h0M436.3 921.7h0M436.3 918.5h0M436.1 915.2h0M436.5 911.9h0M436.2 908.7h0M436.1 905.4h0M436.2 902.2h0M436.4 898.9h0M437.2 895.6h0M436.5 899.3h0M437.5 902.9h0M437.7 906.5h0M437.4 910.1h0M437.6 906.7h0M437.6 903.2h0M437.9 899.8h0M438.2 896.3h0M438.2 892.9h0M437.9 890.2h0M438.5 893.4h0M438.7 896.5h0M438.6 899.7h0M439.6 896.6h0M438.9 893.5h0M439.0 890.4h0M439.6 887.3h0M439.2 890.9h0M439.9 894.6h0M439.9 891.4h0M440.3 888.2h0M440.7 885.0h0M441.2 889.2h0M441.7 893.5h0M442.0 890.4h0M442.4 887.3h0M442.4 890.5h0M442.2 893.7h0M442.9 896.9h0M442.7 900.0h0M442.7 882.1h0M443.0 885.5h0M443.1 888.9h0M442.6 892.2h0M443.0 895.6h0M442.8 898.9h0M443.3 902.3h0M443.1 905.7h0M443.8 909.0h0M443.7 905.9h0M443.4 902.7h0M443.7 899.5h0M443.4 896.4h0M443.9 893.2h0M444.1 890.0h0M444.1 886.9h0M443.5 883.7h0M444.1 880.6h0M444.4 883.9h0M444.4 887.2h0M444.7 890.5h0M444.0 893.8h0M444.6 897.1h0M444.3 900.4h0M444.6 903.7h0M444.7 907.0h0M444.9 910.2h0M444.5 913.6h0M444.8 916.9h0M444.5 920.1h0M444.5 923.5h0M445.1 926.8h0M445.0 923.4h0M444.6 920.1h0M444.9 916.8h0M445.2 913.5h0M445.8 910.2h0M445.7 906.9h0M445.7 903.5h0M445.0 900.2h0M445.6 896.9h0M445.7 893.6h0M445.4 889.8h0M446.4 893.2h0M445.8 896.7h0M446.4 900.2h0M446.8 903.6h0M446.1 907.1h0M446.6 903.5h0M446.6 899.9h0M447.0 896.2h0M447.1 892.6h0M447.7 895.9h0M447.4 899.1h0M447.3 902.4h0M447.7 905.6h0M447.3 908.9h0M447.4 912.1h0M448.3 915.4h0M447.4 918.6h0M447.6 915.5h0M447.8 912.3h0M447.5 909.2h0M447.3 906.0h0M448.3 902.8h0M447.8 899.7h0M447.9 896.5h0M448.0 893.3h0M447.9 890.2h0M447.9 887.0h0M448.4 883.8h0M449.1 887.0h0M448.7 890.2h0M448.8 893.3h0M448.1 896.5h0M448.7 899.7h0M448.4 902.8h0M449.0 906.0h0M448.8 909.2h0M448.9 912.3h0M449.0 915.5h0M448.9 912.2h0M448.7 908.9h0M449.3 905.6h0M448.8 902.3h0M448.9 899.1h0M449.3 895.8h0M449.2 892.5h0M449.6 889.2h0M449.8 885.9h0M449.7 882.6h0M449.7 879.4h0M449.7 882.7h0M450.0 886.1h0M449.3 889.4h0M450.0 892.8h0M449.7 896.2h0M449.7 899.5h0M450.1 902.9h0M450.1 906.3h0M450.4 909.6h0M450.7 913.0h0M449.7 909.7h0M450.4 906.3h0M451.1 902.9h0M450.9 899.6h0M451.1 896.2h0M450.8 892.9h0M450.4 889.5h0M450.6 886.1h0M451.0 882.8h0M450.9 887.4h0M451.6 890.9h0M451.0 894.5h0M451.1 898.0h0M450.8 901.6h0M451.8 905.1h0M451.5 908.7h0M452.7 904.6h0M452.4 900.6h0M452.5 904.3h0M452.1 908.1h0M453.3 911.8h0M452.9 915.5h0M453.1 911.9h0M452.7 908.4h0M453.8 904.8h0M453.9 901.2h0M454.1 904.3h0M455.0 901.8h0M455.2 905.1h0M455.5 908.4h0M455.4 911.7h0M456.0 915.0h0M455.6 918.4h0M455.6 914.9h0M455.7 911.5h0M455.1 908.1h0M455.7 904.7h0M456.4 901.3h0M456.2 897.9h0M456.0 894.5h0M456.4 891.1h0M455.8 894.6h0M456.4 898.0h0M456.7 901.4h0M456.9 904.9h0M456.5 908.3h0M457.1 911.8h0M457.5 915.2h0M457.0 918.6h0M456.5 892.5h0M457.5 895.7h0M457.4 899.0h0M457.6 902.3h0M457.6 905.6h0M458.3 908.9h0M457.9 905.1h0M458.2 901.3h0M457.8 897.5h0M458.3 900.8h0M458.4 904.1h0M458.8 907.4h0M459.1 910.6h0M458.9 906.9h0M459.8 903.2h0M459.1 899.5h0M459.4 895.8h0M459.7 892.1h0M459.6 896.3h0M460.5 900.5h0M460.7 897.1h0M460.7 893.8h0M461.6 890.5h0M461.1 893.8h0M461.3 897.0h0M461.1 900.3h0M461.0 903.6h0M461.5 906.9h0M461.7 903.6h0M461.7 900.4h0M462.2 897.1h0M461.4 893.9h0M461.9 890.6h0M461.8 887.4h0M462.9 890.6h0M462.4 893.9h0M462.6 897.2h0M462.5 900.5h0M463.3 903.7h0M463.1 900.5h0M463.5 897.2h0M463.0 894.0h0M464.2 897.4h0M464.1 900.8h0M464.3 904.2h0M464.7 907.6h0M464.4 904.4h0M464.6 901.3h0M465.0 898.2h0M465.0 895.0h0M464.5 888.4h0M465.6 892.2h0M465.5 896.1h0M465.1 899.9h0M465.9 903.8h0M465.7 899.3h0M465.9 894.7h0M466.9 899.2h0M467.1 895.8h0M467.1 892.4h0M467.5 889.0h0M467.5 892.2h0M467.9 895.4h0M468.0 898.7h0M468.3 901.9h0M468.1 905.1h0M467.9 908.4h0M468.1 904.9h0M468.5 901.4h0M469.2 897.9h0M469.1 894.4h0M468.8 890.9h0M469.4 894.5h0M468.9 898.0h0M469.7 901.6h0M469.4 905.1h0M469.9 908.6h0M470.0 905.3h0M469.8 902.0h0M470.2 898.6h0M469.9 895.3h0M470.3 892.0h0M471.0 896.5h0M472.2 900.9h0M471.9 894.9h0M471.8 898.3h0M471.7 901.7h0M472.5 905.1h0M471.8 908.5h0M472.2 905.3h0M472.7 902.1h0M472.4 898.9h0M473.3 895.6h0M473.0 892.4h0M473.1 891.6h0M473.2 895.2h0M473.2 898.9h0M473.6 902.6h0M473.2 906.2h0M473.8 902.8h0M474.4 899.5h0M474.5 896.1h0M474.0 892.7h0M474.2 889.4h0M474.9 892.8h0M475.2 896.2h0M474.4 899.6h0M474.9 903.0h0M475.4 899.6h0M476.0 896.2h0M475.6 899.3h0M476.2 902.4h0M476.1 905.5h0M477.0 908.6h0M476.6 905.2h0M476.5 901.8h0M476.6 898.4h0M477.2 894.9h0M477.2 891.5h0M476.8 894.8h0M477.3 898.1h0M477.0 901.4h0M477.3 904.8h0M477.3 908.1h0M477.4 904.6h0M477.7 901.2h0M477.8 897.8h0M478.3 894.4h0M478.6 890.9h0M478.4 894.1h0M478.2 897.2h0M479.0 900.4h0M478.2 903.5h0M479.0 906.6h0M478.9 889.4h0M478.7 892.7h0M479.0 896.0h0M479.4 899.4h0M479.1 902.7h0M479.2 906.1h0M479.0 909.4h0M479.2 912.7h0M479.8 916.1h0M479.8 919.4h0M479.4 922.8h0M479.5 919.5h0M479.8 916.3h0M480.2 913.0h0M479.8 909.8h0M480.2 906.6h0M479.7 903.3h0M480.0 900.1h0M480.6 896.9h0M480.8 900.0h0M480.3 903.2h0M480.5 906.3h0M481.0 909.5h0M480.7 912.7h0M480.7 915.8h0M481.1 919.0h0M481.1 922.2h0M481.4 925.3h0M481.4 928.5h0M481.1 931.6h0M481.3 928.5h0M481.4 925.4h0M481.1 922.3h0M481.3 919.2h0M481.9 916.1h0M481.3 913.0h0M482.1 909.9h0M482.0 906.7h0M482.0 903.6h0M482.1 894.5h0M482.9 897.9h0M481.9 901.2h0M483.0 904.6h0M483.5 899.6h0M483.9 901.0h0M484.7 898.5h0M485.3 901.8h0M485.8 897.8h0M486.4 893.7h0M486.0 898.3h0M487.2 902.9h0M487.0 899.7h0M487.7 896.5h0M487.7 893.4h0M488.1 897.1h0M488.2 900.9h0M488.5 904.6h0M488.5 901.5h0M488.4 898.4h0M489.1 895.2h0M489.4 898.9h0M490.0 902.6h0M489.0 906.3h0M489.7 903.1h0M490.3 899.8h0M489.7 896.6h0M490.2 893.4h0M491.1 896.7h0M491.1 900.0h0M490.6 903.3h0M491.0 906.6h0M492.1 879.4h0M491.8 882.7h0M492.0 886.0h0M492.4 889.3h0M492.3 892.6h0M492.9 896.0h0M492.3 899.3h0M491.7 902.6h0M492.4 905.9h0M492.7 909.3h0M492.8 912.6h0M492.8 909.5h0M492.6 906.3h0M493.4 903.2h0M492.8 900.1h0M493.3 897.0h0M493.1 893.9h0M492.9 890.7h0M493.7 887.6h0M492.7 891.0h0M493.3 894.4h0M493.8 897.8h0M493.7 901.2h0M494.1 904.6h0M494.0 908.0h0M494.1 904.8h0M495.1 901.5h0M494.6 898.3h0M494.7 901.5h0M494.5 904.6h0M494.7 907.8h0M495.2 910.9h0M495.2 914.1h0M495.1 917.2h0M495.0 920.4h0M495.5 923.5h0M494.8 926.6h0M495.3 923.3h0M495.4 919.9h0M495.4 916.5h0M495.8 913.2h0M495.6 909.8h0M495.7 906.4h0M496.0 903.1h0M496.4 899.5h0M496.8 902.8h0M496.1 906.1h0M496.4 909.4h0M496.4 912.7h0M495.4 916.0h0M496.1 919.3h0M496.7 922.6h0M496.9 919.5h0M496.6 916.3h0M497.2 913.2h0M497.3 910.0h0M496.9 906.9h0M497.5 903.7h0M497.7 900.5h0M497.4 897.4h0M497.0 894.2h0M497.9 897.7h0M497.6 901.1h0M497.7 904.6h0M498.0 908.0h0M498.1 904.3h0M498.8 900.6h0M498.9 896.9h0M499.1 900.2h0M499.0 903.5h0M498.7 906.7h0M499.0 910.0h0M499.4 913.3h0M499.1 916.6h0M500.2 919.9h0M499.3 916.5h0M499.3 913.2h0M499.9 909.9h0M499.9 906.6h0M499.7 903.3h0M499.8 900.0h0M500.0 896.7h0M500.0 893.4h0M499.7 881.4h0M499.8 884.7h0M500.1 888.0h0M500.2 891.3h0M500.5 894.6h0M500.5 897.9h0M500.4 901.3h0M500.5 904.6h0M501.0 907.9h0M500.4 911.2h0M500.7 914.5h0M501.2 917.9h0M500.9 914.6h0M500.3 911.3h0M501.1 908.0h0M500.9 904.7h0M501.1 901.4h0M501.5 898.2h0M501.4 894.9h0M501.3 891.6h0M501.7 888.3h0M501.6 891.4h0M501.6 894.5h0M501.7 897.6h0M501.8 900.7h0M501.7 903.8h0M501.7 906.9h0M501.9 910.0h0M501.7 913.1h0M501.7 916.2h0M502.5 919.3h0M502.2 915.9h0M502.3 912.5h0M502.3 909.2h0M502.5 905.8h0M502.5 902.4h0M502.6 899.0h0M502.5 895.6h0M503.1 892.2h0M502.6 888.9h0M503.2 892.0h0M502.4 895.1h0M502.8 898.2h0M503.5 901.3h0M503.2 904.4h0M503.1 907.5h0M503.5 910.6h0M503.2 913.7h0M503.6 916.8h0M503.0 913.5h0M503.6 910.2h0M503.6 906.9h0M504.0 903.5h0M504.2 900.2h0M503.7 896.9h0M504.6 893.6h0M504.0 890.3h0M503.6 886.9h0M503.6 883.6h0M504.8 886.8h0M504.3 890.0h0M504.2 893.2h0M504.2 896.4h0M504.2 899.6h0M505.0 902.7h0M504.6 905.9h0M505.2 909.1h0M504.6 912.3h0M504.0 915.5h0M505.0 918.7h0M504.7 921.9h0M504.8 925.1h0M505.4 928.3h0M504.9 931.5h0M505.0 934.6h0M504.9 891.7h0M505.4 895.1h0M505.3 898.5h0M505.7 901.9h0M505.4 905.3h0M505.9 901.7h0M506.2 898.2h0M506.1 894.6h0M506.4 898.1h0M506.5 901.6h0M507.1 905.1h0M506.8 908.6h0M507.4 905.1h0M507.9 901.6h0M507.8 898.1h0M507.9 900.9h0M509.0 897.4h0M510.0 900.4h0M509.7 897.1h0M510.3 893.9h0M510.4 890.7h0M510.5 887.5h0M510.4 890.8h0M510.4 894.1h0M510.5 897.4h0M510.7 900.7h0M511.0 904.0h0M511.0 907.3h0M510.9 910.6h0M511.1 907.4h0M511.3 904.1h0M510.8 900.8h0M511.2 897.5h0M511.3 894.2h0M511.6 890.9h0M511.8 894.7h0M512.0 898.5h0M512.1 902.3h0M512.7 898.6h0M512.8 894.8h0M512.3 891.1h0M513.0 887.4h0M512.9 884.8h0M513.3 888.6h0M514.1 892.4h0M514.1 888.3h0M514.6 884.3h0M514.9 888.3h0M514.5 892.2h0M515.5 896.2h0M515.3 892.9h0M515.5 889.7h0M515.0 886.5h0M515.6 883.3h0M515.5 880.0h0M515.3 876.8h0M516.3 873.6h0M515.8 870.4h0M515.7 873.5h0M515.9 876.6h0M516.2 879.8h0M516.3 882.9h0M516.2 886.1h0M516.5 889.2h0M516.6 892.4h0M515.9 895.5h0M516.2 898.6h0M516.2 895.4h0M516.6 892.2h0M517.2 889.0h0M517.1 885.7h0M517.0 882.5h0M516.8 888.4h0M517.2 892.0h0M517.2 895.5h0M517.3 899.0h0M517.9 902.6h0M517.9 906.1h0M517.4 909.6h0M517.5 913.2h0M518.3 910.0h0M517.7 906.9h0M518.3 903.7h0M518.4 900.6h0M517.9 897.4h0M518.0 894.3h0M518.2 891.2h0M518.0 888.0h0M518.0 884.9h0M518.4 888.1h0M518.9 891.4h0M518.6 894.6h0M518.8 897.8h0M518.9 901.1h0M519.3 899.8h0M520.2 902.9h0M519.2 906.1h0M519.8 909.2h0M520.3 912.4h0M519.8 915.5h0M520.5 918.6h0M520.8 915.4h0M520.2 912.2h0M520.6 909.0h0M520.2 905.8h0M520.8 902.6h0M520.7 899.4h0M520.8 896.2h0M521.2 893.0h0M521.0 889.8h0M521.3 886.6h0M521.2 883.4h0M520.7 886.8h0M521.3 890.2h0M521.4 893.6h0M521.0 897.0h0M521.9 900.4h0M521.6 903.8h0M521.8 907.2h0M521.6 904.0h0M522.1 900.7h0M522.4 897.4h0M522.5 901.1h0M522.8 904.8h0M522.4 908.5h0M523.5 905.2h0M522.9 901.8h0M522.6 898.4h0M523.1 895.1h0M523.2 891.7h0M523.7 888.3h0M523.4 885.0h0M523.9 888.5h0M523.6 892.0h0M524.6 895.4h0M524.2 898.9h0M524.7 902.4h0M523.9 905.9h0M524.5 909.4h0M524.1 906.1h0M524.7 902.8h0M524.8 899.5h0M524.2 896.2h0M524.5 892.9h0M524.6 889.7h0M525.0 886.4h0M525.3 890.3h0M525.4 894.0h0M525.4 897.6h0M526.3 901.3h0M526.4 897.9h0M526.0 894.6h0M526.3 891.2h0M526.9 894.4h0M526.5 897.6h0M527.1 900.7h0M527.2 897.3h0M527.1 893.8h0M527.4 890.4h0M527.2 886.9h0M527.8 891.1h0M527.7 895.2h0M529.7 889.3h0M529.6 892.4h0M529.7 895.5h0M529.6 898.6h0M530.0 901.7h0M530.2 897.8h0M530.3 894.0h0M530.4 890.2h0M530.1 886.4h0M530.6 889.5h0M530.4 892.6h0M530.4 895.7h0M530.5 898.8h0M531.1 901.9h0M531.5 898.7h0M531.0 895.4h0M532.2 892.1h0M532.3 895.6h0M532.0 899.1h0M532.2 902.6h0M532.5 898.8h0M533.1 895.0h0M533.0 891.2h0M533.2 883.4h0M533.2 886.8h0M533.0 890.3h0M533.3 893.7h0M533.4 897.2h0M533.9 900.6h0M534.2 904.0h0M534.1 899.5h0M534.1 894.9h0M534.2 898.2h0M534.5 901.5h0M535.1 904.8h0M534.9 908.1h0M534.9 911.4h0M534.8 914.7h0M535.3 911.4h0M535.2 908.1h0M535.2 904.8h0M535.3 901.6h0M535.8 898.3h0M535.3 895.0h0M535.9 891.7h0M535.8 888.5h0M535.5 885.2h0M535.8 881.9h0M535.6 878.6h0M535.4 875.4h0M535.6 878.6h0M535.5 881.8h0M535.9 885.0h0M535.8 888.2h0M536.0 891.4h0M536.2 894.6h0M535.0 897.8h0M536.1 901.0h0M535.5 904.2h0M536.1 907.4h0M535.9 910.6h0M536.2 913.8h0M536.6 917.0h0M535.7 920.2h0M536.3 923.4h0M536.3 926.6h0M535.8 923.6h0M536.6 920.5h0M536.5 917.4h0M536.4 914.3h0M536.4 911.2h0M537.6 908.1h0M536.6 905.0h0M536.2 901.9h0M536.5 898.8h0M536.7 895.7h0M536.8 892.6h0M536.9 889.5h0M536.7 886.4h0M537.2 889.6h0M537.0 892.9h0M536.8 896.2h0M537.0 899.5h0M537.2 902.8h0M537.7 906.0h0M537.6 909.3h0M537.4 912.6h0M537.6 915.9h0M537.7 919.2h0M538.4 916.0h0M537.6 912.8h0M538.0 909.6h0M538.2 906.4h0M537.8 903.2h0M538.2 900.0h0M538.2 896.8h0M538.1 893.6h0M538.5 890.4h0M538.7 893.6h0M538.8 896.7h0M538.5 899.9h0M538.7 903.1h0M539.4 906.2h0M538.4 909.4h0M538.9 912.6h0M539.2 915.8h0M539.0 918.9h0M538.7 892.5h0M540.1 896.1h0M539.7 892.5h0M540.1 888.9h0M540.9 885.4h0M540.2 889.2h0M540.9 893.0h0M540.9 896.8h0M541.0 900.6h0M540.9 897.4h0M541.5 894.3h0M541.4 891.1h0M542.0 887.9h0M542.2 891.3h0M541.6 894.7h0M542.0 898.1h0M542.2 901.5h0M542.1 897.9h0M542.3 894.2h0M542.9 890.6h0M542.9 887.0h0M542.7 890.5h0M543.3 893.9h0M543.8 897.4h0M544.0 895.5h0M544.3 898.8h0M545.3 902.1h0M545.4 905.4h0M544.6 902.2h0M544.8 899.0h0M545.4 895.9h0M545.1 892.7h0M545.5 889.6h0M545.5 886.4h0M546.0 890.1h0M545.2 893.8h0M545.4 897.4h0M545.8 901.1h0M546.6 904.8h0M546.4 901.7h0M546.0 898.6h0M546.8 895.4h0M547.0 892.3h0M546.8 889.2h0M546.9 886.1h0M547.2 889.5h0M547.6 892.9h0M547.4 896.4h0M547.6 899.8h0M547.5 903.2h0M547.6 906.6h0M547.5 903.1h0M548.0 899.6h0M548.0 896.0h0M548.1 892.5h0M548.6 889.0h0M548.6 892.5h0M548.9 896.0h0M548.3 899.5h0M549.0 903.1h0M549.0 906.6h0M548.7 883.1h0M549.1 886.3h0M549.1 889.5h0M549.9 892.7h0M549.1 895.9h0M549.1 899.1h0M549.7 895.6h0M549.9 892.0h0M550.1 888.5h0M550.4 884.9h0M551.0 881.4h0M550.3 885.0h0M550.4 888.6h0M550.1 892.2h0M550.9 895.8h0M551.1 899.4h0M550.9 903.0h0M551.6 899.3h0M551.5 895.6h0M552.1 891.8h0M552.0 895.8h0M551.8 899.7h0M552.1 903.6h0M552.0 900.4h0M552.1 897.2h0M552.8 894.0h0M553.1 890.8h0M553.0 887.5h0M552.4 878.4h0M553.4 881.6h0M553.3 884.9h0M553.3 888.1h0M553.4 891.4h0M554.2 894.6h0M554.3 890.8h0M554.5 887.0h0M553.8 883.2h0M554.1 879.4h0M554.8 883.5h0M554.4 887.6h0M554.8 891.8h0M554.8 888.0h0M556.2 884.3h0M556.7 887.1h0M556.8 882.9h0M557.1 878.6h0M557.1 882.1h0M557.3 885.6h0M557.9 889.1h0M557.8 885.1h0M558.7 881.1h0M559.0 886.9h0" stroke="#ff1010" stroke-width="2.1" stroke-linecap="round" fill="none"/><path d="M155.6 1114.1h0M157.2 1118.8h0M157.3 1114.6h0M158.7 1119.0h0M158.6 1113.2h0M158.8 1116.5h0M159.7 1119.9h0M159.9 1123.2h0M160.2 1118.6h0M160.5 1114.0h0M160.0 1096.8h0M160.2 1100.2h0M159.6 1103.6h0M160.0 1107.0h0M160.4 1110.4h0M160.5 1107.0h0M160.9 1103.6h0M160.4 1100.3h0M161.3 1096.9h0M161.4 1093.5h0M161.3 1096.8h0M161.0 1100.0h0M161.5 1103.2h0M161.5 1106.5h0M161.9 1109.7h0M161.8 1112.9h0M162.2 1116.2h0M161.9 1113.0h0M162.6 1109.8h0M161.6 1106.6h0M162.1 1103.4h0M162.7 1100.2h0M162.2 1097.0h0M163.1 1100.8h0M162.8 1104.7h0M163.4 1108.5h0M163.3 1105.2h0M163.6 1101.9h0M163.9 1098.6h0M164.0 1095.3h0M164.1 1098.7h0M165.0 1102.1h0M164.4 1105.5h0M164.3 1108.9h0M164.9 1112.3h0M165.0 1115.7h0M165.3 1112.4h0M165.6 1109.1h0M164.9 1105.8h0M165.6 1102.5h0M165.7 1099.2h0M165.5 1095.9h0M165.3 1105.1h0M165.8 1108.5h0M166.1 1111.8h0M166.7 1115.2h0M165.8 1112.0h0M166.5 1108.8h0M166.9 1105.6h0M166.4 1102.4h0M166.9 1099.1h0M167.6 1102.8h0M167.6 1106.5h0M167.5 1110.2h0M166.7 1113.9h0M167.6 1117.6h0M167.9 1114.2h0M168.0 1110.8h0M168.3 1107.5h0M169.9 1110.6h0M169.3 1106.0h0M169.7 1101.4h0M169.9 1100.6h0M169.9 1103.8h0M169.5 1107.0h0M169.9 1110.2h0M170.2 1113.3h0M170.0 1116.5h0M170.6 1119.7h0M170.5 1122.9h0M170.1 1126.1h0M170.6 1122.8h0M171.2 1119.5h0M171.1 1116.2h0M170.7 1112.9h0M171.1 1109.5h0M170.7 1106.2h0M170.5 1103.0h0M171.2 1099.6h0M171.2 1096.3h0M171.3 1099.5h0M171.2 1102.7h0M171.4 1105.8h0M171.3 1109.0h0M171.6 1112.2h0M171.8 1115.3h0M171.6 1118.5h0M172.0 1121.7h0M171.3 1124.8h0M171.7 1121.2h0M172.6 1117.6h0M172.9 1113.9h0M172.6 1110.3h0M173.2 1115.0h0M173.5 1090.0h0M174.2 1093.5h0M174.3 1096.9h0M174.4 1100.3h0M174.0 1103.7h0M174.6 1107.1h0M174.2 1110.6h0M175.1 1107.2h0M174.8 1103.9h0M174.6 1100.6h0M175.4 1097.2h0M175.4 1093.9h0M175.0 1090.6h0M176.0 1087.2h0M175.1 1090.7h0M175.6 1094.2h0M176.0 1097.6h0M175.1 1101.1h0M176.2 1104.5h0M176.0 1108.0h0M176.2 1104.2h0M176.0 1100.4h0M176.6 1096.7h0M176.7 1092.9h0M176.5 1108.8h0M177.0 1112.2h0M177.4 1115.7h0M177.8 1112.4h0M177.9 1109.1h0M177.7 1105.8h0M177.8 1102.5h0M178.1 1099.1h0M178.5 1102.4h0M178.5 1105.6h0M178.3 1108.9h0M177.9 1112.1h0M179.3 1115.3h0M179.1 1118.6h0M179.1 1114.5h0M179.4 1110.4h0M179.3 1106.3h0M179.4 1109.5h0M179.8 1112.6h0M180.0 1115.8h0M180.0 1119.0h0M179.9 1115.7h0M180.5 1112.5h0M180.9 1109.2h0M180.9 1106.0h0M180.7 1102.0h0M181.2 1105.5h0M181.0 1109.0h0M181.4 1112.6h0M181.3 1116.1h0M181.0 1119.6h0M181.6 1123.2h0M181.6 1119.8h0M182.0 1116.5h0M181.8 1113.1h0M182.0 1109.8h0M182.5 1106.5h0M182.7 1103.1h0M182.8 1106.4h0M183.1 1109.6h0M183.2 1112.8h0M183.6 1109.4h0M184.0 1106.0h0M184.0 1109.3h0M184.1 1112.6h0M184.3 1115.8h0M185.2 1119.1h0M184.8 1115.1h0M185.1 1111.1h0M185.8 1116.9h0M186.1 1113.1h0M186.3 1109.4h0M186.1 1105.7h0M186.6 1101.9h0M186.4 1095.6h0M186.4 1098.8h0M186.7 1101.9h0M187.1 1105.1h0M186.7 1108.3h0M187.5 1104.8h0M187.6 1101.4h0M188.0 1097.9h0M187.9 1094.5h0M188.3 1097.8h0M188.2 1101.2h0M188.6 1104.6h0M188.5 1100.2h0M189.4 1095.9h0M190.0 1099.2h0M189.8 1102.6h0M190.0 1106.0h0M189.8 1109.3h0M190.7 1105.6h0M190.2 1101.8h0M190.9 1098.0h0M190.8 1094.2h0M190.7 1097.5h0M191.4 1100.8h0M191.2 1104.0h0M191.4 1107.3h0M191.6 1110.6h0M191.7 1106.7h0M191.9 1102.9h0M192.2 1099.1h0M192.2 1105.0h0M192.2 1109.8h0M193.3 1106.3h0M193.8 1109.4h0M193.6 1112.6h0M194.0 1108.6h0M194.8 1104.6h0M195.0 1100.7h0M195.1 1103.9h0M195.1 1107.1h0M196.2 1110.3h0M195.7 1113.5h0M195.8 1109.0h0M196.9 1104.5h0M196.8 1108.4h0M196.8 1112.3h0M197.5 1116.2h0M197.4 1112.1h0M197.8 1108.0h0M197.9 1104.0h0M197.8 1107.8h0M198.8 1111.7h0M198.7 1108.5h0M198.5 1105.4h0M198.8 1102.3h0M199.2 1099.1h0M199.5 1084.4h0M199.8 1087.6h0M199.6 1090.9h0M199.9 1094.1h0M200.2 1097.4h0M199.8 1100.7h0M200.7 1097.0h0M200.9 1093.3h0M200.9 1089.7h0M201.5 1093.7h0M201.6 1097.8h0M201.3 1094.4h0M202.0 1091.0h0M202.0 1087.6h0M202.2 1084.3h0M202.5 1088.6h0M203.2 1092.9h0M203.6 1090.5h0M204.0 1096.0h0M204.5 1092.8h0M204.8 1089.5h0M204.5 1086.3h0M204.9 1083.0h0M205.2 1076.6h0M205.5 1080.6h0M205.3 1084.7h0M205.8 1088.7h0M205.9 1085.2h0M206.0 1081.6h0M206.2 1078.0h0M206.3 1081.1h0M206.5 1084.3h0M206.3 1087.4h0M207.0 1090.5h0M207.0 1093.7h0M207.1 1090.2h0M207.3 1086.8h0M207.5 1083.4h0M207.2 1080.0h0M207.5 1076.6h0M207.1 1073.2h0M207.0 1069.8h0M207.3 1073.1h0M208.4 1076.4h0M207.6 1079.7h0M208.4 1083.0h0M208.8 1086.3h0M208.4 1082.8h0M209.2 1079.3h0M209.4 1075.8h0M209.2 1072.3h0M209.8 1068.8h0M209.5 1072.1h0M209.2 1075.5h0M209.8 1078.8h0M209.7 1082.2h0M209.6 1078.8h0M209.7 1075.5h0M210.9 1072.1h0M210.2 1068.8h0M210.5 1065.4h0M210.6 1068.5h0M211.5 1072.6h0M211.5 1076.8h0M211.9 1073.6h0M211.7 1070.4h0M211.7 1067.2h0M211.5 1064.0h0M212.3 1067.3h0M212.0 1070.5h0M213.2 1066.5h0M214.1 1071.0h0M214.1 1075.5h0M214.6 1071.8h0M214.4 1068.1h0M214.3 1064.4h0M214.8 1067.9h0M215.1 1071.4h0M215.8 1074.9h0M216.3 1070.8h0M216.1 1066.8h0M215.8 1064.5h0M216.7 1067.6h0M217.0 1064.0h0M217.3 1060.4h0M217.4 1063.8h0M217.4 1067.2h0M218.7 1070.6h0M218.5 1067.3h0M218.8 1064.0h0M219.5 1060.7h0M219.1 1064.2h0M219.5 1067.7h0M219.6 1071.1h0M220.1 1067.9h0M220.1 1064.7h0M220.2 1061.5h0M220.2 1058.3h0M220.6 1061.6h0M221.0 1064.8h0M220.2 1068.0h0M221.0 1071.2h0M221.1 1068.0h0M221.4 1064.7h0M221.1 1061.5h0M222.1 1065.3h0M221.8 1069.1h0M222.2 1072.9h0M222.3 1076.8h0M222.0 1073.1h0M222.6 1069.4h0M222.3 1065.8h0M222.7 1062.1h0M223.0 1058.4h0M223.2 1061.9h0M223.4 1065.3h0M223.5 1068.7h0M224.3 1072.1h0M223.9 1075.5h0M223.8 1071.3h0M224.5 1067.2h0M225.0 1020.5h0M224.6 1023.6h0M224.5 1026.7h0M224.6 1029.8h0M224.6 1032.9h0M225.1 1036.0h0M224.9 1039.0h0M225.2 1042.2h0M223.9 1045.2h0M225.0 1048.4h0M225.3 1051.5h0M225.6 1054.5h0M225.0 1057.7h0M224.6 1060.8h0M225.3 1063.9h0M225.0 1067.0h0M224.8 1063.2h0M225.3 1059.4h0M226.0 1055.7h0M226.2 1051.9h0M226.3 1055.8h0M226.0 1059.7h0M227.2 1063.6h0M226.4 1060.3h0M226.9 1057.0h0M226.7 1053.7h0M227.8 1058.8h0M228.1 1068.2h0M227.9 1071.5h0M228.3 1074.8h0M228.6 1078.0h0M229.3 1073.8h0M229.3 1069.5h0M229.5 1073.4h0M229.5 1077.2h0M229.5 1081.1h0M230.1 1076.7h0M230.6 1072.4h0M231.2 1076.3h0M232.0 1071.9h0M232.6 1075.1h0M232.8 1078.3h0M233.4 1073.0h0M233.8 1085.1h0M233.1 1088.6h0M233.9 1092.0h0M233.8 1095.4h0M234.2 1098.8h0M234.0 1102.2h0M233.8 1105.6h0M234.6 1102.4h0M234.5 1099.1h0M234.6 1095.8h0M234.7 1092.6h0M235.1 1089.3h0M235.3 1092.9h0M235.3 1096.5h0M234.9 1100.1h0M235.4 1103.7h0M235.8 1099.9h0M236.5 1096.0h0M236.2 1092.2h0M236.3 1088.3h0M236.8 1091.9h0M236.5 1095.5h0M236.7 1099.1h0M236.9 1102.7h0M236.6 1106.4h0M237.4 1103.1h0M237.4 1099.9h0M237.3 1096.7h0M237.2 1093.5h0M237.7 1090.3h0M237.1 1105.8h0M238.3 1109.8h0M238.9 1104.8h0M239.4 1108.4h0M239.7 1112.0h0M240.6 1108.1h0M241.2 1113.4h0M241.4 1109.8h0M241.9 1106.3h0M242.1 1101.9h0M241.0 1105.5h0M241.9 1109.0h0M242.2 1112.5h0M242.4 1116.1h0M242.0 1119.6h0M243.0 1123.2h0M242.9 1119.6h0M242.9 1116.0h0M243.4 1112.4h0M243.6 1117.0h0M243.8 1121.5h0M244.3 1117.8h0M244.2 1114.1h0M244.1 1110.4h0M244.5 1106.7h0M244.9 1110.4h0M244.7 1114.2h0M245.6 1117.9h0M245.1 1121.7h0M246.1 1118.5h0M245.9 1115.3h0M245.5 1112.2h0M245.9 1109.0h0M246.4 1105.8h0M246.1 1102.6h0M246.1 1088.7h0M246.8 1093.7h0M246.8 1090.5h0M247.0 1087.4h0M247.6 1084.3h0M247.6 1081.2h0M247.2 1078.0h0M248.2 1081.7h0M247.5 1085.4h0M248.2 1089.1h0M248.3 1092.7h0M249.3 1090.1h0M249.7 1091.9h0M250.3 1090.6h0M250.4 1102.1h0M250.3 1105.5h0M250.7 1109.0h0M250.2 1112.4h0M250.4 1115.9h0M251.1 1119.3h0M250.6 1122.7h0M251.7 1119.0h0M251.4 1115.4h0M251.8 1111.7h0M252.0 1115.5h0M252.3 1119.3h0M252.3 1123.2h0M252.4 1119.6h0M252.6 1116.1h0M253.1 1112.5h0M253.2 1109.0h0M253.4 1105.5h0M253.2 1101.9h0M253.3 1105.8h0M253.1 1109.7h0M254.0 1113.6h0M254.8 1107.8h0M254.8 1111.8h0M255.5 1115.9h0M255.8 1112.0h0M255.7 1108.1h0M255.9 1104.2h0M255.4 1113.2h0M256.5 1116.2h0M257.3 1110.4h0M257.3 1085.3h0M258.0 1089.1h0M258.3 1093.0h0M258.2 1089.9h0M258.3 1086.8h0M258.3 1083.7h0M258.4 1080.6h0M258.9 1077.5h0M257.7 1074.4h0M258.5 1071.3h0M258.7 1068.2h0M259.0 1065.1h0M258.4 1061.9h0M258.9 1065.3h0M259.2 1068.6h0M258.9 1072.0h0M258.5 1075.3h0M259.0 1078.6h0M258.9 1082.0h0M259.5 1085.3h0M259.1 1088.7h0M260.0 1092.0h0M259.9 1088.7h0M259.9 1085.4h0M260.4 1089.5h0M260.6 1093.7h0M261.4 1089.9h0M261.6 1086.1h0M261.2 1092.5h0M262.1 1096.0h0M262.2 1099.5h0M261.4 1102.9h0M261.7 1106.4h0M261.9 1109.9h0M262.6 1113.4h0M262.4 1110.1h0M262.6 1106.9h0M263.1 1103.7h0M263.1 1100.4h0M263.8 1104.8h0M263.8 1101.3h0M264.4 1097.8h0M264.0 1094.3h0M264.9 1090.8h0M264.4 1093.9h0M264.4 1097.1h0M264.9 1100.3h0M265.0 1103.4h0M264.3 1106.6h0M265.1 1109.8h0M264.7 1112.9h0M265.0 1109.3h0M265.6 1105.6h0M265.3 1102.0h0M265.8 1098.3h0M265.8 1094.6h0M265.9 1102.7h0M266.0 1106.0h0M266.4 1109.2h0M266.3 1112.5h0M266.4 1115.7h0M266.6 1119.0h0M266.6 1115.2h0M266.9 1111.5h0M267.2 1107.8h0M267.3 1104.1h0M267.1 1100.4h0M266.9 1104.3h0M267.3 1108.1h0M267.8 1111.9h0M267.2 1115.8h0M267.9 1112.2h0M268.3 1108.6h0M268.2 1105.0h0M268.1 1101.4h0M269.1 1097.8h0M269.2 1101.1h0M268.9 1104.4h0M269.5 1107.7h0M269.7 1111.0h0M269.2 1107.2h0M270.6 1103.4h0M270.0 1099.6h0M270.3 1101.9h0M270.2 1105.1h0M270.2 1108.2h0M270.9 1111.3h0M270.3 1114.4h0M271.0 1117.6h0M270.9 1114.4h0M271.2 1111.2h0M271.4 1108.0h0M272.2 1114.1h0M272.4 1110.0h0M272.6 1105.9h0M273.0 1109.5h0M273.6 1113.2h0M273.8 1108.5h0M274.2 1103.9h0M274.0 1088.8h0M274.3 1092.0h0M273.9 1095.2h0M273.5 1098.5h0M274.4 1101.7h0M274.0 1104.9h0M274.3 1108.1h0M274.3 1111.3h0M274.9 1114.6h0M274.4 1117.8h0M274.9 1121.0h0M274.7 1124.2h0M274.5 1127.5h0M274.5 1124.2h0M275.2 1121.0h0M275.3 1117.8h0M275.5 1114.6h0M276.0 1111.3h0M275.6 1108.1h0M275.7 1104.9h0M276.3 1107.7h0M276.5 1104.4h0M276.4 1101.1h0M276.4 1097.8h0M277.4 1094.5h0M276.3 1091.2h0M277.1 1087.9h0M277.2 1091.1h0M277.2 1094.3h0M276.9 1097.5h0M277.2 1100.7h0M277.2 1103.9h0M277.1 1107.1h0M277.4 1110.3h0M277.4 1113.4h0M277.4 1116.6h0M277.8 1119.8h0M277.4 1123.0h0M277.9 1119.8h0M277.7 1116.6h0M278.1 1113.4h0M278.1 1110.2h0M278.3 1107.0h0M278.0 1103.8h0M278.4 1100.6h0M277.7 1110.4h0M278.9 1113.2h0M279.3 1109.2h0M279.4 1105.1h0M279.6 1108.5h0M280.7 1111.9h0M281.0 1108.3h0M281.1 1112.9h0M282.7 1117.6h0M282.2 1114.3h0M282.3 1111.1h0M282.9 1107.9h0M283.2 1112.1h0M284.2 1107.7h0M284.1 1103.3h0M283.6 1110.8h0M284.0 1114.1h0M284.4 1117.3h0M284.6 1120.5h0M284.9 1123.8h0M284.8 1127.0h0M285.5 1130.2h0M284.7 1127.1h0M285.0 1123.9h0M285.3 1120.7h0M285.0 1117.5h0M285.1 1114.4h0M285.2 1111.2h0M285.2 1108.0h0M285.2 1104.8h0M285.5 1108.1h0M285.4 1111.3h0M286.1 1114.5h0M285.7 1117.7h0M287.5 1116.5h0M287.7 1120.6h0M287.6 1124.8h0M287.8 1098.9h0M287.5 1102.2h0M288.3 1105.4h0M287.9 1108.6h0M288.3 1111.8h0M288.0 1108.6h0M288.6 1105.5h0M289.1 1102.3h0M289.0 1105.6h0M289.1 1108.9h0M289.6 1112.3h0M289.5 1115.6h0M290.1 1119.0h0M289.0 1115.8h0M289.9 1112.6h0M290.0 1109.4h0M289.4 1106.2h0M289.5 1103.0h0M290.2 1099.8h0M289.7 1096.6h0M289.9 1093.4h0M290.3 1090.2h0M290.1 1087.0h0M290.3 1083.8h0M290.0 1080.6h0M290.4 1077.4h0M290.7 1074.2h0M290.5 1071.0h0M289.8 1074.4h0M290.7 1077.7h0M290.6 1081.0h0M290.3 1084.4h0M291.1 1087.7h0M290.2 1091.0h0M291.4 1094.4h0M290.7 1097.7h0M291.4 1101.0h0M291.0 1104.4h0M290.6 1107.7h0M291.1 1111.0h0M291.3 1103.5h0M291.6 1107.4h0M291.3 1111.4h0M291.4 1115.3h0M292.5 1111.5h0M292.0 1107.6h0M293.2 1113.3h0M293.3 1109.6h0M293.4 1106.0h0M294.1 1109.6h0M294.2 1113.2h0M294.8 1116.8h0M295.3 1120.4h0M294.7 1116.8h0M295.2 1113.3h0M295.4 1109.7h0M295.1 1106.2h0M295.4 1110.7h0M296.5 1115.3h0M296.1 1112.1h0M296.4 1108.9h0M296.6 1105.7h0M297.0 1110.1h0M297.2 1114.6h0M297.8 1110.8h0M298.1 1106.9h0M297.8 1103.0h0M298.1 1099.1h0M297.8 1103.3h0M298.4 1106.6h0M297.5 1109.8h0M298.1 1113.0h0M298.8 1116.2h0M298.6 1119.4h0M298.0 1122.6h0M298.0 1125.8h0M298.8 1129.0h0M298.6 1132.2h0M298.5 1135.4h0M298.9 1138.7h0M298.7 1135.2h0M298.4 1131.7h0M299.3 1128.3h0M298.9 1124.8h0M298.9 1121.3h0M298.9 1117.9h0M299.5 1114.4h0M299.5 1118.6h0M300.3 1122.9h0M300.7 1120.6h0M301.3 1124.3h0M301.1 1128.0h0M301.2 1131.7h0M301.1 1128.0h0M301.6 1124.2h0M302.3 1120.5h0M302.8 1124.1h0M302.8 1126.4h0M302.5 1129.7h0M303.2 1133.1h0M303.8 1136.4h0M304.2 1132.9h0M303.9 1129.4h0M304.1 1125.8h0M304.5 1129.2h0M304.9 1132.6h0M304.9 1136.0h0M304.7 1139.4h0M305.2 1135.6h0M305.6 1131.9h0M305.4 1128.2h0M305.5 1132.8h0M306.4 1137.4h0M306.7 1134.0h0M307.0 1130.7h0M307.3 1115.1h0M306.7 1118.6h0M307.2 1122.1h0M307.2 1125.6h0M307.9 1129.1h0M307.7 1132.6h0M307.6 1136.1h0M308.0 1132.9h0M307.9 1129.7h0M307.8 1126.4h0M308.5 1123.2h0M308.4 1120.0h0M308.7 1116.8h0M308.7 1113.6h0M308.6 1110.3h0M308.6 1113.8h0M308.4 1117.3h0M309.0 1120.8h0M309.0 1124.4h0M309.3 1127.9h0M309.3 1124.3h0M309.2 1120.8h0M309.3 1117.2h0M309.9 1113.7h0M310.2 1110.2h0M309.9 1113.3h0M310.2 1116.5h0M310.6 1119.7h0M310.0 1122.8h0M310.2 1126.0h0M310.1 1129.2h0M310.9 1132.4h0M310.7 1128.8h0M310.6 1125.3h0M310.4 1121.8h0M310.9 1118.2h0M311.4 1114.7h0M311.1 1111.2h0M311.1 1107.6h0M311.5 1110.9h0M311.1 1114.2h0M311.5 1117.5h0M311.8 1120.8h0M311.4 1124.1h0M311.5 1127.4h0M311.9 1130.7h0M311.9 1134.0h0M311.9 1137.2h0M312.2 1134.0h0M312.3 1130.8h0M312.1 1127.6h0M312.3 1124.4h0M312.7 1121.2h0M312.9 1129.6h0M312.8 1132.7h0M313.1 1135.9h0M313.4 1139.1h0M313.8 1142.2h0M313.1 1145.4h0M313.7 1142.1h0M313.6 1138.9h0M313.7 1135.7h0M314.3 1132.4h0M314.3 1129.2h0M313.9 1132.8h0M314.3 1136.4h0M314.6 1140.0h0M314.2 1143.6h0M315.0 1147.2h0M314.9 1144.0h0M315.0 1140.8h0M315.2 1137.6h0M315.7 1134.4h0M315.2 1131.2h0M315.2 1128.0h0M315.9 1124.8h0M315.3 1121.6h0M315.5 1125.5h0M315.4 1129.3h0M316.3 1133.2h0M316.2 1137.0h0M316.2 1120.9h0M317.4 1125.3h0M316.8 1121.8h0M317.0 1118.2h0M317.0 1114.7h0M317.9 1111.2h0M317.2 1107.6h0M317.9 1110.8h0M318.2 1113.8h0M317.8 1116.9h0M318.1 1120.0h0M317.3 1123.2h0M317.9 1126.2h0M317.6 1129.3h0M318.2 1132.5h0M318.2 1135.6h0M318.1 1138.7h0M318.7 1135.2h0M318.7 1131.7h0M318.6 1128.3h0M318.7 1124.8h0M318.6 1121.4h0M319.3 1125.6h0M320.3 1129.9h0M319.6 1126.4h0M320.1 1122.9h0M319.9 1119.4h0M320.5 1115.9h0M320.5 1112.4h0M320.4 1115.6h0M320.0 1118.9h0M320.5 1122.1h0M321.1 1125.3h0M320.8 1128.5h0M321.1 1131.7h0M320.9 1134.9h0M321.1 1138.1h0M321.2 1113.1h0M321.0 1116.7h0M321.4 1120.2h0M321.4 1123.8h0M320.9 1127.3h0M321.6 1130.9h0M321.6 1134.5h0M321.6 1131.2h0M322.1 1128.0h0M321.9 1124.8h0M322.3 1121.6h0M322.5 1118.4h0M322.3 1115.2h0M321.9 1112.0h0M322.2 1108.8h0M322.8 1105.6h0M322.6 1109.3h0M322.7 1113.0h0M323.2 1116.6h0M323.5 1113.5h0M323.5 1110.3h0M323.7 1107.2h0M323.4 1104.0h0M323.7 1100.9h0M323.8 1097.8h0M324.0 1100.9h0M323.4 1104.0h0M324.1 1107.1h0M323.8 1110.2h0M324.7 1113.3h0M324.8 1116.4h0M324.9 1119.5h0M324.8 1122.6h0M324.6 1125.7h0M324.6 1089.5h0M326.0 1092.6h0M326.8 1088.4h0M326.3 1091.5h0M326.7 1088.2h0M326.5 1085.0h0M326.8 1081.8h0M326.7 1078.5h0M326.9 1075.3h0M327.3 1072.1h0M327.3 1068.8h0M327.1 1065.6h0M327.1 1062.4h0M327.2 1059.1h0M327.2 1055.9h0M327.4 1052.7h0M327.3 1049.4h0M327.5 1046.2h0M327.0 1042.9h0M327.7 1046.1h0M328.0 1049.2h0M327.6 1052.4h0M327.1 1055.5h0M328.0 1058.7h0M327.5 1061.8h0M326.8 1065.0h0M327.7 1068.1h0M327.9 1071.3h0M327.9 1074.4h0M328.2 1077.6h0M328.1 1080.7h0M328.0 1083.9h0M327.4 1087.0h0M327.7 1090.2h0M328.1 1093.3h0M328.3 1096.5h0M328.0 1093.0h0M328.4 1089.5h0M328.9 1086.0h0M328.5 1089.4h0M328.7 1092.8h0M329.4 1096.1h0M330.2 1090.3h0M330.0 1083.4h0M330.8 1086.8h0M331.3 1090.2h0M331.4 1086.5h0M332.0 1082.8h0M331.6 1086.1h0M332.2 1089.4h0M332.1 1092.7h0M331.9 1096.0h0M332.3 1099.2h0M332.4 1095.7h0M332.5 1092.1h0M332.9 1088.6h0M333.4 1085.0h0M333.2 1089.1h0M333.6 1093.1h0M333.3 1097.1h0M333.9 1094.0h0M334.3 1090.9h0M334.3 1087.7h0M334.3 1084.6h0M334.1 1081.5h0M334.1 1078.4h0M334.4 1075.2h0M334.2 1078.8h0M334.3 1082.4h0M335.1 1085.9h0M334.7 1089.5h0M335.6 1093.0h0M334.7 1096.6h0M335.5 1092.8h0M335.2 1089.0h0M335.8 1085.2h0M335.6 1081.5h0M336.1 1085.6h0M336.3 1089.7h0M336.6 1093.8h0M337.2 1096.3h0M336.7 1100.1h0M337.8 1097.5h0M338.2 1102.1h0M339.3 1097.0h0M340.0 1099.6h0M341.9 1099.2h0M341.0 1102.6h0M341.5 1106.0h0M341.5 1109.5h0M341.1 1112.9h0M341.4 1116.3h0M341.9 1119.7h0M341.5 1123.2h0M341.2 1064.9h0M341.5 1068.3h0M341.6 1071.6h0M341.7 1075.0h0M342.0 1078.3h0M341.9 1081.7h0M342.0 1085.0h0M341.6 1088.4h0M341.8 1091.7h0M342.3 1095.1h0M341.8 1091.8h0M342.4 1088.6h0M342.2 1085.3h0M342.2 1082.1h0M342.7 1078.8h0M342.4 1075.6h0M342.4 1072.4h0M342.6 1069.1h0M342.8 1065.9h0M343.7 1062.6h0M342.4 1065.9h0M343.1 1069.1h0M343.1 1072.3h0M343.5 1075.5h0M343.2 1078.8h0M342.7 1082.0h0M343.9 1085.2h0M343.3 1088.4h0M343.8 1085.0h0M343.7 1081.7h0M344.0 1078.3h0M344.8 1080.7h0M345.4 1076.8h0M345.6 1073.0h0M345.3 1069.1h0M345.8 1065.2h0M345.7 1068.8h0M345.9 1072.3h0M346.0 1075.8h0M346.3 1079.3h0M346.0 1082.9h0M346.3 1086.4h0M346.4 1089.9h0M347.8 1030.9h0M349.1 1034.1h0M348.5 1037.2h0M348.2 1040.3h0M348.7 1043.5h0M349.4 1046.6h0M348.9 1049.7h0M348.4 1052.9h0M348.7 1056.0h0M349.3 1059.1h0M348.5 1062.2h0M348.9 1065.4h0M348.9 1068.5h0M349.7 1071.6h0M349.0 1074.8h0M349.5 1077.9h0M348.9 1081.0h0M349.0 1084.1h0M349.6 1080.9h0M349.6 1077.7h0M349.0 1074.5h0M349.8 1071.3h0M350.0 1068.0h0M349.7 1064.8h0M350.1 1067.9h0M350.2 1071.1h0M350.0 1074.2h0M350.1 1077.3h0M350.2 1080.4h0M350.4 1083.5h0M350.2 1086.7h0M350.7 1083.3h0M350.3 1080.0h0M350.8 1076.7h0M350.9 1073.4h0M350.7 1070.1h0M351.3 1066.8h0M351.7 1063.4h0M351.6 1060.1h0M350.9 1056.8h0M351.9 1059.9h0M351.8 1063.0h0M352.0 1066.1h0M351.9 1063.0h0M352.2 1059.9h0M352.8 1056.8h0M352.6 1053.7h0M352.4 1050.6h0M352.5 1047.5h0M352.6 1050.6h0M353.0 1053.8h0M353.5 1057.0h0M352.7 1060.2h0M353.1 1063.4h0M353.0 1066.6h0M353.0 1069.7h0M353.4 1072.9h0M353.6 1076.1h0M353.1 1073.0h0M353.4 1069.9h0M354.3 1066.8h0M354.1 1063.7h0M353.8 1058.3h0M354.6 1062.2h0M354.7 1066.0h0M354.4 1069.9h0M354.8 1073.7h0M355.0 1070.6h0M355.3 1067.4h0M355.5 1064.2h0M355.1 1061.0h0M355.5 1065.6h0M356.5 1070.2h0M357.0 1067.1h0M357.4 1070.4h0M357.7 1073.7h0M358.3 1070.0h0M357.6 1066.3h0M358.5 1062.6h0M358.1 1058.8h0M358.7 1062.4h0M359.0 1066.0h0M358.4 1069.6h0M359.0 1073.2h0M359.0 1076.8h0M359.1 1073.5h0M359.4 1070.3h0M359.2 1067.1h0M359.4 1063.9h0M360.0 1060.7h0M360.3 1064.7h0M360.1 1068.7h0M360.5 1072.7h0M360.2 1064.4h0M361.7 1069.1h0M361.4 1066.0h0M361.7 1062.9h0M361.4 1059.8h0M361.6 1056.7h0M361.9 1060.4h0M362.4 1064.1h0M362.5 1067.8h0M362.6 1064.3h0M362.9 1060.7h0M363.0 1057.2h0M363.5 1053.6h0M363.1 1050.1h0M363.0 1046.6h0M363.3 1049.8h0M363.8 1052.9h0M363.3 1056.1h0M363.5 1059.3h0M363.5 1062.5h0M363.7 1065.7h0M363.7 1068.9h0M363.5 1072.1h0M363.7 1075.3h0M364.1 1078.5h0M364.2 1081.7h0M364.2 1084.9h0M364.2 1088.1h0M364.0 1084.9h0M364.1 1081.8h0M364.5 1078.7h0M364.0 1075.6h0M364.4 1072.5h0M364.0 1069.4h0M364.5 1066.3h0M364.5 1063.2h0M364.6 1066.9h0M365.3 1070.6h0M365.2 1074.3h0M365.3 1071.1h0M365.4 1067.9h0M365.3 1064.7h0M366.0 1061.5h0M365.5 1058.3h0M365.8 1055.1h0M365.4 1051.9h0M365.7 1048.7h0M365.8 1045.5h0M365.9 1042.3h0M365.9 1039.1h0M366.1 1035.8h0M366.6 1077.3h0M366.5 1080.8h0M366.8 1084.3h0M366.6 1087.8h0M367.1 1083.2h0M367.6 1078.6h0M367.9 1082.5h0M367.9 1086.4h0M368.1 1083.1h0M368.6 1079.7h0M368.7 1076.4h0M368.1 1073.0h0M368.9 1069.6h0M369.4 1072.9h0M368.9 1076.1h0M369.3 1079.3h0M368.9 1082.6h0M369.6 1085.8h0M369.2 1089.0h0M369.2 1092.2h0M369.6 1089.1h0M370.5 1085.9h0M369.8 1082.7h0M369.7 1079.6h0M370.3 1076.4h0M370.3 1073.2h0M370.4 1057.3h0M370.8 1060.6h0M370.2 1063.9h0M370.6 1067.2h0M371.0 1070.5h0M371.6 1066.8h0M371.8 1063.1h0M371.9 1066.6h0M372.1 1070.1h0M372.8 1066.3h0M373.0 1062.5h0M373.7 1058.7h0M373.0 1054.8h0M373.7 1058.0h0M372.9 1061.1h0M373.2 1064.2h0M373.3 1067.4h0M373.5 1070.5h0M373.4 1073.6h0M373.6 1076.8h0M373.9 1073.4h0M373.9 1070.1h0M374.3 1066.7h0M374.2 1063.4h0M374.4 1060.0h0M374.5 1056.7h0M374.8 1067.2h0M374.5 1070.5h0M374.4 1073.8h0M374.9 1077.1h0M375.2 1080.3h0M375.8 1076.3h0M375.8 1072.2h0M376.0 1076.2h0M376.7 1080.2h0M376.3 1084.1h0M377.0 1080.7h0M377.1 1077.2h0M376.5 1073.8h0M377.1 1070.3h0M377.0 1066.8h0M377.1 1070.3h0M377.0 1073.8h0M377.3 1077.3h0M378.0 1080.8h0M378.1 1076.9h0M378.6 1073.0h0M378.4 1076.8h0M378.8 1080.5h0M379.0 1084.3h0M378.8 1088.1h0M379.0 1084.4h0M379.8 1080.8h0M380.0 1077.2h0M379.9 1080.8h0M380.3 1084.4h0M380.6 1088.0h0M380.0 1066.8h0M380.9 1070.3h0M381.1 1073.8h0M381.3 1077.3h0M381.3 1080.7h0M381.1 1084.2h0M381.0 1087.7h0M381.2 1091.1h0M381.4 1087.8h0M381.6 1084.5h0M381.5 1081.2h0M381.7 1077.9h0M382.1 1074.6h0M382.0 1071.3h0M382.7 1068.0h0M382.7 1071.3h0M381.8 1074.6h0M382.1 1077.9h0M381.9 1081.2h0M382.1 1084.6h0M382.6 1087.9h0M382.3 1091.2h0M382.3 1094.5h0M382.6 1097.9h0M383.0 1094.5h0M382.8 1091.2h0M382.9 1087.8h0M383.3 1084.5h0M383.3 1081.2h0M383.3 1077.8h0M383.6 1074.5h0M383.1 1071.2h0M383.5 1067.8h0M383.3 1070.9h0M383.9 1074.0h0M383.9 1077.1h0M383.4 1080.2h0M384.2 1083.3h0M383.6 1086.4h0M384.3 1089.5h0M384.1 1092.6h0M383.9 1095.7h0M383.9 1092.5h0M384.2 1089.3h0M384.4 1086.1h0M384.2 1082.9h0M384.7 1079.7h0M384.2 1076.5h0M384.7 1073.3h0M384.8 1070.1h0M384.3 1066.9h0M385.1 1070.3h0M384.8 1073.7h0M384.5 1077.1h0M385.2 1080.5h0M385.5 1083.9h0M386.0 1080.0h0M385.8 1076.2h0M386.5 1072.3h0M386.7 1068.5h0M386.7 1071.6h0M386.8 1074.7h0M386.6 1077.8h0M386.5 1080.9h0M386.9 1084.0h0M387.1 1087.2h0M387.0 1090.3h0M386.9 1093.4h0M386.7 1090.0h0M387.5 1086.7h0M387.5 1083.3h0M387.2 1079.9h0M387.7 1076.6h0M388.0 1065.4h0M388.3 1069.2h0M387.6 1072.9h0M388.4 1076.6h0M389.0 1073.2h0M389.5 1069.8h0M389.8 1072.9h0M389.2 1076.1h0M389.5 1079.3h0M389.5 1082.5h0M390.4 1078.1h0M390.1 1073.7h0M391.5 1074.6h0M392.2 1070.6h0M392.3 1074.3h0M391.7 1078.0h0M392.4 1081.8h0M393.0 1078.0h0M392.5 1074.2h0M393.0 1070.5h0M393.3 1066.7h0M393.2 1063.3h0M393.7 1066.9h0M393.0 1070.4h0M393.9 1073.9h0M393.6 1077.5h0M394.1 1081.0h0M393.9 1084.5h0M394.2 1088.1h0M394.6 1084.6h0M394.1 1081.1h0M394.4 1077.6h0M394.4 1074.1h0M394.6 1070.6h0M394.2 1067.1h0M394.8 1070.8h0M395.0 1074.6h0M395.0 1078.3h0M395.3 1082.0h0M395.1 1078.2h0M396.2 1074.3h0M396.0 1070.5h0M396.6 1066.6h0M396.0 1069.8h0M396.1 1072.9h0M396.7 1076.0h0M396.3 1079.2h0M397.6 1074.2h0M397.5 1077.9h0M397.9 1081.5h0M398.3 1085.2h0M398.3 1081.7h0M399.0 1078.2h0M398.7 1074.7h0M398.3 1071.2h0M399.1 1067.6h0M398.9 1064.1h0M398.7 1075.4h0M399.0 1078.6h0M399.3 1081.9h0M400.0 1085.1h0M399.5 1081.2h0M399.7 1077.3h0M400.5 1073.5h0M400.0 1076.7h0M400.5 1079.9h0M401.1 1083.1h0M401.0 1086.3h0M401.0 1082.9h0M401.1 1079.6h0M401.1 1076.2h0M401.4 1072.8h0M401.7 1069.5h0M402.2 1073.0h0M402.2 1076.6h0M401.9 1080.2h0M401.9 1083.7h0M402.5 1087.3h0M401.8 1090.9h0M402.4 1087.6h0M402.5 1084.4h0M402.4 1081.2h0M402.5 1077.9h0M403.0 1074.7h0M402.5 1071.5h0M403.1 1068.2h0M403.0 1079.6h0M403.1 1083.0h0M403.1 1086.3h0M403.1 1089.7h0M403.8 1093.1h0M403.6 1096.4h0M403.6 1099.8h0M404.1 1103.2h0M403.6 1100.0h0M404.1 1096.8h0M404.0 1093.6h0M403.8 1090.5h0M404.4 1087.3h0M403.8 1084.1h0M404.5 1080.9h0M404.1 1077.8h0M404.6 1074.6h0M405.0 1078.0h0M404.8 1081.3h0M404.5 1084.7h0M404.8 1088.1h0M404.8 1091.5h0M404.6 1094.8h0M404.7 1098.2h0M405.1 1101.6h0M405.3 1105.0h0M404.7 1101.8h0M405.3 1098.6h0M405.5 1095.4h0M405.5 1092.2h0M405.2 1089.0h0M405.9 1085.9h0M405.3 1082.7h0M405.9 1079.5h0M406.3 1076.3h0M405.3 1073.1h0M406.0 1076.3h0M406.1 1079.4h0M406.2 1082.5h0M406.0 1085.6h0M406.2 1088.7h0M406.0 1091.8h0M406.5 1094.9h0M406.7 1098.0h0M406.5 1094.3h0M406.6 1090.7h0M406.9 1087.0h0M407.1 1083.4h0M407.3 1079.7h0M407.1 1075.6h0M407.6 1078.7h0M408.0 1081.9h0M408.2 1085.0h0M409.1 1079.7h0M408.9 1083.1h0M409.2 1086.6h0M409.4 1090.0h0M409.3 1093.4h0M409.9 1090.1h0M409.8 1086.9h0M410.1 1083.6h0M409.8 1080.4h0M410.3 1077.1h0M409.8 1073.8h0M410.4 1077.1h0M409.6 1080.5h0M410.2 1083.8h0M410.8 1087.0h0M410.6 1090.4h0M410.9 1093.7h0M410.5 1090.4h0M411.5 1087.2h0M411.4 1084.0h0M411.3 1080.8h0M411.5 1077.6h0M411.6 1074.4h0M412.1 1077.8h0M412.0 1081.3h0M411.6 1084.7h0M412.2 1088.1h0M412.8 1084.8h0M412.8 1081.4h0M412.7 1078.1h0M413.0 1074.7h0M412.9 1093.6h0M413.8 1098.6h0M414.9 1096.3h0M414.6 1099.5h0M415.1 1102.8h0M415.0 1099.3h0M415.2 1095.7h0M415.5 1092.2h0M415.2 1088.7h0M415.2 1085.1h0M416.3 1088.4h0M415.9 1091.6h0M416.4 1094.8h0M416.2 1098.1h0M416.3 1101.3h0M416.6 1104.5h0M416.7 1107.8h0M416.2 1104.6h0M417.0 1101.5h0M416.5 1098.3h0M416.9 1095.2h0M417.7 1092.1h0M417.1 1088.9h0M417.2 1085.8h0M416.9 1079.7h0M417.5 1083.2h0M417.2 1086.8h0M417.6 1090.3h0M418.2 1086.9h0M418.0 1083.4h0M418.0 1080.0h0M418.1 1076.6h0M418.6 1073.1h0M418.7 1077.2h0M419.1 1081.3h0M419.2 1085.3h0M420.0 1081.9h0M419.4 1078.5h0M419.1 1075.1h0M419.9 1071.7h0M420.0 1068.2h0M420.1 1071.4h0M419.7 1074.6h0M420.6 1077.8h0M420.3 1081.0h0M420.4 1084.1h0M420.0 1087.3h0M420.7 1090.5h0M420.7 1093.7h0M421.2 1090.3h0M420.8 1087.0h0M420.7 1083.7h0M421.3 1080.4h0M421.4 1077.1h0M421.4 1080.7h0M421.6 1085.3h0M422.1 1089.9h0M422.3 1086.7h0M422.1 1083.4h0M423.5 1087.8h0M424.6 1082.3h0M424.5 1086.0h0M424.8 1089.6h0M425.0 1093.3h0M425.1 1089.4h0M425.2 1085.4h0M426.0 1088.6h0M426.3 1091.8h0M426.4 1095.1h0M426.6 1091.4h0M426.7 1087.8h0M426.8 1084.2h0M427.1 1080.6h0M427.3 1085.1h0M427.8 1089.6h0M427.6 1086.2h0M428.0 1082.8h0M428.4 1079.4h0M428.3 1074.0h0M428.5 1077.4h0M428.3 1080.8h0M428.7 1084.2h0M428.9 1087.6h0M428.9 1091.0h0M428.5 1094.4h0M428.3 1097.8h0M429.0 1101.2h0M428.9 1104.6h0M429.3 1101.4h0M429.7 1098.2h0M429.8 1095.0h0M429.5 1091.8h0M429.8 1088.6h0M430.0 1085.4h0M429.6 1082.2h0M429.8 1079.0h0M430.0 1075.8h0M429.9 1079.1h0M429.9 1082.5h0M429.9 1085.8h0M430.3 1089.2h0M430.2 1092.5h0M430.7 1095.9h0M430.5 1092.6h0M431.1 1089.3h0M431.1 1086.1h0M430.5 1082.8h0M431.3 1079.5h0M430.9 1076.2h0M431.5 1073.0h0M431.4 1069.7h0M431.3 1073.0h0M431.5 1076.3h0M431.3 1079.5h0M431.6 1082.8h0M431.6 1086.1h0M431.6 1089.4h0M431.8 1092.7h0M431.4 1096.0h0M432.0 1099.3h0M431.5 1102.6h0M432.1 1105.8h0M432.2 1102.5h0M432.4 1099.1h0M432.1 1095.7h0M433.3 1092.3h0M432.5 1088.9h0M432.7 1085.5h0M432.5 1088.6h0M433.3 1091.7h0M432.9 1094.9h0M433.4 1098.0h0M433.0 1101.1h0M433.4 1104.3h0M433.3 1101.1h0M433.7 1097.9h0M433.5 1094.7h0M433.4 1091.5h0M433.8 1088.3h0M433.4 1085.1h0M433.5 1081.9h0M434.1 1078.7h0M433.4 1075.6h0M434.2 1072.4h0M433.9 1069.2h0M433.9 1072.4h0M434.2 1075.5h0M434.4 1078.7h0M434.1 1081.9h0M434.3 1085.1h0M434.6 1088.3h0M434.7 1091.5h0M434.5 1094.6h0M434.3 1097.8h0M434.3 1101.0h0M434.5 1104.2h0M434.9 1107.4h0M434.9 1110.6h0M434.9 1107.5h0M435.3 1104.4h0M434.8 1101.3h0M434.9 1098.2h0M434.9 1095.1h0M435.6 1092.0h0M434.5 1088.9h0M435.2 1085.8h0M435.3 1082.7h0M435.3 1079.5h0M436.0 1076.5h0M435.7 1073.3h0M435.6 1070.2h0M435.2 1067.1h0M435.5 1064.0h0M436.0 1082.9h0M435.9 1086.1h0M435.7 1089.4h0M435.2 1092.6h0M436.1 1095.8h0M436.2 1099.0h0M435.9 1102.3h0M435.9 1105.5h0M436.3 1108.7h0M436.0 1112.0h0M436.5 1108.6h0M436.1 1105.2h0M436.3 1101.8h0M436.7 1098.4h0M436.4 1095.0h0M436.9 1091.6h0M437.3 1095.4h0M437.0 1099.1h0M437.9 1102.8h0M437.6 1099.4h0M438.0 1096.0h0M438.0 1092.6h0M437.9 1089.2h0M438.0 1085.8h0M437.8 1082.3h0M438.2 1085.9h0M438.3 1089.4h0M439.1 1092.9h0M439.1 1096.5h0M438.5 1100.0h0M439.2 1103.5h0M439.2 1099.8h0M439.2 1096.1h0M439.5 1092.5h0M439.8 1088.8h0M439.7 1085.1h0M439.8 1086.8h0M440.0 1089.9h0M440.0 1093.1h0M439.8 1096.3h0M440.3 1099.4h0M440.2 1102.6h0M440.5 1105.8h0M440.7 1108.9h0M440.3 1105.6h0M440.7 1102.2h0M440.8 1098.9h0M440.9 1095.5h0M442.4 1101.0h0M442.4 1097.0h0M442.0 1093.0h0M443.0 1097.3h0M443.0 1101.5h0M443.7 1097.8h0M443.6 1094.0h0M443.7 1090.3h0M443.9 1086.5h0M444.1 1089.7h0M444.1 1092.9h0M444.1 1096.1h0M444.2 1099.2h0M444.5 1102.4h0M444.1 1105.6h0M444.5 1108.8h0M444.6 1112.0h0M444.6 1108.7h0M445.1 1105.4h0M444.7 1102.1h0M445.1 1098.9h0M445.3 1095.6h0M445.2 1087.8h0M445.4 1091.4h0M445.8 1095.0h0M445.9 1098.5h0M446.4 1102.1h0M446.1 1105.7h0M446.0 1102.4h0M446.1 1099.1h0M446.5 1095.9h0M446.9 1092.6h0M446.6 1089.4h0M446.5 1086.1h0M446.8 1082.9h0M446.9 1086.2h0M447.0 1089.6h0M446.9 1092.9h0M446.6 1096.2h0M447.3 1099.6h0M447.9 1096.5h0M447.7 1093.3h0M447.2 1090.2h0M447.9 1087.1h0M447.5 1084.0h0M448.7 1080.8h0M448.3 1084.3h0M448.0 1087.7h0M448.7 1091.2h0M448.3 1094.6h0M448.8 1098.1h0M448.8 1101.5h0M448.5 1105.0h0M449.2 1101.6h0M448.8 1098.3h0M449.7 1095.0h0M449.4 1091.7h0M449.3 1088.4h0M449.4 1092.7h0M450.7 1097.1h0M451.1 1094.0h0M451.0 1090.9h0M451.6 1096.0h0M451.4 1099.4h0M451.0 1102.7h0M451.4 1106.1h0M451.4 1109.5h0M451.8 1106.3h0M452.0 1103.2h0M452.1 1100.1h0M451.9 1096.9h0M452.0 1093.8h0M452.6 1090.7h0M452.4 1093.9h0M453.2 1097.2h0M452.5 1100.4h0M453.1 1103.7h0M453.0 1106.9h0M453.0 1103.1h0M453.8 1099.3h0M453.7 1095.5h0M453.7 1099.8h0M454.2 1104.1h0M454.8 1100.7h0M454.3 1097.2h0M455.2 1093.8h0M455.2 1090.3h0M455.0 1093.7h0M455.6 1097.1h0M455.8 1100.5h0M455.6 1103.9h0M455.6 1107.3h0M456.2 1110.7h0M456.3 1106.9h0M455.9 1103.2h0M456.3 1099.5h0M457.0 1101.4h0M457.2 1092.4h0M457.3 1095.7h0M458.0 1099.1h0M458.1 1096.6h0M459.1 1100.4h0M458.8 1097.1h0M459.4 1093.8h0M459.5 1090.5h0M460.4 1094.7h0M460.5 1099.0h0M460.7 1095.9h0M461.3 1092.7h0M461.4 1089.6h0M461.3 1093.0h0M461.1 1096.4h0M461.0 1099.8h0M461.5 1103.2h0M461.6 1106.7h0M461.7 1103.1h0M462.0 1099.5h0M461.9 1095.9h0M463.1 1099.2h0M462.7 1102.6h0M463.1 1098.2h0M463.8 1093.9h0M463.5 1097.7h0M464.6 1101.6h0M464.8 1097.5h0M464.7 1093.4h0M465.0 1089.3h0M464.6 1094.5h0M465.5 1100.0h0M465.8 1094.3h0M466.9 1097.8h0M467.0 1101.2h0M468.0 1097.8h0M467.6 1094.4h0M467.9 1098.6h0M468.1 1102.9h0M468.9 1099.2h0M468.5 1095.4h0M469.5 1099.3h0M469.7 1103.2h0M470.2 1099.2h0M471.0 1104.7h0M470.8 1103.9h0M471.2 1107.6h0M472.0 1101.7h0M472.4 1105.3h0M473.2 1109.0h0M473.2 1105.5h0M473.4 1102.0h0M474.5 1106.8h0M475.2 1100.8h0M475.1 1104.2h0M475.5 1107.5h0M476.5 1101.5h0M476.8 1106.1h0M476.8 1110.7h0M477.4 1107.1h0M477.7 1103.6h0M478.7 1109.4h0M478.3 1106.1h0M479.0 1102.7h0M479.0 1099.3h0M478.6 1109.9h0M479.9 1113.0h0M479.4 1116.2h0M479.7 1112.5h0M480.0 1108.8h0M480.5 1105.1h0M480.7 1101.3h0M480.6 1104.8h0M481.1 1108.3h0M480.9 1111.8h0M481.3 1115.2h0M481.8 1118.7h0M481.2 1122.2h0M480.5 1125.7h0M481.2 1122.3h0M481.2 1119.0h0M481.6 1115.7h0M481.7 1112.4h0M481.4 1109.1h0M481.6 1105.8h0M482.0 1102.5h0M481.8 1105.0h0M483.1 1107.6h0M483.5 1103.3h0M484.0 1107.2h0M484.1 1102.5h0M485.2 1107.9h0M485.6 1105.0h0M487.2 1110.7h0M487.1 1107.5h0M487.1 1104.5h0M487.5 1101.3h0M488.6 1104.8h0M488.6 1108.3h0M488.5 1105.2h0M489.6 1106.5h0M489.9 1102.7h0M491.0 1106.2h0M492.1 1098.7h0M492.4 1102.3h0M491.8 1105.9h0M491.8 1109.5h0M493.0 1113.1h0M492.6 1116.7h0M493.1 1120.3h0M492.8 1116.8h0M493.3 1113.2h0M492.8 1109.7h0M493.3 1106.2h0M493.7 1102.6h0M493.6 1099.1h0M493.3 1102.7h0M493.8 1106.3h0M493.5 1109.9h0M493.4 1113.5h0M494.0 1117.1h0M494.4 1120.7h0M494.3 1117.5h0M493.8 1114.4h0M494.5 1111.2h0M494.5 1108.1h0M494.2 1104.9h0M493.7 1101.8h0M494.8 1098.6h0M494.9 1095.5h0M494.8 1092.3h0M494.3 1095.9h0M494.6 1099.5h0M495.5 1103.1h0M495.6 1106.7h0M496.0 1105.3h0M496.2 1103.3h0M495.8 1106.7h0M496.7 1110.1h0M495.9 1113.6h0M496.5 1117.0h0M496.7 1120.4h0M496.9 1123.8h0M495.9 1127.2h0M497.0 1130.7h0M497.2 1127.5h0M497.4 1124.3h0M496.4 1121.1h0M497.0 1117.9h0M497.3 1114.7h0M497.4 1118.3h0M498.2 1121.9h0M497.8 1125.5h0M498.5 1122.3h0M498.5 1119.0h0M498.1 1115.7h0M498.4 1112.5h0M498.9 1115.7h0M499.4 1119.0h0M499.8 1115.5h0M499.5 1111.9h0M500.0 1108.4h0M499.4 1104.9h0M499.1 1101.3h0M500.0 1104.8h0M500.3 1108.2h0M500.1 1111.7h0M500.0 1115.1h0M500.5 1118.6h0M501.1 1122.0h0M500.6 1125.5h0M500.4 1128.9h0M500.5 1125.6h0M501.5 1122.3h0M501.0 1119.0h0M501.3 1115.7h0M501.6 1112.5h0M501.7 1109.2h0M501.2 1112.4h0M502.0 1115.6h0M502.1 1118.8h0M502.0 1121.9h0M501.8 1101.8h0M502.4 1105.5h0M502.2 1109.2h0M502.7 1112.9h0M502.4 1116.7h0M503.0 1113.0h0M503.1 1109.3h0M503.5 1105.6h0M504.3 1106.0h0M504.4 1102.5h0M504.7 1098.9h0M505.0 1095.3h0M504.6 1102.0h0M506.1 1107.2h0M506.4 1103.9h0M506.6 1100.6h0M506.7 1104.1h0M506.7 1107.6h0M506.7 1111.1h0M507.3 1114.7h0M507.5 1111.2h0M507.0 1107.7h0M507.8 1104.2h0M507.7 1100.7h0M508.3 1104.6h0M508.4 1108.5h0M509.3 1102.8h0M509.5 1106.5h0M509.7 1110.3h0M509.3 1114.0h0M510.1 1110.6h0M510.1 1107.2h0M510.0 1103.8h0M510.9 1108.2h0M510.6 1112.7h0M511.4 1109.5h0M511.8 1106.4h0M511.4 1103.3h0M511.9 1100.2h0M512.0 1104.2h0M512.3 1108.3h0M511.9 1112.3h0M512.7 1109.1h0M512.7 1105.8h0M513.1 1102.6h0M513.0 1099.3h0M513.3 1093.8h0M513.3 1097.4h0M513.6 1101.0h0M513.5 1104.7h0M514.1 1100.9h0M514.4 1097.1h0M514.2 1093.3h0M514.6 1089.5h0M514.6 1093.2h0M514.3 1096.9h0M514.9 1100.6h0M515.4 1104.3h0M515.0 1100.5h0M514.8 1096.8h0M515.6 1093.1h0M515.5 1089.3h0M516.4 1092.7h0M516.0 1096.0h0M516.2 1099.3h0M516.2 1102.6h0M516.8 1098.1h0M517.0 1093.6h0M516.6 1105.3h0M517.4 1109.0h0M518.3 1112.7h0M517.4 1108.6h0M517.9 1104.5h0M519.4 1110.6h0M519.4 1106.1h0M519.5 1101.7h0M519.8 1104.8h0M519.6 1108.0h0M520.0 1111.2h0M520.6 1114.3h0M520.1 1117.5h0M520.4 1120.7h0M520.9 1117.0h0M521.3 1113.3h0M520.7 1109.7h0M521.1 1106.0h0M521.1 1109.8h0M521.3 1113.6h0M521.6 1117.4h0M521.6 1113.8h0M521.4 1110.2h0M521.5 1106.6h0M522.0 1103.0h0M522.4 1099.3h0M522.8 1102.8h0M522.5 1106.2h0M522.7 1109.7h0M523.1 1113.1h0M523.2 1116.6h0M523.3 1113.2h0M523.7 1109.8h0M524.4 1113.4h0M524.0 1116.9h0M524.2 1120.4h0M524.1 1116.4h0M524.9 1112.3h0M525.0 1108.2h0M524.9 1104.3h0M525.6 1108.2h0M525.7 1103.2h0M526.8 1106.9h0M527.0 1110.7h0M527.1 1107.0h0M527.7 1103.3h0M529.0 1109.1h0M529.1 1106.0h0M529.6 1108.2h0M530.8 1103.1h0M530.8 1108.9h0M531.6 1104.3h0M532.2 1107.9h0M532.6 1104.6h0M533.0 1101.3h0M533.0 1102.0h0M532.8 1105.3h0M533.3 1108.5h0M533.2 1111.7h0M533.1 1115.0h0M533.3 1118.2h0M533.4 1121.4h0M533.6 1124.7h0M533.8 1121.3h0M533.8 1117.9h0M533.6 1114.6h0M534.4 1111.2h0M534.3 1107.8h0M534.2 1104.5h0M534.5 1101.1h0M534.4 1097.7h0M534.3 1094.3h0M534.5 1097.8h0M535.3 1101.2h0M535.0 1104.6h0M535.1 1108.0h0M534.8 1111.5h0M535.2 1114.9h0M536.0 1110.4h0M535.8 1105.9h0M536.1 1109.3h0M536.2 1112.6h0M536.1 1115.9h0M536.5 1119.2h0M536.2 1122.6h0M536.4 1125.9h0M536.2 1129.2h0M537.2 1126.0h0M536.6 1122.9h0M536.6 1119.7h0M537.0 1116.5h0M536.5 1113.4h0M536.7 1110.2h0M536.5 1107.0h0M536.8 1103.9h0M536.8 1100.7h0M537.1 1097.5h0M537.0 1094.4h0M536.9 1097.5h0M537.0 1100.7h0M537.2 1103.9h0M537.1 1107.1h0M537.6 1110.3h0M537.6 1113.5h0M537.5 1116.7h0M537.1 1119.9h0M537.7 1123.1h0M537.2 1126.3h0M537.7 1129.5h0M537.8 1126.2h0M537.7 1123.0h0M537.7 1119.7h0M537.8 1116.4h0M538.6 1113.1h0M538.0 1109.8h0M538.1 1106.6h0M538.5 1103.3h0M538.5 1100.0h0M538.7 1103.4h0M538.1 1106.8h0M538.2 1110.2h0M539.6 1113.6h0M538.7 1117.0h0M538.7 1120.4h0M538.9 1123.8h0M539.2 1127.2h0M539.0 1130.7h0M539.2 1102.2h0M539.3 1105.3h0M539.5 1108.4h0M540.7 1103.1h0M540.6 1106.5h0M540.6 1109.9h0M541.6 1106.5h0M542.5 1112.5h0M542.4 1108.6h0M543.2 1104.8h0M543.9 1107.6h0M545.0 1106.9h0M544.8 1112.7h0M545.4 1108.9h0M545.0 1105.1h0M545.6 1101.3h0M545.9 1105.0h0M546.2 1108.7h0M546.3 1112.4h0M546.5 1108.9h0M546.6 1105.4h0M546.9 1101.8h0M547.4 1106.3h0M547.8 1110.8h0M548.5 1105.1h0M549.0 1110.7h0M549.4 1103.3h0M549.8 1105.7h0M550.2 1102.6h0M550.2 1099.5h0M550.4 1103.5h0M551.0 1107.6h0M550.6 1104.0h0M551.8 1100.5h0M552.3 1104.6h0M552.4 1108.6h0M552.9 1103.6h0M554.0 1108.1h0M554.3 1103.5h0M555.3 1104.3h0M556.3 1099.3h0M556.5 1104.1h0M557.3 1101.2h0M557.5 1104.9h0M557.7 1108.7h0M558.1 1105.0h0M558.4 1101.3h0M559.0 1105.9h0" stroke="#00009a" stroke-width="3.0" stroke-linecap="round" fill="none"/><path d="M155.6 1114.1h0M157.2 1118.8h0M157.3 1114.6h0M158.7 1119.0h0M158.6 1113.2h0M158.8 1116.5h0M159.7 1119.9h0M159.9 1123.2h0M160.2 1118.6h0M160.5 1114.0h0M160.0 1096.8h0M160.2 1100.2h0M159.6 1103.6h0M160.0 1107.0h0M160.4 1110.4h0M160.5 1107.0h0M160.9 1103.6h0M160.4 1100.3h0M161.3 1096.9h0M161.4 1093.5h0M161.3 1096.8h0M161.0 1100.0h0M161.5 1103.2h0M161.5 1106.5h0M161.9 1109.7h0M161.8 1112.9h0M162.2 1116.2h0M161.9 1113.0h0M162.6 1109.8h0M161.6 1106.6h0M162.1 1103.4h0M162.7 1100.2h0M162.2 1097.0h0M163.1 1100.8h0M162.8 1104.7h0M163.4 1108.5h0M163.3 1105.2h0M163.6 1101.9h0M163.9 1098.6h0M164.0 1095.3h0M164.1 1098.7h0M165.0 1102.1h0M164.4 1105.5h0M164.3 1108.9h0M164.9 1112.3h0M165.0 1115.7h0M165.3 1112.4h0M165.6 1109.1h0M164.9 1105.8h0M165.6 1102.5h0M165.7 1099.2h0M165.5 1095.9h0M165.3 1105.1h0M165.8 1108.5h0M166.1 1111.8h0M166.7 1115.2h0M165.8 1112.0h0M166.5 1108.8h0M166.9 1105.6h0M166.4 1102.4h0M166.9 1099.1h0M167.6 1102.8h0M167.6 1106.5h0M167.5 1110.2h0M166.7 1113.9h0M167.6 1117.6h0M167.9 1114.2h0M168.0 1110.8h0M168.3 1107.5h0M169.9 1110.6h0M169.3 1106.0h0M169.7 1101.4h0M169.9 1100.6h0M169.9 1103.8h0M169.5 1107.0h0M169.9 1110.2h0M170.2 1113.3h0M170.0 1116.5h0M170.6 1119.7h0M170.5 1122.9h0M170.1 1126.1h0M170.6 1122.8h0M171.2 1119.5h0M171.1 1116.2h0M170.7 1112.9h0M171.1 1109.5h0M170.7 1106.2h0M170.5 1103.0h0M171.2 1099.6h0M171.2 1096.3h0M171.3 1099.5h0M171.2 1102.7h0M171.4 1105.8h0M171.3 1109.0h0M171.6 1112.2h0M171.8 1115.3h0M171.6 1118.5h0M172.0 1121.7h0M171.3 1124.8h0M171.7 1121.2h0M172.6 1117.6h0M172.9 1113.9h0M172.6 1110.3h0M173.2 1115.0h0M173.5 1090.0h0M174.2 1093.5h0M174.3 1096.9h0M174.4 1100.3h0M174.0 1103.7h0M174.6 1107.1h0M174.2 1110.6h0M175.1 1107.2h0M174.8 1103.9h0M174.6 1100.6h0M175.4 1097.2h0M175.4 1093.9h0M175.0 1090.6h0M176.0 1087.2h0M175.1 1090.7h0M175.6 1094.2h0M176.0 1097.6h0M175.1 1101.1h0M176.2 1104.5h0M176.0 1108.0h0M176.2 1104.2h0M176.0 1100.4h0M176.6 1096.7h0M176.7 1092.9h0M176.5 1108.8h0M177.0 1112.2h0M177.4 1115.7h0M177.8 1112.4h0M177.9 1109.1h0M177.7 1105.8h0M177.8 1102.5h0M178.1 1099.1h0M178.5 1102.4h0M178.5 1105.6h0M178.3 1108.9h0M177.9 1112.1h0M179.3 1115.3h0M179.1 1118.6h0M179.1 1114.5h0M179.4 1110.4h0M179.3 1106.3h0M179.4 1109.5h0M179.8 1112.6h0M180.0 1115.8h0M180.0 1119.0h0M179.9 1115.7h0M180.5 1112.5h0M180.9 1109.2h0M180.9 1106.0h0M180.7 1102.0h0M181.2 1105.5h0M181.0 1109.0h0M181.4 1112.6h0M181.3 1116.1h0M181.0 1119.6h0M181.6 1123.2h0M181.6 1119.8h0M182.0 1116.5h0M181.8 1113.1h0M182.0 1109.8h0M182.5 1106.5h0M182.7 1103.1h0M182.8 1106.4h0M183.1 1109.6h0M183.2 1112.8h0M183.6 1109.4h0M184.0 1106.0h0M184.0 1109.3h0M184.1 1112.6h0M184.3 1115.8h0M185.2 1119.1h0M184.8 1115.1h0M185.1 1111.1h0M185.8 1116.9h0M186.1 1113.1h0M186.3 1109.4h0M186.1 1105.7h0M186.6 1101.9h0M186.4 1095.6h0M186.4 1098.8h0M186.7 1101.9h0M187.1 1105.1h0M186.7 1108.3h0M187.5 1104.8h0M187.6 1101.4h0M188.0 1097.9h0M187.9 1094.5h0M188.3 1097.8h0M188.2 1101.2h0M188.6 1104.6h0M188.5 1100.2h0M189.4 1095.9h0M190.0 1099.2h0M189.8 1102.6h0M190.0 1106.0h0M189.8 1109.3h0M190.7 1105.6h0M190.2 1101.8h0M190.9 1098.0h0M190.8 1094.2h0M190.7 1097.5h0M191.4 1100.8h0M191.2 1104.0h0M191.4 1107.3h0M191.6 1110.6h0M191.7 1106.7h0M191.9 1102.9h0M192.2 1099.1h0M192.2 1105.0h0M192.2 1109.8h0M193.3 1106.3h0M193.8 1109.4h0M193.6 1112.6h0M194.0 1108.6h0M194.8 1104.6h0M195.0 1100.7h0M195.1 1103.9h0M195.1 1107.1h0M196.2 1110.3h0M195.7 1113.5h0M195.8 1109.0h0M196.9 1104.5h0M196.8 1108.4h0M196.8 1112.3h0M197.5 1116.2h0M197.4 1112.1h0M197.8 1108.0h0M197.9 1104.0h0M197.8 1107.8h0M198.8 1111.7h0M198.7 1108.5h0M198.5 1105.4h0M198.8 1102.3h0M199.2 1099.1h0M199.5 1084.4h0M199.8 1087.6h0M199.6 1090.9h0M199.9 1094.1h0M200.2 1097.4h0M199.8 1100.7h0M200.7 1097.0h0M200.9 1093.3h0M200.9 1089.7h0M201.5 1093.7h0M201.6 1097.8h0M201.3 1094.4h0M202.0 1091.0h0M202.0 1087.6h0M202.2 1084.3h0M202.5 1088.6h0M203.2 1092.9h0M203.6 1090.5h0M204.0 1096.0h0M204.5 1092.8h0M204.8 1089.5h0M204.5 1086.3h0M204.9 1083.0h0M205.2 1076.6h0M205.5 1080.6h0M205.3 1084.7h0M205.8 1088.7h0M205.9 1085.2h0M206.0 1081.6h0M206.2 1078.0h0M206.3 1081.1h0M206.5 1084.3h0M206.3 1087.4h0M207.0 1090.5h0M207.0 1093.7h0M207.1 1090.2h0M207.3 1086.8h0M207.5 1083.4h0M207.2 1080.0h0M207.5 1076.6h0M207.1 1073.2h0M207.0 1069.8h0M207.3 1073.1h0M208.4 1076.4h0M207.6 1079.7h0M208.4 1083.0h0M208.8 1086.3h0M208.4 1082.8h0M209.2 1079.3h0M209.4 1075.8h0M209.2 1072.3h0M209.8 1068.8h0M209.5 1072.1h0M209.2 1075.5h0M209.8 1078.8h0M209.7 1082.2h0M209.6 1078.8h0M209.7 1075.5h0M210.9 1072.1h0M210.2 1068.8h0M210.5 1065.4h0M210.6 1068.5h0M211.5 1072.6h0M211.5 1076.8h0M211.9 1073.6h0M211.7 1070.4h0M211.7 1067.2h0M211.5 1064.0h0M212.3 1067.3h0M212.0 1070.5h0M213.2 1066.5h0M214.1 1071.0h0M214.1 1075.5h0M214.6 1071.8h0M214.4 1068.1h0M214.3 1064.4h0M214.8 1067.9h0M215.1 1071.4h0M215.8 1074.9h0M216.3 1070.8h0M216.1 1066.8h0M215.8 1064.5h0M216.7 1067.6h0M217.0 1064.0h0M217.3 1060.4h0M217.4 1063.8h0M217.4 1067.2h0M218.7 1070.6h0M218.5 1067.3h0M218.8 1064.0h0M219.5 1060.7h0M219.1 1064.2h0M219.5 1067.7h0M219.6 1071.1h0M220.1 1067.9h0M220.1 1064.7h0M220.2 1061.5h0M220.2 1058.3h0M220.6 1061.6h0M221.0 1064.8h0M220.2 1068.0h0M221.0 1071.2h0M221.1 1068.0h0M221.4 1064.7h0M221.1 1061.5h0M222.1 1065.3h0M221.8 1069.1h0M222.2 1072.9h0M222.3 1076.8h0M222.0 1073.1h0M222.6 1069.4h0M222.3 1065.8h0M222.7 1062.1h0M223.0 1058.4h0M223.2 1061.9h0M223.4 1065.3h0M223.5 1068.7h0M224.3 1072.1h0M223.9 1075.5h0M223.8 1071.3h0M224.5 1067.2h0M225.0 1020.5h0M224.6 1023.6h0M224.5 1026.7h0M224.6 1029.8h0M224.6 1032.9h0M225.1 1036.0h0M224.9 1039.0h0M225.2 1042.2h0M223.9 1045.2h0M225.0 1048.4h0M225.3 1051.5h0M225.6 1054.5h0M225.0 1057.7h0M224.6 1060.8h0M225.3 1063.9h0M225.0 1067.0h0M224.8 1063.2h0M225.3 1059.4h0M226.0 1055.7h0M226.2 1051.9h0M226.3 1055.8h0M226.0 1059.7h0M227.2 1063.6h0M226.4 1060.3h0M226.9 1057.0h0M226.7 1053.7h0M227.8 1058.8h0M228.1 1068.2h0M227.9 1071.5h0M228.3 1074.8h0M228.6 1078.0h0M229.3 1073.8h0M229.3 1069.5h0M229.5 1073.4h0M229.5 1077.2h0M229.5 1081.1h0M230.1 1076.7h0M230.6 1072.4h0M231.2 1076.3h0M232.0 1071.9h0M232.6 1075.1h0M232.8 1078.3h0M233.4 1073.0h0M233.8 1085.1h0M233.1 1088.6h0M233.9 1092.0h0M233.8 1095.4h0M234.2 1098.8h0M234.0 1102.2h0M233.8 1105.6h0M234.6 1102.4h0M234.5 1099.1h0M234.6 1095.8h0M234.7 1092.6h0M235.1 1089.3h0M235.3 1092.9h0M235.3 1096.5h0M234.9 1100.1h0M235.4 1103.7h0M235.8 1099.9h0M236.5 1096.0h0M236.2 1092.2h0M236.3 1088.3h0M236.8 1091.9h0M236.5 1095.5h0M236.7 1099.1h0M236.9 1102.7h0M236.6 1106.4h0M237.4 1103.1h0M237.4 1099.9h0M237.3 1096.7h0M237.2 1093.5h0M237.7 1090.3h0M237.1 1105.8h0M238.3 1109.8h0M238.9 1104.8h0M239.4 1108.4h0M239.7 1112.0h0M240.6 1108.1h0M241.2 1113.4h0M241.4 1109.8h0M241.9 1106.3h0M242.1 1101.9h0M241.0 1105.5h0M241.9 1109.0h0M242.2 1112.5h0M242.4 1116.1h0M242.0 1119.6h0M243.0 1123.2h0M242.9 1119.6h0M242.9 1116.0h0M243.4 1112.4h0M243.6 1117.0h0M243.8 1121.5h0M244.3 1117.8h0M244.2 1114.1h0M244.1 1110.4h0M244.5 1106.7h0M244.9 1110.4h0M244.7 1114.2h0M245.6 1117.9h0M245.1 1121.7h0M246.1 1118.5h0M245.9 1115.3h0M245.5 1112.2h0M245.9 1109.0h0M246.4 1105.8h0M246.1 1102.6h0M246.1 1088.7h0M246.8 1093.7h0M246.8 1090.5h0M247.0 1087.4h0M247.6 1084.3h0M247.6 1081.2h0M247.2 1078.0h0M248.2 1081.7h0M247.5 1085.4h0M248.2 1089.1h0M248.3 1092.7h0M249.3 1090.1h0M249.7 1091.9h0M250.3 1090.6h0M250.4 1102.1h0M250.3 1105.5h0M250.7 1109.0h0M250.2 1112.4h0M250.4 1115.9h0M251.1 1119.3h0M250.6 1122.7h0M251.7 1119.0h0M251.4 1115.4h0M251.8 1111.7h0M252.0 1115.5h0M252.3 1119.3h0M252.3 1123.2h0M252.4 1119.6h0M252.6 1116.1h0M253.1 1112.5h0M253.2 1109.0h0M253.4 1105.5h0M253.2 1101.9h0M253.3 1105.8h0M253.1 1109.7h0M254.0 1113.6h0M254.8 1107.8h0M254.8 1111.8h0M255.5 1115.9h0M255.8 1112.0h0M255.7 1108.1h0M255.9 1104.2h0M255.4 1113.2h0M256.5 1116.2h0M257.3 1110.4h0M257.3 1085.3h0M258.0 1089.1h0M258.3 1093.0h0M258.2 1089.9h0M258.3 1086.8h0M258.3 1083.7h0M258.4 1080.6h0M258.9 1077.5h0M257.7 1074.4h0M258.5 1071.3h0M258.7 1068.2h0M259.0 1065.1h0M258.4 1061.9h0M258.9 1065.3h0M259.2 1068.6h0M258.9 1072.0h0M258.5 1075.3h0M259.0 1078.6h0M258.9 1082.0h0M259.5 1085.3h0M259.1 1088.7h0M260.0 1092.0h0M259.9 1088.7h0M259.9 1085.4h0M260.4 1089.5h0M260.6 1093.7h0M261.4 1089.9h0M261.6 1086.1h0M261.2 1092.5h0M262.1 1096.0h0M262.2 1099.5h0M261.4 1102.9h0M261.7 1106.4h0M261.9 1109.9h0M262.6 1113.4h0M262.4 1110.1h0M262.6 1106.9h0M263.1 1103.7h0M263.1 1100.4h0M263.8 1104.8h0M263.8 1101.3h0M264.4 1097.8h0M264.0 1094.3h0M264.9 1090.8h0M264.4 1093.9h0M264.4 1097.1h0M264.9 1100.3h0M265.0 1103.4h0M264.3 1106.6h0M265.1 1109.8h0M264.7 1112.9h0M265.0 1109.3h0M265.6 1105.6h0M265.3 1102.0h0M265.8 1098.3h0M265.8 1094.6h0M265.9 1102.7h0M266.0 1106.0h0M266.4 1109.2h0M266.3 1112.5h0M266.4 1115.7h0M266.6 1119.0h0M266.6 1115.2h0M266.9 1111.5h0M267.2 1107.8h0M267.3 1104.1h0M267.1 1100.4h0M266.9 1104.3h0M267.3 1108.1h0M267.8 1111.9h0M267.2 1115.8h0M267.9 1112.2h0M268.3 1108.6h0M268.2 1105.0h0M268.1 1101.4h0M269.1 1097.8h0M269.2 1101.1h0M268.9 1104.4h0M269.5 1107.7h0M269.7 1111.0h0M269.2 1107.2h0M270.6 1103.4h0M270.0 1099.6h0M270.3 1101.9h0M270.2 1105.1h0M270.2 1108.2h0M270.9 1111.3h0M270.3 1114.4h0M271.0 1117.6h0M270.9 1114.4h0M271.2 1111.2h0M271.4 1108.0h0M272.2 1114.1h0M272.4 1110.0h0M272.6 1105.9h0M273.0 1109.5h0M273.6 1113.2h0M273.8 1108.5h0M274.2 1103.9h0M274.0 1088.8h0M274.3 1092.0h0M273.9 1095.2h0M273.5 1098.5h0M274.4 1101.7h0M274.0 1104.9h0M274.3 1108.1h0M274.3 1111.3h0M274.9 1114.6h0M274.4 1117.8h0M274.9 1121.0h0M274.7 1124.2h0M274.5 1127.5h0M274.5 1124.2h0M275.2 1121.0h0M275.3 1117.8h0M275.5 1114.6h0M276.0 1111.3h0M275.6 1108.1h0M275.7 1104.9h0M276.3 1107.7h0M276.5 1104.4h0M276.4 1101.1h0M276.4 1097.8h0M277.4 1094.5h0M276.3 1091.2h0M277.1 1087.9h0M277.2 1091.1h0M277.2 1094.3h0M276.9 1097.5h0M277.2 1100.7h0M277.2 1103.9h0M277.1 1107.1h0M277.4 1110.3h0M277.4 1113.4h0M277.4 1116.6h0M277.8 1119.8h0M277.4 1123.0h0M277.9 1119.8h0M277.7 1116.6h0M278.1 1113.4h0M278.1 1110.2h0M278.3 1107.0h0M278.0 1103.8h0M278.4 1100.6h0M277.7 1110.4h0M278.9 1113.2h0M279.3 1109.2h0M279.4 1105.1h0M279.6 1108.5h0M280.7 1111.9h0M281.0 1108.3h0M281.1 1112.9h0M282.7 1117.6h0M282.2 1114.3h0M282.3 1111.1h0M282.9 1107.9h0M283.2 1112.1h0M284.2 1107.7h0M284.1 1103.3h0M283.6 1110.8h0M284.0 1114.1h0M284.4 1117.3h0M284.6 1120.5h0M284.9 1123.8h0M284.8 1127.0h0M285.5 1130.2h0M284.7 1127.1h0M285.0 1123.9h0M285.3 1120.7h0M285.0 1117.5h0M285.1 1114.4h0M285.2 1111.2h0M285.2 1108.0h0M285.2 1104.8h0M285.5 1108.1h0M285.4 1111.3h0M286.1 1114.5h0M285.7 1117.7h0M287.5 1116.5h0M287.7 1120.6h0M287.6 1124.8h0M287.8 1098.9h0M287.5 1102.2h0M288.3 1105.4h0M287.9 1108.6h0M288.3 1111.8h0M288.0 1108.6h0M288.6 1105.5h0M289.1 1102.3h0M289.0 1105.6h0M289.1 1108.9h0M289.6 1112.3h0M289.5 1115.6h0M290.1 1119.0h0M289.0 1115.8h0M289.9 1112.6h0M290.0 1109.4h0M289.4 1106.2h0M289.5 1103.0h0M290.2 1099.8h0M289.7 1096.6h0M289.9 1093.4h0M290.3 1090.2h0M290.1 1087.0h0M290.3 1083.8h0M290.0 1080.6h0M290.4 1077.4h0M290.7 1074.2h0M290.5 1071.0h0M289.8 1074.4h0M290.7 1077.7h0M290.6 1081.0h0M290.3 1084.4h0M291.1 1087.7h0M290.2 1091.0h0M291.4 1094.4h0M290.7 1097.7h0M291.4 1101.0h0M291.0 1104.4h0M290.6 1107.7h0M291.1 1111.0h0M291.3 1103.5h0M291.6 1107.4h0M291.3 1111.4h0M291.4 1115.3h0M292.5 1111.5h0M292.0 1107.6h0M293.2 1113.3h0M293.3 1109.6h0M293.4 1106.0h0M294.1 1109.6h0M294.2 1113.2h0M294.8 1116.8h0M295.3 1120.4h0M294.7 1116.8h0M295.2 1113.3h0M295.4 1109.7h0M295.1 1106.2h0M295.4 1110.7h0M296.5 1115.3h0M296.1 1112.1h0M296.4 1108.9h0M296.6 1105.7h0M297.0 1110.1h0M297.2 1114.6h0M297.8 1110.8h0M298.1 1106.9h0M297.8 1103.0h0M298.1 1099.1h0M297.8 1103.3h0M298.4 1106.6h0M297.5 1109.8h0M298.1 1113.0h0M298.8 1116.2h0M298.6 1119.4h0M298.0 1122.6h0M298.0 1125.8h0M298.8 1129.0h0M298.6 1132.2h0M298.5 1135.4h0M298.9 1138.7h0M298.7 1135.2h0M298.4 1131.7h0M299.3 1128.3h0M298.9 1124.8h0M298.9 1121.3h0M298.9 1117.9h0M299.5 1114.4h0M299.5 1118.6h0M300.3 1122.9h0M300.7 1120.6h0M301.3 1124.3h0M301.1 1128.0h0M301.2 1131.7h0M301.1 1128.0h0M301.6 1124.2h0M302.3 1120.5h0M302.8 1124.1h0M302.8 1126.4h0M302.5 1129.7h0M303.2 1133.1h0M303.8 1136.4h0M304.2 1132.9h0M303.9 1129.4h0M304.1 1125.8h0M304.5 1129.2h0M304.9 1132.6h0M304.9 1136.0h0M304.7 1139.4h0M305.2 1135.6h0M305.6 1131.9h0M305.4 1128.2h0M305.5 1132.8h0M306.4 1137.4h0M306.7 1134.0h0M307.0 1130.7h0M307.3 1115.1h0M306.7 1118.6h0M307.2 1122.1h0M307.2 1125.6h0M307.9 1129.1h0M307.7 1132.6h0M307.6 1136.1h0M308.0 1132.9h0M307.9 1129.7h0M307.8 1126.4h0M308.5 1123.2h0M308.4 1120.0h0M308.7 1116.8h0M308.7 1113.6h0M308.6 1110.3h0M308.6 1113.8h0M308.4 1117.3h0M309.0 1120.8h0M309.0 1124.4h0M309.3 1127.9h0M309.3 1124.3h0M309.2 1120.8h0M309.3 1117.2h0M309.9 1113.7h0M310.2 1110.2h0M309.9 1113.3h0M310.2 1116.5h0M310.6 1119.7h0M310.0 1122.8h0M310.2 1126.0h0M310.1 1129.2h0M310.9 1132.4h0M310.7 1128.8h0M310.6 1125.3h0M310.4 1121.8h0M310.9 1118.2h0M311.4 1114.7h0M311.1 1111.2h0M311.1 1107.6h0M311.5 1110.9h0M311.1 1114.2h0M311.5 1117.5h0M311.8 1120.8h0M311.4 1124.1h0M311.5 1127.4h0M311.9 1130.7h0M311.9 1134.0h0M311.9 1137.2h0M312.2 1134.0h0M312.3 1130.8h0M312.1 1127.6h0M312.3 1124.4h0M312.7 1121.2h0M312.9 1129.6h0M312.8 1132.7h0M313.1 1135.9h0M313.4 1139.1h0M313.8 1142.2h0M313.1 1145.4h0M313.7 1142.1h0M313.6 1138.9h0M313.7 1135.7h0M314.3 1132.4h0M314.3 1129.2h0M313.9 1132.8h0M314.3 1136.4h0M314.6 1140.0h0M314.2 1143.6h0M315.0 1147.2h0M314.9 1144.0h0M315.0 1140.8h0M315.2 1137.6h0M315.7 1134.4h0M315.2 1131.2h0M315.2 1128.0h0M315.9 1124.8h0M315.3 1121.6h0M315.5 1125.5h0M315.4 1129.3h0M316.3 1133.2h0M316.2 1137.0h0M316.2 1120.9h0M317.4 1125.3h0M316.8 1121.8h0M317.0 1118.2h0M317.0 1114.7h0M317.9 1111.2h0M317.2 1107.6h0M317.9 1110.8h0M318.2 1113.8h0M317.8 1116.9h0M318.1 1120.0h0M317.3 1123.2h0M317.9 1126.2h0M317.6 1129.3h0M318.2 1132.5h0M318.2 1135.6h0M318.1 1138.7h0M318.7 1135.2h0M318.7 1131.7h0M318.6 1128.3h0M318.7 1124.8h0M318.6 1121.4h0M319.3 1125.6h0M320.3 1129.9h0M319.6 1126.4h0M320.1 1122.9h0M319.9 1119.4h0M320.5 1115.9h0M320.5 1112.4h0M320.4 1115.6h0M320.0 1118.9h0M320.5 1122.1h0M321.1 1125.3h0M320.8 1128.5h0M321.1 1131.7h0M320.9 1134.9h0M321.1 1138.1h0M321.2 1113.1h0M321.0 1116.7h0M321.4 1120.2h0M321.4 1123.8h0M320.9 1127.3h0M321.6 1130.9h0M321.6 1134.5h0M321.6 1131.2h0M322.1 1128.0h0M321.9 1124.8h0M322.3 1121.6h0M322.5 1118.4h0M322.3 1115.2h0M321.9 1112.0h0M322.2 1108.8h0M322.8 1105.6h0M322.6 1109.3h0M322.7 1113.0h0M323.2 1116.6h0M323.5 1113.5h0M323.5 1110.3h0M323.7 1107.2h0M323.4 1104.0h0M323.7 1100.9h0M323.8 1097.8h0M324.0 1100.9h0M323.4 1104.0h0M324.1 1107.1h0M323.8 1110.2h0M324.7 1113.3h0M324.8 1116.4h0M324.9 1119.5h0M324.8 1122.6h0M324.6 1125.7h0M324.6 1089.5h0M326.0 1092.6h0M326.8 1088.4h0M326.3 1091.5h0M326.7 1088.2h0M326.5 1085.0h0M326.8 1081.8h0M326.7 1078.5h0M326.9 1075.3h0M327.3 1072.1h0M327.3 1068.8h0M327.1 1065.6h0M327.1 1062.4h0M327.2 1059.1h0M327.2 1055.9h0M327.4 1052.7h0M327.3 1049.4h0M327.5 1046.2h0M327.0 1042.9h0M327.7 1046.1h0M328.0 1049.2h0M327.6 1052.4h0M327.1 1055.5h0M328.0 1058.7h0M327.5 1061.8h0M326.8 1065.0h0M327.7 1068.1h0M327.9 1071.3h0M327.9 1074.4h0M328.2 1077.6h0M328.1 1080.7h0M328.0 1083.9h0M327.4 1087.0h0M327.7 1090.2h0M328.1 1093.3h0M328.3 1096.5h0M328.0 1093.0h0M328.4 1089.5h0M328.9 1086.0h0M328.5 1089.4h0M328.7 1092.8h0M329.4 1096.1h0M330.2 1090.3h0M330.0 1083.4h0M330.8 1086.8h0M331.3 1090.2h0M331.4 1086.5h0M332.0 1082.8h0M331.6 1086.1h0M332.2 1089.4h0M332.1 1092.7h0M331.9 1096.0h0M332.3 1099.2h0M332.4 1095.7h0M332.5 1092.1h0M332.9 1088.6h0M333.4 1085.0h0M333.2 1089.1h0M333.6 1093.1h0M333.3 1097.1h0M333.9 1094.0h0M334.3 1090.9h0M334.3 1087.7h0M334.3 1084.6h0M334.1 1081.5h0M334.1 1078.4h0M334.4 1075.2h0M334.2 1078.8h0M334.3 1082.4h0M335.1 1085.9h0M334.7 1089.5h0M335.6 1093.0h0M334.7 1096.6h0M335.5 1092.8h0M335.2 1089.0h0M335.8 1085.2h0M335.6 1081.5h0M336.1 1085.6h0M336.3 1089.7h0M336.6 1093.8h0M337.2 1096.3h0M336.7 1100.1h0M337.8 1097.5h0M338.2 1102.1h0M339.3 1097.0h0M340.0 1099.6h0M341.9 1099.2h0M341.0 1102.6h0M341.5 1106.0h0M341.5 1109.5h0M341.1 1112.9h0M341.4 1116.3h0M341.9 1119.7h0M341.5 1123.2h0M341.2 1064.9h0M341.5 1068.3h0M341.6 1071.6h0M341.7 1075.0h0M342.0 1078.3h0M341.9 1081.7h0M342.0 1085.0h0M341.6 1088.4h0M341.8 1091.7h0M342.3 1095.1h0M341.8 1091.8h0M342.4 1088.6h0M342.2 1085.3h0M342.2 1082.1h0M342.7 1078.8h0M342.4 1075.6h0M342.4 1072.4h0M342.6 1069.1h0M342.8 1065.9h0M343.7 1062.6h0M342.4 1065.9h0M343.1 1069.1h0M343.1 1072.3h0M343.5 1075.5h0M343.2 1078.8h0M342.7 1082.0h0M343.9 1085.2h0M343.3 1088.4h0M343.8 1085.0h0M343.7 1081.7h0M344.0 1078.3h0M344.8 1080.7h0M345.4 1076.8h0M345.6 1073.0h0M345.3 1069.1h0M345.8 1065.2h0M345.7 1068.8h0M345.9 1072.3h0M346.0 1075.8h0M346.3 1079.3h0M346.0 1082.9h0M346.3 1086.4h0M346.4 1089.9h0M347.8 1030.9h0M349.1 1034.1h0M348.5 1037.2h0M348.2 1040.3h0M348.7 1043.5h0M349.4 1046.6h0M348.9 1049.7h0M348.4 1052.9h0M348.7 1056.0h0M349.3 1059.1h0M348.5 1062.2h0M348.9 1065.4h0M348.9 1068.5h0M349.7 1071.6h0M349.0 1074.8h0M349.5 1077.9h0M348.9 1081.0h0M349.0 1084.1h0M349.6 1080.9h0M349.6 1077.7h0M349.0 1074.5h0M349.8 1071.3h0M350.0 1068.0h0M349.7 1064.8h0M350.1 1067.9h0M350.2 1071.1h0M350.0 1074.2h0M350.1 1077.3h0M350.2 1080.4h0M350.4 1083.5h0M350.2 1086.7h0M350.7 1083.3h0M350.3 1080.0h0M350.8 1076.7h0M350.9 1073.4h0M350.7 1070.1h0M351.3 1066.8h0M351.7 1063.4h0M351.6 1060.1h0M350.9 1056.8h0M351.9 1059.9h0M351.8 1063.0h0M352.0 1066.1h0M351.9 1063.0h0M352.2 1059.9h0M352.8 1056.8h0M352.6 1053.7h0M352.4 1050.6h0M352.5 1047.5h0M352.6 1050.6h0M353.0 1053.8h0M353.5 1057.0h0M352.7 1060.2h0M353.1 1063.4h0M353.0 1066.6h0M353.0 1069.7h0M353.4 1072.9h0M353.6 1076.1h0M353.1 1073.0h0M353.4 1069.9h0M354.3 1066.8h0M354.1 1063.7h0M353.8 1058.3h0M354.6 1062.2h0M354.7 1066.0h0M354.4 1069.9h0M354.8 1073.7h0M355.0 1070.6h0M355.3 1067.4h0M355.5 1064.2h0M355.1 1061.0h0M355.5 1065.6h0M356.5 1070.2h0M357.0 1067.1h0M357.4 1070.4h0M357.7 1073.7h0M358.3 1070.0h0M357.6 1066.3h0M358.5 1062.6h0M358.1 1058.8h0M358.7 1062.4h0M359.0 1066.0h0M358.4 1069.6h0M359.0 1073.2h0M359.0 1076.8h0M359.1 1073.5h0M359.4 1070.3h0M359.2 1067.1h0M359.4 1063.9h0M360.0 1060.7h0M360.3 1064.7h0M360.1 1068.7h0M360.5 1072.7h0M360.2 1064.4h0M361.7 1069.1h0M361.4 1066.0h0M361.7 1062.9h0M361.4 1059.8h0M361.6 1056.7h0M361.9 1060.4h0M362.4 1064.1h0M362.5 1067.8h0M362.6 1064.3h0M362.9 1060.7h0M363.0 1057.2h0M363.5 1053.6h0M363.1 1050.1h0M363.0 1046.6h0M363.3 1049.8h0M363.8 1052.9h0M363.3 1056.1h0M363.5 1059.3h0M363.5 1062.5h0M363.7 1065.7h0M363.7 1068.9h0M363.5 1072.1h0M363.7 1075.3h0M364.1 1078.5h0M364.2 1081.7h0M364.2 1084.9h0M364.2 1088.1h0M364.0 1084.9h0M364.1 1081.8h0M364.5 1078.7h0M364.0 1075.6h0M364.4 1072.5h0M364.0 1069.4h0M364.5 1066.3h0M364.5 1063.2h0M364.6 1066.9h0M365.3 1070.6h0M365.2 1074.3h0M365.3 1071.1h0M365.4 1067.9h0M365.3 1064.7h0M366.0 1061.5h0M365.5 1058.3h0M365.8 1055.1h0M365.4 1051.9h0M365.7 1048.7h0M365.8 1045.5h0M365.9 1042.3h0M365.9 1039.1h0M366.1 1035.8h0M366.6 1077.3h0M366.5 1080.8h0M366.8 1084.3h0M366.6 1087.8h0M367.1 1083.2h0M367.6 1078.6h0M367.9 1082.5h0M367.9 1086.4h0M368.1 1083.1h0M368.6 1079.7h0M368.7 1076.4h0M368.1 1073.0h0M368.9 1069.6h0M369.4 1072.9h0M368.9 1076.1h0M369.3 1079.3h0M368.9 1082.6h0M369.6 1085.8h0M369.2 1089.0h0M369.2 1092.2h0M369.6 1089.1h0M370.5 1085.9h0M369.8 1082.7h0M369.7 1079.6h0M370.3 1076.4h0M370.3 1073.2h0M370.4 1057.3h0M370.8 1060.6h0M370.2 1063.9h0M370.6 1067.2h0M371.0 1070.5h0M371.6 1066.8h0M371.8 1063.1h0M371.9 1066.6h0M372.1 1070.1h0M372.8 1066.3h0M373.0 1062.5h0M373.7 1058.7h0M373.0 1054.8h0M373.7 1058.0h0M372.9 1061.1h0M373.2 1064.2h0M373.3 1067.4h0M373.5 1070.5h0M373.4 1073.6h0M373.6 1076.8h0M373.9 1073.4h0M373.9 1070.1h0M374.3 1066.7h0M374.2 1063.4h0M374.4 1060.0h0M374.5 1056.7h0M374.8 1067.2h0M374.5 1070.5h0M374.4 1073.8h0M374.9 1077.1h0M375.2 1080.3h0M375.8 1076.3h0M375.8 1072.2h0M376.0 1076.2h0M376.7 1080.2h0M376.3 1084.1h0M377.0 1080.7h0M377.1 1077.2h0M376.5 1073.8h0M377.1 1070.3h0M377.0 1066.8h0M377.1 1070.3h0M377.0 1073.8h0M377.3 1077.3h0M378.0 1080.8h0M378.1 1076.9h0M378.6 1073.0h0M378.4 1076.8h0M378.8 1080.5h0M379.0 1084.3h0M378.8 1088.1h0M379.0 1084.4h0M379.8 1080.8h0M380.0 1077.2h0M379.9 1080.8h0M380.3 1084.4h0M380.6 1088.0h0M380.0 1066.8h0M380.9 1070.3h0M381.1 1073.8h0M381.3 1077.3h0M381.3 1080.7h0M381.1 1084.2h0M381.0 1087.7h0M381.2 1091.1h0M381.4 1087.8h0M381.6 1084.5h0M381.5 1081.2h0M381.7 1077.9h0M382.1 1074.6h0M382.0 1071.3h0M382.7 1068.0h0M382.7 1071.3h0M381.8 1074.6h0M382.1 1077.9h0M381.9 1081.2h0M382.1 1084.6h0M382.6 1087.9h0M382.3 1091.2h0M382.3 1094.5h0M382.6 1097.9h0M383.0 1094.5h0M382.8 1091.2h0M382.9 1087.8h0M383.3 1084.5h0M383.3 1081.2h0M383.3 1077.8h0M383.6 1074.5h0M383.1 1071.2h0M383.5 1067.8h0M383.3 1070.9h0M383.9 1074.0h0M383.9 1077.1h0M383.4 1080.2h0M384.2 1083.3h0M383.6 1086.4h0M384.3 1089.5h0M384.1 1092.6h0M383.9 1095.7h0M383.9 1092.5h0M384.2 1089.3h0M384.4 1086.1h0M384.2 1082.9h0M384.7 1079.7h0M384.2 1076.5h0M384.7 1073.3h0M384.8 1070.1h0M384.3 1066.9h0M385.1 1070.3h0M384.8 1073.7h0M384.5 1077.1h0M385.2 1080.5h0M385.5 1083.9h0M386.0 1080.0h0M385.8 1076.2h0M386.5 1072.3h0M386.7 1068.5h0M386.7 1071.6h0M386.8 1074.7h0M386.6 1077.8h0M386.5 1080.9h0M386.9 1084.0h0M387.1 1087.2h0M387.0 1090.3h0M386.9 1093.4h0M386.7 1090.0h0M387.5 1086.7h0M387.5 1083.3h0M387.2 1079.9h0M387.7 1076.6h0M388.0 1065.4h0M388.3 1069.2h0M387.6 1072.9h0M388.4 1076.6h0M389.0 1073.2h0M389.5 1069.8h0M389.8 1072.9h0M389.2 1076.1h0M389.5 1079.3h0M389.5 1082.5h0M390.4 1078.1h0M390.1 1073.7h0M391.5 1074.6h0M392.2 1070.6h0M392.3 1074.3h0M391.7 1078.0h0M392.4 1081.8h0M393.0 1078.0h0M392.5 1074.2h0M393.0 1070.5h0M393.3 1066.7h0M393.2 1063.3h0M393.7 1066.9h0M393.0 1070.4h0M393.9 1073.9h0M393.6 1077.5h0M394.1 1081.0h0M393.9 1084.5h0M394.2 1088.1h0M394.6 1084.6h0M394.1 1081.1h0M394.4 1077.6h0M394.4 1074.1h0M394.6 1070.6h0M394.2 1067.1h0M394.8 1070.8h0M395.0 1074.6h0M395.0 1078.3h0M395.3 1082.0h0M395.1 1078.2h0M396.2 1074.3h0M396.0 1070.5h0M396.6 1066.6h0M396.0 1069.8h0M396.1 1072.9h0M396.7 1076.0h0M396.3 1079.2h0M397.6 1074.2h0M397.5 1077.9h0M397.9 1081.5h0M398.3 1085.2h0M398.3 1081.7h0M399.0 1078.2h0M398.7 1074.7h0M398.3 1071.2h0M399.1 1067.6h0M398.9 1064.1h0M398.7 1075.4h0M399.0 1078.6h0M399.3 1081.9h0M400.0 1085.1h0M399.5 1081.2h0M399.7 1077.3h0M400.5 1073.5h0M400.0 1076.7h0M400.5 1079.9h0M401.1 1083.1h0M401.0 1086.3h0M401.0 1082.9h0M401.1 1079.6h0M401.1 1076.2h0M401.4 1072.8h0M401.7 1069.5h0M402.2 1073.0h0M402.2 1076.6h0M401.9 1080.2h0M401.9 1083.7h0M402.5 1087.3h0M401.8 1090.9h0M402.4 1087.6h0M402.5 1084.4h0M402.4 1081.2h0M402.5 1077.9h0M403.0 1074.7h0M402.5 1071.5h0M403.1 1068.2h0M403.0 1079.6h0M403.1 1083.0h0M403.1 1086.3h0M403.1 1089.7h0M403.8 1093.1h0M403.6 1096.4h0M403.6 1099.8h0M404.1 1103.2h0M403.6 1100.0h0M404.1 1096.8h0M404.0 1093.6h0M403.8 1090.5h0M404.4 1087.3h0M403.8 1084.1h0M404.5 1080.9h0M404.1 1077.8h0M404.6 1074.6h0M405.0 1078.0h0M404.8 1081.3h0M404.5 1084.7h0M404.8 1088.1h0M404.8 1091.5h0M404.6 1094.8h0M404.7 1098.2h0M405.1 1101.6h0M405.3 1105.0h0M404.7 1101.8h0M405.3 1098.6h0M405.5 1095.4h0M405.5 1092.2h0M405.2 1089.0h0M405.9 1085.9h0M405.3 1082.7h0M405.9 1079.5h0M406.3 1076.3h0M405.3 1073.1h0M406.0 1076.3h0M406.1 1079.4h0M406.2 1082.5h0M406.0 1085.6h0M406.2 1088.7h0M406.0 1091.8h0M406.5 1094.9h0M406.7 1098.0h0M406.5 1094.3h0M406.6 1090.7h0M406.9 1087.0h0M407.1 1083.4h0M407.3 1079.7h0M407.1 1075.6h0M407.6 1078.7h0M408.0 1081.9h0M408.2 1085.0h0M409.1 1079.7h0M408.9 1083.1h0M409.2 1086.6h0M409.4 1090.0h0M409.3 1093.4h0M409.9 1090.1h0M409.8 1086.9h0M410.1 1083.6h0M409.8 1080.4h0M410.3 1077.1h0M409.8 1073.8h0M410.4 1077.1h0M409.6 1080.5h0M410.2 1083.8h0M410.8 1087.0h0M410.6 1090.4h0M410.9 1093.7h0M410.5 1090.4h0M411.5 1087.2h0M411.4 1084.0h0M411.3 1080.8h0M411.5 1077.6h0M411.6 1074.4h0M412.1 1077.8h0M412.0 1081.3h0M411.6 1084.7h0M412.2 1088.1h0M412.8 1084.8h0M412.8 1081.4h0M412.7 1078.1h0M413.0 1074.7h0M412.9 1093.6h0M413.8 1098.6h0M414.9 1096.3h0M414.6 1099.5h0M415.1 1102.8h0M415.0 1099.3h0M415.2 1095.7h0M415.5 1092.2h0M415.2 1088.7h0M415.2 1085.1h0M416.3 1088.4h0M415.9 1091.6h0M416.4 1094.8h0M416.2 1098.1h0M416.3 1101.3h0M416.6 1104.5h0M416.7 1107.8h0M416.2 1104.6h0M417.0 1101.5h0M416.5 1098.3h0M416.9 1095.2h0M417.7 1092.1h0M417.1 1088.9h0M417.2 1085.8h0M416.9 1079.7h0M417.5 1083.2h0M417.2 1086.8h0M417.6 1090.3h0M418.2 1086.9h0M418.0 1083.4h0M418.0 1080.0h0M418.1 1076.6h0M418.6 1073.1h0M418.7 1077.2h0M419.1 1081.3h0M419.2 1085.3h0M420.0 1081.9h0M419.4 1078.5h0M419.1 1075.1h0M419.9 1071.7h0M420.0 1068.2h0M420.1 1071.4h0M419.7 1074.6h0M420.6 1077.8h0M420.3 1081.0h0M420.4 1084.1h0M420.0 1087.3h0M420.7 1090.5h0M420.7 1093.7h0M421.2 1090.3h0M420.8 1087.0h0M420.7 1083.7h0M421.3 1080.4h0M421.4 1077.1h0M421.4 1080.7h0M421.6 1085.3h0M422.1 1089.9h0M422.3 1086.7h0M422.1 1083.4h0M423.5 1087.8h0M424.6 1082.3h0M424.5 1086.0h0M424.8 1089.6h0M425.0 1093.3h0M425.1 1089.4h0M425.2 1085.4h0M426.0 1088.6h0M426.3 1091.8h0M426.4 1095.1h0M426.6 1091.4h0M426.7 1087.8h0M426.8 1084.2h0M427.1 1080.6h0M427.3 1085.1h0M427.8 1089.6h0M427.6 1086.2h0M428.0 1082.8h0M428.4 1079.4h0M428.3 1074.0h0M428.5 1077.4h0M428.3 1080.8h0M428.7 1084.2h0M428.9 1087.6h0M428.9 1091.0h0M428.5 1094.4h0M428.3 1097.8h0M429.0 1101.2h0M428.9 1104.6h0M429.3 1101.4h0M429.7 1098.2h0M429.8 1095.0h0M429.5 1091.8h0M429.8 1088.6h0M430.0 1085.4h0M429.6 1082.2h0M429.8 1079.0h0M430.0 1075.8h0M429.9 1079.1h0M429.9 1082.5h0M429.9 1085.8h0M430.3 1089.2h0M430.2 1092.5h0M430.7 1095.9h0M430.5 1092.6h0M431.1 1089.3h0M431.1 1086.1h0M430.5 1082.8h0M431.3 1079.5h0M430.9 1076.2h0M431.5 1073.0h0M431.4 1069.7h0M431.3 1073.0h0M431.5 1076.3h0M431.3 1079.5h0M431.6 1082.8h0M431.6 1086.1h0M431.6 1089.4h0M431.8 1092.7h0M431.4 1096.0h0M432.0 1099.3h0M431.5 1102.6h0M432.1 1105.8h0M432.2 1102.5h0M432.4 1099.1h0M432.1 1095.7h0M433.3 1092.3h0M432.5 1088.9h0M432.7 1085.5h0M432.5 1088.6h0M433.3 1091.7h0M432.9 1094.9h0M433.4 1098.0h0M433.0 1101.1h0M433.4 1104.3h0M433.3 1101.1h0M433.7 1097.9h0M433.5 1094.7h0M433.4 1091.5h0M433.8 1088.3h0M433.4 1085.1h0M433.5 1081.9h0M434.1 1078.7h0M433.4 1075.6h0M434.2 1072.4h0M433.9 1069.2h0M433.9 1072.4h0M434.2 1075.5h0M434.4 1078.7h0M434.1 1081.9h0M434.3 1085.1h0M434.6 1088.3h0M434.7 1091.5h0M434.5 1094.6h0M434.3 1097.8h0M434.3 1101.0h0M434.5 1104.2h0M434.9 1107.4h0M434.9 1110.6h0M434.9 1107.5h0M435.3 1104.4h0M434.8 1101.3h0M434.9 1098.2h0M434.9 1095.1h0M435.6 1092.0h0M434.5 1088.9h0M435.2 1085.8h0M435.3 1082.7h0M435.3 1079.5h0M436.0 1076.5h0M435.7 1073.3h0M435.6 1070.2h0M435.2 1067.1h0M435.5 1064.0h0M436.0 1082.9h0M435.9 1086.1h0M435.7 1089.4h0M435.2 1092.6h0M436.1 1095.8h0M436.2 1099.0h0M435.9 1102.3h0M435.9 1105.5h0M436.3 1108.7h0M436.0 1112.0h0M436.5 1108.6h0M436.1 1105.2h0M436.3 1101.8h0M436.7 1098.4h0M436.4 1095.0h0M436.9 1091.6h0M437.3 1095.4h0M437.0 1099.1h0M437.9 1102.8h0M437.6 1099.4h0M438.0 1096.0h0M438.0 1092.6h0M437.9 1089.2h0M438.0 1085.8h0M437.8 1082.3h0M438.2 1085.9h0M438.3 1089.4h0M439.1 1092.9h0M439.1 1096.5h0M438.5 1100.0h0M439.2 1103.5h0M439.2 1099.8h0M439.2 1096.1h0M439.5 1092.5h0M439.8 1088.8h0M439.7 1085.1h0M439.8 1086.8h0M440.0 1089.9h0M440.0 1093.1h0M439.8 1096.3h0M440.3 1099.4h0M440.2 1102.6h0M440.5 1105.8h0M440.7 1108.9h0M440.3 1105.6h0M440.7 1102.2h0M440.8 1098.9h0M440.9 1095.5h0M442.4 1101.0h0M442.4 1097.0h0M442.0 1093.0h0M443.0 1097.3h0M443.0 1101.5h0M443.7 1097.8h0M443.6 1094.0h0M443.7 1090.3h0M443.9 1086.5h0M444.1 1089.7h0M444.1 1092.9h0M444.1 1096.1h0M444.2 1099.2h0M444.5 1102.4h0M444.1 1105.6h0M444.5 1108.8h0M444.6 1112.0h0M444.6 1108.7h0M445.1 1105.4h0M444.7 1102.1h0M445.1 1098.9h0M445.3 1095.6h0M445.2 1087.8h0M445.4 1091.4h0M445.8 1095.0h0M445.9 1098.5h0M446.4 1102.1h0M446.1 1105.7h0M446.0 1102.4h0M446.1 1099.1h0M446.5 1095.9h0M446.9 1092.6h0M446.6 1089.4h0M446.5 1086.1h0M446.8 1082.9h0M446.9 1086.2h0M447.0 1089.6h0M446.9 1092.9h0M446.6 1096.2h0M447.3 1099.6h0M447.9 1096.5h0M447.7 1093.3h0M447.2 1090.2h0M447.9 1087.1h0M447.5 1084.0h0M448.7 1080.8h0M448.3 1084.3h0M448.0 1087.7h0M448.7 1091.2h0M448.3 1094.6h0M448.8 1098.1h0M448.8 1101.5h0M448.5 1105.0h0M449.2 1101.6h0M448.8 1098.3h0M449.7 1095.0h0M449.4 1091.7h0M449.3 1088.4h0M449.4 1092.7h0M450.7 1097.1h0M451.1 1094.0h0M451.0 1090.9h0M451.6 1096.0h0M451.4 1099.4h0M451.0 1102.7h0M451.4 1106.1h0M451.4 1109.5h0M451.8 1106.3h0M452.0 1103.2h0M452.1 1100.1h0M451.9 1096.9h0M452.0 1093.8h0M452.6 1090.7h0M452.4 1093.9h0M453.2 1097.2h0M452.5 1100.4h0M453.1 1103.7h0M453.0 1106.9h0M453.0 1103.1h0M453.8 1099.3h0M453.7 1095.5h0M453.7 1099.8h0M454.2 1104.1h0M454.8 1100.7h0M454.3 1097.2h0M455.2 1093.8h0M455.2 1090.3h0M455.0 1093.7h0M455.6 1097.1h0M455.8 1100.5h0M455.6 1103.9h0M455.6 1107.3h0M456.2 1110.7h0M456.3 1106.9h0M455.9 1103.2h0M456.3 1099.5h0M457.0 1101.4h0M457.2 1092.4h0M457.3 1095.7h0M458.0 1099.1h0M458.1 1096.6h0M459.1 1100.4h0M458.8 1097.1h0M459.4 1093.8h0M459.5 1090.5h0M460.4 1094.7h0M460.5 1099.0h0M460.7 1095.9h0M461.3 1092.7h0M461.4 1089.6h0M461.3 1093.0h0M461.1 1096.4h0M461.0 1099.8h0M461.5 1103.2h0M461.6 1106.7h0M461.7 1103.1h0M462.0 1099.5h0M461.9 1095.9h0M463.1 1099.2h0M462.7 1102.6h0M463.1 1098.2h0M463.8 1093.9h0M463.5 1097.7h0M464.6 1101.6h0M464.8 1097.5h0M464.7 1093.4h0M465.0 1089.3h0M464.6 1094.5h0M465.5 1100.0h0M465.8 1094.3h0M466.9 1097.8h0M467.0 1101.2h0M468.0 1097.8h0M467.6 1094.4h0M467.9 1098.6h0M468.1 1102.9h0M468.9 1099.2h0M468.5 1095.4h0M469.5 1099.3h0M469.7 1103.2h0M470.2 1099.2h0M471.0 1104.7h0M470.8 1103.9h0M471.2 1107.6h0M472.0 1101.7h0M472.4 1105.3h0M473.2 1109.0h0M473.2 1105.5h0M473.4 1102.0h0M474.5 1106.8h0M475.2 1100.8h0M475.1 1104.2h0M475.5 1107.5h0M476.5 1101.5h0M476.8 1106.1h0M476.8 1110.7h0M477.4 1107.1h0M477.7 1103.6h0M478.7 1109.4h0M478.3 1106.1h0M479.0 1102.7h0M479.0 1099.3h0M478.6 1109.9h0M479.9 1113.0h0M479.4 1116.2h0M479.7 1112.5h0M480.0 1108.8h0M480.5 1105.1h0M480.7 1101.3h0M480.6 1104.8h0M481.1 1108.3h0M480.9 1111.8h0M481.3 1115.2h0M481.8 1118.7h0M481.2 1122.2h0M480.5 1125.7h0M481.2 1122.3h0M481.2 1119.0h0M481.6 1115.7h0M481.7 1112.4h0M481.4 1109.1h0M481.6 1105.8h0M482.0 1102.5h0M481.8 1105.0h0M483.1 1107.6h0M483.5 1103.3h0M484.0 1107.2h0M484.1 1102.5h0M485.2 1107.9h0M485.6 1105.0h0M487.2 1110.7h0M487.1 1107.5h0M487.1 1104.5h0M487.5 1101.3h0M488.6 1104.8h0M488.6 1108.3h0M488.5 1105.2h0M489.6 1106.5h0M489.9 1102.7h0M491.0 1106.2h0M492.1 1098.7h0M492.4 1102.3h0M491.8 1105.9h0M491.8 1109.5h0M493.0 1113.1h0M492.6 1116.7h0M493.1 1120.3h0M492.8 1116.8h0M493.3 1113.2h0M492.8 1109.7h0M493.3 1106.2h0M493.7 1102.6h0M493.6 1099.1h0M493.3 1102.7h0M493.8 1106.3h0M493.5 1109.9h0M493.4 1113.5h0M494.0 1117.1h0M494.4 1120.7h0M494.3 1117.5h0M493.8 1114.4h0M494.5 1111.2h0M494.5 1108.1h0M494.2 1104.9h0M493.7 1101.8h0M494.8 1098.6h0M494.9 1095.5h0M494.8 1092.3h0M494.3 1095.9h0M494.6 1099.5h0M495.5 1103.1h0M495.6 1106.7h0M496.0 1105.3h0M496.2 1103.3h0M495.8 1106.7h0M496.7 1110.1h0M495.9 1113.6h0M496.5 1117.0h0M496.7 1120.4h0M496.9 1123.8h0M495.9 1127.2h0M497.0 1130.7h0M497.2 1127.5h0M497.4 1124.3h0M496.4 1121.1h0M497.0 1117.9h0M497.3 1114.7h0M497.4 1118.3h0M498.2 1121.9h0M497.8 1125.5h0M498.5 1122.3h0M498.5 1119.0h0M498.1 1115.7h0M498.4 1112.5h0M498.9 1115.7h0M499.4 1119.0h0M499.8 1115.5h0M499.5 1111.9h0M500.0 1108.4h0M499.4 1104.9h0M499.1 1101.3h0M500.0 1104.8h0M500.3 1108.2h0M500.1 1111.7h0M500.0 1115.1h0M500.5 1118.6h0M501.1 1122.0h0M500.6 1125.5h0M500.4 1128.9h0M500.5 1125.6h0M501.5 1122.3h0M501.0 1119.0h0M501.3 1115.7h0M501.6 1112.5h0M501.7 1109.2h0M501.2 1112.4h0M502.0 1115.6h0M502.1 1118.8h0M502.0 1121.9h0M501.8 1101.8h0M502.4 1105.5h0M502.2 1109.2h0M502.7 1112.9h0M502.4 1116.7h0M503.0 1113.0h0M503.1 1109.3h0M503.5 1105.6h0M504.3 1106.0h0M504.4 1102.5h0M504.7 1098.9h0M505.0 1095.3h0M504.6 1102.0h0M506.1 1107.2h0M506.4 1103.9h0M506.6 1100.6h0M506.7 1104.1h0M506.7 1107.6h0M506.7 1111.1h0M507.3 1114.7h0M507.5 1111.2h0M507.0 1107.7h0M507.8 1104.2h0M507.7 1100.7h0M508.3 1104.6h0M508.4 1108.5h0M509.3 1102.8h0M509.5 1106.5h0M509.7 1110.3h0M509.3 1114.0h0M510.1 1110.6h0M510.1 1107.2h0M510.0 1103.8h0M510.9 1108.2h0M510.6 1112.7h0M511.4 1109.5h0M511.8 1106.4h0M511.4 1103.3h0M511.9 1100.2h0M512.0 1104.2h0M512.3 1108.3h0M511.9 1112.3h0M512.7 1109.1h0M512.7 1105.8h0M513.1 1102.6h0M513.0 1099.3h0M513.3 1093.8h0M513.3 1097.4h0M513.6 1101.0h0M513.5 1104.7h0M514.1 1100.9h0M514.4 1097.1h0M514.2 1093.3h0M514.6 1089.5h0M514.6 1093.2h0M514.3 1096.9h0M514.9 1100.6h0M515.4 1104.3h0M515.0 1100.5h0M514.8 1096.8h0M515.6 1093.1h0M515.5 1089.3h0M516.4 1092.7h0M516.0 1096.0h0M516.2 1099.3h0M516.2 1102.6h0M516.8 1098.1h0M517.0 1093.6h0M516.6 1105.3h0M517.4 1109.0h0M518.3 1112.7h0M517.4 1108.6h0M517.9 1104.5h0M519.4 1110.6h0M519.4 1106.1h0M519.5 1101.7h0M519.8 1104.8h0M519.6 1108.0h0M520.0 1111.2h0M520.6 1114.3h0M520.1 1117.5h0M520.4 1120.7h0M520.9 1117.0h0M521.3 1113.3h0M520.7 1109.7h0M521.1 1106.0h0M521.1 1109.8h0M521.3 1113.6h0M521.6 1117.4h0M521.6 1113.8h0M521.4 1110.2h0M521.5 1106.6h0M522.0 1103.0h0M522.4 1099.3h0M522.8 1102.8h0M522.5 1106.2h0M522.7 1109.7h0M523.1 1113.1h0M523.2 1116.6h0M523.3 1113.2h0M523.7 1109.8h0M524.4 1113.4h0M524.0 1116.9h0M524.2 1120.4h0M524.1 1116.4h0M524.9 1112.3h0M525.0 1108.2h0M524.9 1104.3h0M525.6 1108.2h0M525.7 1103.2h0M526.8 1106.9h0M527.0 1110.7h0M527.1 1107.0h0M527.7 1103.3h0M529.0 1109.1h0M529.1 1106.0h0M529.6 1108.2h0M530.8 1103.1h0M530.8 1108.9h0M531.6 1104.3h0M532.2 1107.9h0M532.6 1104.6h0M533.0 1101.3h0M533.0 1102.0h0M532.8 1105.3h0M533.3 1108.5h0M533.2 1111.7h0M533.1 1115.0h0M533.3 1118.2h0M533.4 1121.4h0M533.6 1124.7h0M533.8 1121.3h0M533.8 1117.9h0M533.6 1114.6h0M534.4 1111.2h0M534.3 1107.8h0M534.2 1104.5h0M534.5 1101.1h0M534.4 1097.7h0M534.3 1094.3h0M534.5 1097.8h0M535.3 1101.2h0M535.0 1104.6h0M535.1 1108.0h0M534.8 1111.5h0M535.2 1114.9h0M536.0 1110.4h0M535.8 1105.9h0M536.1 1109.3h0M536.2 1112.6h0M536.1 1115.9h0M536.5 1119.2h0M536.2 1122.6h0M536.4 1125.9h0M536.2 1129.2h0M537.2 1126.0h0M536.6 1122.9h0M536.6 1119.7h0M537.0 1116.5h0M536.5 1113.4h0M536.7 1110.2h0M536.5 1107.0h0M536.8 1103.9h0M536.8 1100.7h0M537.1 1097.5h0M537.0 1094.4h0M536.9 1097.5h0M537.0 1100.7h0M537.2 1103.9h0M537.1 1107.1h0M537.6 1110.3h0M537.6 1113.5h0M537.5 1116.7h0M537.1 1119.9h0M537.7 1123.1h0M537.2 1126.3h0M537.7 1129.5h0M537.8 1126.2h0M537.7 1123.0h0M537.7 1119.7h0M537.8 1116.4h0M538.6 1113.1h0M538.0 1109.8h0M538.1 1106.6h0M538.5 1103.3h0M538.5 1100.0h0M538.7 1103.4h0M538.1 1106.8h0M538.2 1110.2h0M539.6 1113.6h0M538.7 1117.0h0M538.7 1120.4h0M538.9 1123.8h0M539.2 1127.2h0M539.0 1130.7h0M539.2 1102.2h0M539.3 1105.3h0M539.5 1108.4h0M540.7 1103.1h0M540.6 1106.5h0M540.6 1109.9h0M541.6 1106.5h0M542.5 1112.5h0M542.4 1108.6h0M543.2 1104.8h0M543.9 1107.6h0M545.0 1106.9h0M544.8 1112.7h0M545.4 1108.9h0M545.0 1105.1h0M545.6 1101.3h0M545.9 1105.0h0M546.2 1108.7h0M546.3 1112.4h0M546.5 1108.9h0M546.6 1105.4h0M546.9 1101.8h0M547.4 1106.3h0M547.8 1110.8h0M548.5 1105.1h0M549.0 1110.7h0M549.4 1103.3h0M549.8 1105.7h0M550.2 1102.6h0M550.2 1099.5h0M550.4 1103.5h0M551.0 1107.6h0M550.6 1104.0h0M551.8 1100.5h0M552.3 1104.6h0M552.4 1108.6h0M552.9 1103.6h0M554.0 1108.1h0M554.3 1103.5h0M555.3 1104.3h0M556.3 1099.3h0M556.5 1104.1h0M557.3 1101.2h0M557.5 1104.9h0M557.7 1108.7h0M558.1 1105.0h0M558.4 1101.3h0M559.0 1105.9h0" stroke="#1818f4" stroke-width="2.1" stroke-linecap="round" fill="none"/><path d="M135.00 898.90H573" stroke="#000" stroke-width="1.7"/><path d="M135.00 1095.80H573" stroke="#000" stroke-width="1.7"/><path d="M112 5H596V393H112ZM119.38 5v5.5M119.38 393v-5.5M135.00 5v10.5M135.00 393v-10.5M150.62 5v5.5M150.62 393v-5.5M166.23 5v5.5M166.23 393v-5.5M181.85 5v5.5M181.85 393v-5.5M197.46 5v5.5M197.46 393v-5.5M213.08 5v10.5M213.08 393v-10.5M228.70 5v5.5M228.70 393v-5.5M244.31 5v5.5M244.31 393v-5.5M259.93 5v5.5M259.93 393v-5.5M275.54 5v5.5M275.54 393v-5.5M291.16 5v10.5M291.16 393v-10.5M306.78 5v5.5M306.78 393v-5.5M322.39 5v5.5M322.39 393v-5.5M338.01 5v5.5M338.01 393v-5.5M353.62 5v5.5M353.62 393v-5.5M369.24 5v10.5M369.24 393v-10.5M384.86 5v5.5M384.86 393v-5.5M400.47 5v5.5M400.47 393v-5.5M416.09 5v5.5M416.09 393v-5.5M431.70 5v5.5M431.70 393v-5.5M447.32 5v10.5M447.32 393v-10.5M462.94 5v5.5M462.94 393v-5.5M478.55 5v5.5M478.55 393v-5.5M494.17 5v5.5M494.17 393v-5.5M509.78 5v5.5M509.78 393v-5.5M525.40 5v10.5M525.40 393v-10.5M541.02 5v5.5M541.02 393v-5.5M556.63 5v5.5M556.63 393v-5.5M572.25 5v5.5M572.25 393v-5.5M587.86 5v5.5M587.86 393v-5.5M112 405H596V793H112ZM119.38 405v5.5M119.38 793v-5.5M135.00 405v10.5M135.00 793v-10.5M150.62 405v5.5M150.62 793v-5.5M166.23 405v5.5M166.23 793v-5.5M181.85 405v5.5M181.85 793v-5.5M197.46 405v5.5M197.46 793v-5.5M213.08 405v10.5M213.08 793v-10.5M228.70 405v5.5M228.70 793v-5.5M244.31 405v5.5M244.31 793v-5.5M259.93 405v5.5M259.93 793v-5.5M275.54 405v5.5M275.54 793v-5.5M291.16 405v10.5M291.16 793v-10.5M306.78 405v5.5M306.78 793v-5.5M322.39 405v5.5M322.39 793v-5.5M338.01 405v5.5M338.01 793v-5.5M353.62 405v5.5M353.62 793v-5.5M369.24 405v10.5M369.24 793v-10.5M384.86 405v5.5M384.86 793v-5.5M400.47 405v5.5M400.47 793v-5.5M416.09 405v5.5M416.09 793v-5.5M431.70 405v5.5M431.70 793v-5.5M447.32 405v10.5M447.32 793v-10.5M462.94 405v5.5M462.94 793v-5.5M478.55 405v5.5M478.55 793v-5.5M494.17 405v5.5M494.17 793v-5.5M509.78 405v5.5M509.78 793v-5.5M525.40 405v10.5M525.40 793v-10.5M541.02 405v5.5M541.02 793v-5.5M556.63 405v5.5M556.63 793v-5.5M572.25 405v5.5M572.25 793v-5.5M587.86 405v5.5M587.86 793v-5.5M112 806H596V993H112ZM119.38 806v5.5M119.38 993v-5.5M135.00 806v10.5M135.00 993v-10.5M150.62 806v5.5M150.62 993v-5.5M166.23 806v5.5M166.23 993v-5.5M181.85 806v5.5M181.85 993v-5.5M197.46 806v5.5M197.46 993v-5.5M213.08 806v10.5M213.08 993v-10.5M228.70 806v5.5M228.70 993v-5.5M244.31 806v5.5M244.31 993v-5.5M259.93 806v5.5M259.93 993v-5.5M275.54 806v5.5M275.54 993v-5.5M291.16 806v10.5M291.16 993v-10.5M306.78 806v5.5M306.78 993v-5.5M322.39 806v5.5M322.39 993v-5.5M338.01 806v5.5M338.01 993v-5.5M353.62 806v5.5M353.62 993v-5.5M369.24 806v10.5M369.24 993v-10.5M384.86 806v5.5M384.86 993v-5.5M400.47 806v5.5M400.47 993v-5.5M416.09 806v5.5M416.09 993v-5.5M431.70 806v5.5M431.70 993v-5.5M447.32 806v10.5M447.32 993v-10.5M462.94 806v5.5M462.94 993v-5.5M478.55 806v5.5M478.55 993v-5.5M494.17 806v5.5M494.17 993v-5.5M509.78 806v5.5M509.78 993v-5.5M525.40 806v10.5M525.40 993v-10.5M541.02 806v5.5M541.02 993v-5.5M556.63 806v5.5M556.63 993v-5.5M572.25 806v5.5M572.25 993v-5.5M587.86 806v5.5M587.86 993v-5.5M112 1006H596V1186H112ZM119.38 1006v5.5M119.38 1186v-5.5M135.00 1006v10.5M135.00 1186v-10.5M150.62 1006v5.5M150.62 1186v-5.5M166.23 1006v5.5M166.23 1186v-5.5M181.85 1006v5.5M181.85 1186v-5.5M197.46 1006v5.5M197.46 1186v-5.5M213.08 1006v10.5M213.08 1186v-10.5M228.70 1006v5.5M228.70 1186v-5.5M244.31 1006v5.5M244.31 1186v-5.5M259.93 1006v5.5M259.93 1186v-5.5M275.54 1006v5.5M275.54 1186v-5.5M291.16 1006v10.5M291.16 1186v-10.5M306.78 1006v5.5M306.78 1186v-5.5M322.39 1006v5.5M322.39 1186v-5.5M338.01 1006v5.5M338.01 1186v-5.5M353.62 1006v5.5M353.62 1186v-5.5M369.24 1006v10.5M369.24 1186v-10.5M384.86 1006v5.5M384.86 1186v-5.5M400.47 1006v5.5M400.47 1186v-5.5M416.09 1006v5.5M416.09 1186v-5.5M431.70 1006v5.5M431.70 1186v-5.5M447.32 1006v10.5M447.32 1186v-10.5M462.94 1006v5.5M462.94 1186v-5.5M478.55 1006v5.5M478.55 1186v-5.5M494.17 1006v5.5M494.17 1186v-5.5M509.78 1006v5.5M509.78 1186v-5.5M525.40 1006v10.5M525.40 1186v-10.5M541.02 1006v5.5M541.02 1186v-5.5M556.63 1006v5.5M556.63 1186v-5.5M572.25 1006v5.5M572.25 1186v-5.5M587.86 1006v5.5M587.86 1186v-5.5M112 364.80h11M596 364.80h-11M112 304.44h11M596 304.44h-11M112 244.08h11M596 244.08h-11M112 183.72h11M596 183.72h-11M112 123.36h11M596 123.36h-11M112 63.00h11M596 63.00h-11M112 334.62h6M596 334.62h-6M112 274.26h6M596 274.26h-6M112 213.90h6M596 213.90h-6M112 153.54h6M596 153.54h-6M112 93.18h6M596 93.18h-6M112 32.82h6M596 32.82h-6M112 747.30h11M596 747.30h-11M112 629.65h11M596 629.65h-11M112 512.00h11M596 512.00h-11M112 688.47h8.5M596 688.47h-8.5M112 570.82h8.5M596 570.82h-8.5M112 453.17h8.5M596 453.17h-8.5M112 978.30h11M596 978.30h-11M112 938.60h11M596 938.60h-11M112 898.90h11M596 898.90h-11M112 859.20h11M596 859.20h-11M112 819.50h11M596 819.50h-11M112 1172.60h11M596 1172.60h-11M112 1134.20h11M596 1134.20h-11M112 1095.80h11M596 1095.80h-11M112 1057.40h11M596 1057.40h-11M112 1019.00h11M596 1019.00h-11" fill="none" stroke="#000" stroke-width="2"/>
<defs><filter id="thin" filterUnits="userSpaceOnUse" x="0" y="0" width="600" height="1280"><feComponentTransfer><feFuncA type="linear" slope="1.6" intercept="-0.15"/></feComponentTransfer></filter></defs>
<filter id="thin2" filterUnits="userSpaceOnUse" x="0" y="0" width="600" height="1280"><feComponentTransfer><feFuncA type="linear" slope="2.4" intercept="-1.0"/></feComponentTransfer></filter>
<g filter="url(#thin)"><text transform="translate(34.8,317.23) rotate(-90)" font-size="31.5" fill="#000" stroke="#000" stroke-width="0.25" textLength="109.32" lengthAdjust="spacingAndGlyphs">Velocity</text><text transform="translate(34.8,182.42) rotate(-90)" font-size="31.5" fill="#000" stroke="#000" stroke-width="0.25" textLength="79.78" lengthAdjust="spacingAndGlyphs">[mm h</text><text transform="translate(18,100.27) rotate(-90)" font-size="21" fill="#000" stroke="#000" stroke-width="0.25" textLength="14.04" lengthAdjust="spacingAndGlyphs">-1</text><text transform="translate(34.8,85.25) rotate(-90)" font-size="31.5" fill="#000" stroke="#000" stroke-width="0.25" textLength="10.45" lengthAdjust="spacingAndGlyphs">]</text><text transform="translate(34.8,799.16) rotate(-90)" font-size="31.5" fill="#000" stroke="#000" stroke-width="0.25" textLength="344.46" lengthAdjust="spacingAndGlyphs">Elemental Elongation Rate</text><text transform="translate(34.8,445.87) rotate(-90)" font-size="31.5" fill="#000" stroke="#000" stroke-width="0.25" textLength="25.27" lengthAdjust="spacingAndGlyphs">[h</text><text transform="translate(18,419.54) rotate(-90)" font-size="21" fill="#000" stroke="#000" stroke-width="0.25" textLength="15.41" lengthAdjust="spacingAndGlyphs">-1</text><text transform="translate(34.8,403.14) rotate(-90)" font-size="31.5" fill="#000" stroke="#000" stroke-width="0.25" textLength="10.30" lengthAdjust="spacingAndGlyphs">]</text><text transform="translate(34.8,1166.45) rotate(-90)" font-size="31.5" fill="#000" stroke="#000" stroke-width="0.25" textLength="300.70" lengthAdjust="spacingAndGlyphs">Standardized Residuals</text><text x="252.05" y="1272" font-size="31" fill="#000" stroke="#000" stroke-width="0.25" textLength="104.25" lengthAdjust="spacingAndGlyphs">Position</text><text x="382.98" y="1272.3" font-size="31" fill="#000" stroke="#000" stroke-width="0.25" textLength="67.19" lengthAdjust="spacingAndGlyphs">[mm]</text><text x="433.11" y="533.5" font-size="32.2" fill="#e80000" stroke="#e80000" stroke-width="0.25" textLength="127.41" lengthAdjust="spacingAndGlyphs">F = 0.399</text><text x="440.30" y="843.7" font-size="27" fill="#000" stroke="#000" stroke-width="0.25" textLength="120.22" lengthAdjust="spacingAndGlyphs">SS = 0.136</text><text x="440.29" y="1043.2" font-size="27" fill="#000" stroke="#000" stroke-width="0.25" textLength="121.01" lengthAdjust="spacingAndGlyphs">SS = 0.269</text><text x="144.40" y="82.6" font-size="51" fill="#000" stroke="#000" stroke-width="0.25" textLength="36.11" lengthAdjust="spacingAndGlyphs">A</text><text x="142.46" y="482.9" font-size="51" fill="#000" stroke="#000" stroke-width="0.25" textLength="34.25" lengthAdjust="spacingAndGlyphs">B</text><text x="143.66" y="973.4" font-size="51" fill="#000" stroke="#000" stroke-width="0.25" textLength="34.81" lengthAdjust="spacingAndGlyphs">C</text><text x="142.43" y="1056.9" font-size="51" fill="#000" stroke="#000" stroke-width="0.25" textLength="37.78" lengthAdjust="spacingAndGlyphs">D</text></g>
<g filter="url(#thin2)"><text x="98.1" y="373.1" font-size="27" text-anchor="end">0.0</text><text x="98.1" y="312.7" font-size="27" text-anchor="end">0.1</text><text x="98.1" y="252.4" font-size="27" text-anchor="end">0.2</text><text x="98.1" y="192.0" font-size="27" text-anchor="end">0.3</text><text x="98.1" y="131.7" font-size="27" text-anchor="end">0.4</text><text x="98.1" y="71.3" font-size="27" text-anchor="end">0.5</text><text x="98.1" y="755.6" font-size="27" text-anchor="end">0.0</text><text x="98.1" y="637.9" font-size="27" text-anchor="end">0.1</text><text x="98.1" y="520.3" font-size="27" text-anchor="end">0.2</text><text x="98.1" y="827.8" font-size="27" text-anchor="end">4</text><text x="98.1" y="907.2" font-size="27" text-anchor="end">0</text><text x="98.1" y="986.6" font-size="27" text-anchor="end">-4</text><text x="98.1" y="1027.3" font-size="27" text-anchor="end">4</text><text x="98.1" y="1104.1" font-size="27" text-anchor="end">0</text><text x="98.1" y="1180.9" font-size="27" text-anchor="end">-4</text><text x="135.00" y="1223.5" font-size="27" text-anchor="middle">0</text><text x="213.08" y="1223.5" font-size="27" text-anchor="middle">1</text><text x="291.16" y="1223.5" font-size="27" text-anchor="middle">2</text><text x="369.24" y="1223.5" font-size="27" text-anchor="middle">3</text><text x="447.32" y="1223.5" font-size="27" text-anchor="middle">4</text><text x="525.40" y="1223.5" font-size="27" text-anchor="middle">5</text></g>
</svg>
</body></html>
